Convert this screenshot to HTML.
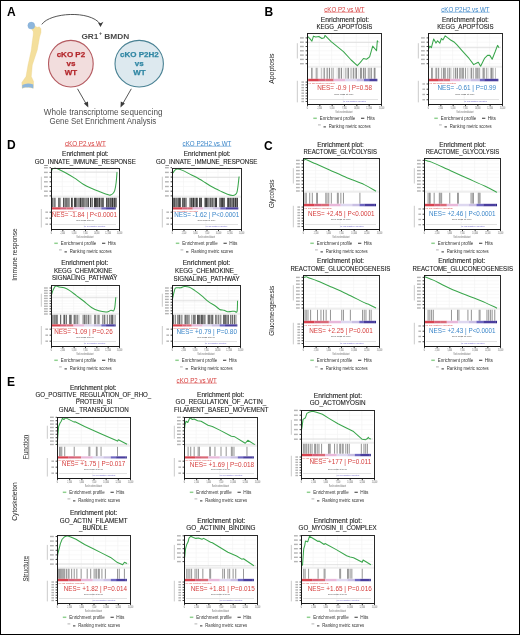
<!DOCTYPE html>
<html><head><meta charset="utf-8"><style>
html,body{margin:0;padding:0;background:#fff;}
body{width:520px;height:635px;overflow:hidden;position:relative;}
svg{position:absolute;left:0;top:0;font-family:"Liberation Sans", sans-serif;will-change:transform;}
.frame{position:absolute;left:0;top:0;width:518px;height:633px;border:1px solid #000;}
</style></head><body>
<svg width="520" height="635" viewBox="0 0 520 635">
<line x1="319.33" y1="34.00" x2="319.33" y2="66.00" stroke="#f1f1f1" stroke-width="0.6" />
<line x1="331.67" y1="34.00" x2="331.67" y2="66.00" stroke="#f1f1f1" stroke-width="0.6" />
<line x1="344.00" y1="34.00" x2="344.00" y2="66.00" stroke="#f1f1f1" stroke-width="0.6" />
<line x1="356.33" y1="34.00" x2="356.33" y2="66.00" stroke="#f1f1f1" stroke-width="0.6" />
<line x1="368.67" y1="34.00" x2="368.67" y2="66.00" stroke="#f1f1f1" stroke-width="0.6" />
<line x1="308.00" y1="37.90" x2="380.00" y2="37.90" stroke="#f4f4f4" stroke-width="0.6" />
<line x1="305.60" y1="37.90" x2="307.00" y2="37.90" stroke="#333" stroke-width="0.9" />
<rect x="300.00" y="37.20" width="3.80" height="1.40" fill="#b4b4b4" />
<line x1="308.00" y1="42.20" x2="380.00" y2="42.20" stroke="#f4f4f4" stroke-width="0.6" />
<line x1="305.60" y1="42.20" x2="307.00" y2="42.20" stroke="#333" stroke-width="0.9" />
<rect x="300.00" y="41.50" width="3.80" height="1.40" fill="#b4b4b4" />
<line x1="308.00" y1="46.50" x2="380.00" y2="46.50" stroke="#f4f4f4" stroke-width="0.6" />
<line x1="305.60" y1="46.50" x2="307.00" y2="46.50" stroke="#333" stroke-width="0.9" />
<rect x="300.00" y="45.80" width="3.80" height="1.40" fill="#b4b4b4" />
<line x1="308.00" y1="50.80" x2="380.00" y2="50.80" stroke="#f4f4f4" stroke-width="0.6" />
<line x1="305.60" y1="50.80" x2="307.00" y2="50.80" stroke="#333" stroke-width="0.9" />
<rect x="300.00" y="50.10" width="3.80" height="1.40" fill="#b4b4b4" />
<line x1="308.00" y1="55.10" x2="380.00" y2="55.10" stroke="#f4f4f4" stroke-width="0.6" />
<line x1="305.60" y1="55.10" x2="307.00" y2="55.10" stroke="#333" stroke-width="0.9" />
<rect x="300.00" y="54.40" width="3.80" height="1.40" fill="#b4b4b4" />
<line x1="308.00" y1="59.40" x2="380.00" y2="59.40" stroke="#f4f4f4" stroke-width="0.6" />
<line x1="305.60" y1="59.40" x2="307.00" y2="59.40" stroke="#333" stroke-width="0.9" />
<rect x="300.00" y="58.70" width="3.80" height="1.40" fill="#b4b4b4" />
<line x1="308.00" y1="63.70" x2="380.00" y2="63.70" stroke="#f4f4f4" stroke-width="0.6" />
<line x1="305.60" y1="63.70" x2="307.00" y2="63.70" stroke="#333" stroke-width="0.9" />
<rect x="300.00" y="63.00" width="3.80" height="1.40" fill="#b4b4b4" />
<rect x="308.00" y="65.70" width="73.00" height="1.30" fill="#f0f0f0" />
<line x1="308.00" y1="67.30" x2="381.00" y2="67.30" stroke="#dcdcdc" stroke-width="0.5" />
<line x1="308.00" y1="42.31" x2="380.00" y2="42.31" stroke="#d9d9d9" stroke-width="0.8" />
<line x1="305.60" y1="82.08" x2="307.00" y2="82.08" stroke="#333" stroke-width="0.9" />
<rect x="301.40" y="81.38" width="2.60" height="1.40" fill="#b4b4b4" />
<line x1="305.60" y1="84.85" x2="307.00" y2="84.85" stroke="#333" stroke-width="0.9" />
<rect x="301.40" y="84.15" width="2.60" height="1.40" fill="#b4b4b4" />
<line x1="305.60" y1="87.63" x2="307.00" y2="87.63" stroke="#333" stroke-width="0.9" />
<rect x="301.40" y="86.93" width="2.60" height="1.40" fill="#b4b4b4" />
<line x1="305.60" y1="90.40" x2="307.00" y2="90.40" stroke="#333" stroke-width="0.9" />
<rect x="301.40" y="89.70" width="2.60" height="1.40" fill="#b4b4b4" />
<line x1="305.60" y1="93.18" x2="307.00" y2="93.18" stroke="#333" stroke-width="0.9" />
<rect x="301.40" y="92.48" width="2.60" height="1.40" fill="#b4b4b4" />
<line x1="305.60" y1="95.95" x2="307.00" y2="95.95" stroke="#333" stroke-width="0.9" />
<rect x="301.40" y="95.25" width="2.60" height="1.40" fill="#b4b4b4" />
<line x1="305.60" y1="98.73" x2="307.00" y2="98.73" stroke="#333" stroke-width="0.9" />
<rect x="301.40" y="98.03" width="2.60" height="1.40" fill="#b4b4b4" />
<line x1="305.60" y1="101.50" x2="307.00" y2="101.50" stroke="#333" stroke-width="0.9" />
<rect x="301.40" y="100.80" width="2.60" height="1.40" fill="#b4b4b4" />
<line x1="309.00" y1="99.50" x2="378.00" y2="99.50" stroke="#d6d6d6" stroke-width="0.7" />
<line x1="343.26" y1="93.78" x2="343.26" y2="103.50" stroke="#e0e0e0" stroke-width="0.6" stroke-dasharray="0.8,0.8"/>
<rect x="311.00" y="67.80" width="1.00" height="11.00" fill="rgb(161,161,161)" />
<rect x="312.00" y="67.80" width="1.00" height="11.00" fill="rgb(193,193,193)" />
<rect x="313.00" y="67.80" width="1.00" height="11.00" fill="rgb(250,250,250)" />
<rect x="314.00" y="67.80" width="1.00" height="11.00" fill="rgb(250,250,250)" />
<rect x="315.00" y="67.80" width="1.00" height="11.00" fill="rgb(221,221,221)" />
<rect x="316.00" y="67.80" width="1.00" height="11.00" fill="rgb(176,176,176)" />
<rect x="317.00" y="67.80" width="1.00" height="11.00" fill="rgb(201,201,201)" />
<rect x="318.00" y="67.80" width="1.00" height="11.00" fill="rgb(247,247,247)" />
<rect x="319.00" y="67.80" width="1.00" height="11.00" fill="rgb(250,250,250)" />
<rect x="320.00" y="67.80" width="1.00" height="11.00" fill="rgb(241,241,241)" />
<rect x="321.00" y="67.80" width="1.00" height="11.00" fill="rgb(200,200,200)" />
<rect x="322.00" y="67.80" width="1.00" height="11.00" fill="rgb(243,243,243)" />
<rect x="323.00" y="67.80" width="1.00" height="11.00" fill="rgb(205,205,205)" />
<rect x="324.00" y="67.80" width="1.00" height="11.00" fill="rgb(163,163,163)" />
<rect x="325.00" y="67.80" width="1.00" height="11.00" fill="rgb(250,250,250)" />
<rect x="326.00" y="67.80" width="1.00" height="11.00" fill="rgb(207,207,207)" />
<rect x="327.00" y="67.80" width="1.00" height="11.00" fill="rgb(170,170,170)" />
<rect x="328.00" y="67.80" width="1.00" height="11.00" fill="rgb(240,240,240)" />
<rect x="329.00" y="67.80" width="1.00" height="11.00" fill="rgb(140,140,140)" />
<rect x="330.00" y="67.80" width="1.00" height="11.00" fill="rgb(250,250,250)" />
<rect x="331.00" y="67.80" width="1.00" height="11.00" fill="rgb(187,187,187)" />
<rect x="332.00" y="67.80" width="1.00" height="11.00" fill="rgb(214,214,214)" />
<rect x="333.00" y="67.80" width="1.00" height="11.00" fill="rgb(194,194,194)" />
<rect x="334.00" y="67.80" width="1.00" height="11.00" fill="rgb(250,250,250)" />
<rect x="335.00" y="67.80" width="1.00" height="11.00" fill="rgb(250,250,250)" />
<rect x="336.00" y="67.80" width="1.00" height="11.00" fill="rgb(241,241,241)" />
<rect x="337.00" y="67.80" width="1.00" height="11.00" fill="rgb(236,236,236)" />
<rect x="338.00" y="67.80" width="1.00" height="11.00" fill="rgb(169,169,169)" />
<rect x="339.00" y="67.80" width="1.00" height="11.00" fill="rgb(169,169,169)" />
<rect x="340.00" y="67.80" width="1.00" height="11.00" fill="rgb(228,228,228)" />
<rect x="341.00" y="67.80" width="1.00" height="11.00" fill="rgb(145,145,145)" />
<rect x="342.00" y="67.80" width="1.00" height="11.00" fill="rgb(250,250,250)" />
<rect x="343.00" y="67.80" width="1.00" height="11.00" fill="rgb(234,234,234)" />
<rect x="344.00" y="67.80" width="1.00" height="11.00" fill="rgb(238,238,238)" />
<rect x="345.00" y="67.80" width="1.00" height="11.00" fill="rgb(192,192,192)" />
<rect x="346.00" y="67.80" width="1.00" height="11.00" fill="rgb(218,218,218)" />
<rect x="347.00" y="67.80" width="1.00" height="11.00" fill="rgb(196,196,196)" />
<rect x="348.00" y="67.80" width="1.00" height="11.00" fill="rgb(144,144,144)" />
<rect x="349.00" y="67.80" width="1.00" height="11.00" fill="rgb(250,250,250)" />
<rect x="350.00" y="67.80" width="1.00" height="11.00" fill="rgb(209,209,209)" />
<rect x="351.00" y="67.80" width="1.00" height="11.00" fill="rgb(203,203,203)" />
<rect x="352.00" y="67.80" width="1.00" height="11.00" fill="rgb(228,228,228)" />
<rect x="353.00" y="67.80" width="1.00" height="11.00" fill="rgb(154,154,154)" />
<rect x="354.00" y="67.80" width="1.00" height="11.00" fill="rgb(223,223,223)" />
<rect x="355.00" y="67.80" width="1.00" height="11.00" fill="rgb(187,187,187)" />
<rect x="356.00" y="67.80" width="1.00" height="11.00" fill="rgb(142,142,142)" />
<rect x="357.00" y="67.80" width="1.00" height="11.00" fill="rgb(250,250,250)" />
<rect x="358.00" y="67.80" width="1.00" height="11.00" fill="rgb(234,234,234)" />
<rect x="359.00" y="67.80" width="1.00" height="11.00" fill="rgb(244,244,244)" />
<rect x="360.00" y="67.80" width="1.00" height="11.00" fill="rgb(151,151,151)" />
<rect x="361.00" y="67.80" width="1.00" height="11.00" fill="rgb(155,155,155)" />
<rect x="362.00" y="67.80" width="1.00" height="11.00" fill="rgb(243,243,243)" />
<rect x="363.00" y="67.80" width="1.00" height="11.00" fill="rgb(142,142,142)" />
<rect x="364.00" y="67.80" width="1.00" height="11.00" fill="rgb(198,198,198)" />
<rect x="365.00" y="67.80" width="1.00" height="11.00" fill="rgb(160,160,160)" />
<rect x="366.00" y="67.80" width="1.00" height="11.00" fill="rgb(250,250,250)" />
<rect x="367.00" y="67.80" width="1.00" height="11.00" fill="rgb(233,233,233)" />
<rect x="368.00" y="67.80" width="1.00" height="11.00" fill="rgb(183,183,183)" />
<rect x="369.00" y="67.80" width="1.00" height="11.00" fill="rgb(191,191,191)" />
<rect x="370.00" y="67.80" width="1.00" height="11.00" fill="rgb(202,202,202)" />
<rect x="371.00" y="67.80" width="1.00" height="11.00" fill="rgb(159,159,159)" />
<rect x="372.00" y="67.80" width="1.00" height="11.00" fill="rgb(250,250,250)" />
<rect x="373.00" y="67.80" width="1.00" height="11.00" fill="rgb(225,225,225)" />
<rect x="374.00" y="67.80" width="1.00" height="11.00" fill="rgb(144,144,144)" />
<rect x="375.00" y="67.80" width="1.00" height="11.00" fill="rgb(200,200,200)" />
<rect x="308.18" y="78.80" width="10.71" height="2.48" fill="#d8424f" />
<rect x="318.84" y="78.80" width="6.71" height="2.48" fill="#d6607a" />
<rect x="325.50" y="78.80" width="8.19" height="2.48" fill="#da6a78" />
<rect x="333.64" y="78.80" width="11.89" height="2.48" fill="#e8b8da" />
<rect x="345.48" y="78.80" width="11.15" height="2.48" fill="#ded8f0" />
<rect x="356.58" y="78.80" width="7.45" height="2.48" fill="#cac0e4" />
<rect x="363.98" y="78.80" width="5.23" height="2.48" fill="#7068c2" />
<rect x="369.16" y="78.80" width="7.08" height="2.48" fill="#4a3e9e" />
<rect x="376.19" y="78.80" width="1.16" height="2.48" fill="#302888" />
<text x="308.50" y="83.58" font-size="2.0" fill="#d6403f" font-weight="normal" text-anchor="start" textLength="26.62" lengthAdjust="spacingAndGlyphs" >na_pos (positively correlated)</text>
<text x="343.26" y="102.40" font-size="2.2" fill="#5a50c0" font-weight="normal" text-anchor="start" textLength="22.94" lengthAdjust="spacingAndGlyphs" >na_neg (negatively correlated)</text>
<text x="334.38" y="95.14" font-size="2.3" fill="#444" font-weight="normal" text-anchor="start" textLength="19.24" lengthAdjust="spacingAndGlyphs" >Zero cross at 7919</text>
<polyline points="307.31,36.15 309.62,38.46 311.92,41.08 313.46,36.15 315.77,36.92 318.85,36.46 321.92,38.46 324.23,37.69 325.00,35.38 331.15,41.54 343.46,51.54 351.15,60.00 357.31,65.69 360.38,62.31 363.46,58.46 366.54,59.23 369.62,56.92 372.69,46.15 376.54,50.77 377.31,40.77 378.08,42.00" fill="none" stroke="#3aa64c" stroke-width="1.05" stroke-linejoin="round"/>
<text x="317.30" y="90.30" font-size="7.3" fill="#d6403f" font-weight="normal" text-anchor="start" textLength="54.70" lengthAdjust="spacingAndGlyphs" >NES= -0.9 | P=0.58</text>
<rect x="307.5" y="33.5" width="74" height="71" fill="none" stroke="#2a2a2a" stroke-width="1"/>
<line x1="307.50" y1="33.00" x2="307.50" y2="105.00" stroke="#1a1a1a" stroke-width="1.0" />
<line x1="307.00" y1="104.50" x2="382.00" y2="104.50" stroke="#1a1a1a" stroke-width="1.1" />
<line x1="307.50" y1="105.00" x2="307.50" y2="106.20" stroke="#222" stroke-width="0.9" />
<text x="306.85" y="109.00" font-size="3.1" fill="#666" font-weight="normal" text-anchor="start" textLength="1.30" lengthAdjust="spacingAndGlyphs" >0</text>
<line x1="319.83" y1="105.00" x2="319.83" y2="106.20" stroke="#222" stroke-width="0.9" />
<text x="317.53" y="109.00" font-size="3.1" fill="#666" font-weight="normal" text-anchor="start" textLength="4.60" lengthAdjust="spacingAndGlyphs" >2,500</text>
<line x1="332.17" y1="105.00" x2="332.17" y2="106.20" stroke="#222" stroke-width="0.9" />
<text x="329.87" y="109.00" font-size="3.1" fill="#666" font-weight="normal" text-anchor="start" textLength="4.60" lengthAdjust="spacingAndGlyphs" >5,000</text>
<line x1="344.50" y1="105.00" x2="344.50" y2="106.20" stroke="#222" stroke-width="0.9" />
<text x="342.20" y="109.00" font-size="3.1" fill="#666" font-weight="normal" text-anchor="start" textLength="4.60" lengthAdjust="spacingAndGlyphs" >7,500</text>
<line x1="356.83" y1="105.00" x2="356.83" y2="106.20" stroke="#222" stroke-width="0.9" />
<text x="354.03" y="109.00" font-size="3.1" fill="#666" font-weight="normal" text-anchor="start" textLength="5.60" lengthAdjust="spacingAndGlyphs" >10,000</text>
<line x1="369.17" y1="105.00" x2="369.17" y2="106.20" stroke="#222" stroke-width="0.9" />
<text x="366.37" y="109.00" font-size="3.1" fill="#666" font-weight="normal" text-anchor="start" textLength="5.60" lengthAdjust="spacingAndGlyphs" >12,500</text>
<line x1="381.50" y1="105.00" x2="381.50" y2="106.20" stroke="#222" stroke-width="0.9" />
<text x="378.70" y="109.00" font-size="3.1" fill="#666" font-weight="normal" text-anchor="start" textLength="5.60" lengthAdjust="spacingAndGlyphs" >15,000</text>
<text x="335.50" y="113.00" font-size="2.9" fill="#666" font-weight="normal" text-anchor="start" textLength="17.00" lengthAdjust="spacingAndGlyphs" >Rank in ordered dataset</text>
<rect x="296.80" y="43.20" width="1.10" height="15.30" fill="#d0d0d0" />
<rect x="296.80" y="80.78" width="1.10" height="21.58" fill="#d0d0d0" />
<line x1="313.30" y1="118.30" x2="316.80" y2="118.30" stroke="#8fd08f" stroke-width="1.5" />
<text x="319.80" y="119.90" font-size="5.3" fill="#333" font-weight="normal" text-anchor="start" textLength="35.40" lengthAdjust="spacingAndGlyphs" >Enrichment profile</text>
<line x1="361.00" y1="118.30" x2="364.30" y2="118.30" stroke="#555" stroke-width="1.2" />
<text x="366.80" y="119.90" font-size="5.3" fill="#333" font-weight="normal" text-anchor="start" textLength="8.20" lengthAdjust="spacingAndGlyphs" >Hits</text>
<line x1="318.00" y1="124.90" x2="320.80" y2="124.90" stroke="#aaa" stroke-width="0.9" />
<line x1="323.50" y1="126.90" x2="325.90" y2="126.90" stroke="#333" stroke-width="1.0" />
<text x="328.80" y="127.60" font-size="5.3" fill="#333" font-weight="normal" text-anchor="start" textLength="41.80" lengthAdjust="spacingAndGlyphs" >Ranking metric scores</text>
<line x1="440.33" y1="34.00" x2="440.33" y2="66.00" stroke="#f1f1f1" stroke-width="0.6" />
<line x1="452.67" y1="34.00" x2="452.67" y2="66.00" stroke="#f1f1f1" stroke-width="0.6" />
<line x1="465.00" y1="34.00" x2="465.00" y2="66.00" stroke="#f1f1f1" stroke-width="0.6" />
<line x1="477.33" y1="34.00" x2="477.33" y2="66.00" stroke="#f1f1f1" stroke-width="0.6" />
<line x1="489.67" y1="34.00" x2="489.67" y2="66.00" stroke="#f1f1f1" stroke-width="0.6" />
<line x1="429.00" y1="37.90" x2="501.00" y2="37.90" stroke="#f4f4f4" stroke-width="0.6" />
<line x1="426.60" y1="37.90" x2="428.00" y2="37.90" stroke="#333" stroke-width="0.9" />
<rect x="421.00" y="37.20" width="3.80" height="1.40" fill="#b4b4b4" />
<line x1="429.00" y1="42.20" x2="501.00" y2="42.20" stroke="#f4f4f4" stroke-width="0.6" />
<line x1="426.60" y1="42.20" x2="428.00" y2="42.20" stroke="#333" stroke-width="0.9" />
<rect x="421.00" y="41.50" width="3.80" height="1.40" fill="#b4b4b4" />
<line x1="429.00" y1="46.50" x2="501.00" y2="46.50" stroke="#f4f4f4" stroke-width="0.6" />
<line x1="426.60" y1="46.50" x2="428.00" y2="46.50" stroke="#333" stroke-width="0.9" />
<rect x="421.00" y="45.80" width="3.80" height="1.40" fill="#b4b4b4" />
<line x1="429.00" y1="50.80" x2="501.00" y2="50.80" stroke="#f4f4f4" stroke-width="0.6" />
<line x1="426.60" y1="50.80" x2="428.00" y2="50.80" stroke="#333" stroke-width="0.9" />
<rect x="421.00" y="50.10" width="3.80" height="1.40" fill="#b4b4b4" />
<line x1="429.00" y1="55.10" x2="501.00" y2="55.10" stroke="#f4f4f4" stroke-width="0.6" />
<line x1="426.60" y1="55.10" x2="428.00" y2="55.10" stroke="#333" stroke-width="0.9" />
<rect x="421.00" y="54.40" width="3.80" height="1.40" fill="#b4b4b4" />
<line x1="429.00" y1="59.40" x2="501.00" y2="59.40" stroke="#f4f4f4" stroke-width="0.6" />
<line x1="426.60" y1="59.40" x2="428.00" y2="59.40" stroke="#333" stroke-width="0.9" />
<rect x="421.00" y="58.70" width="3.80" height="1.40" fill="#b4b4b4" />
<line x1="429.00" y1="63.70" x2="501.00" y2="63.70" stroke="#f4f4f4" stroke-width="0.6" />
<line x1="426.60" y1="63.70" x2="428.00" y2="63.70" stroke="#333" stroke-width="0.9" />
<rect x="421.00" y="63.00" width="3.80" height="1.40" fill="#b4b4b4" />
<rect x="429.00" y="65.70" width="73.00" height="1.30" fill="#f0f0f0" />
<line x1="429.00" y1="67.30" x2="502.00" y2="67.30" stroke="#dcdcdc" stroke-width="0.5" />
<line x1="429.00" y1="47.69" x2="501.00" y2="47.69" stroke="#d9d9d9" stroke-width="0.8" />
<line x1="426.60" y1="83.98" x2="428.00" y2="83.98" stroke="#333" stroke-width="0.9" />
<rect x="422.40" y="83.28" width="2.60" height="1.40" fill="#b4b4b4" />
<line x1="426.60" y1="89.23" x2="428.00" y2="89.23" stroke="#333" stroke-width="0.9" />
<rect x="422.40" y="88.53" width="2.60" height="1.40" fill="#b4b4b4" />
<line x1="426.60" y1="94.48" x2="428.00" y2="94.48" stroke="#333" stroke-width="0.9" />
<rect x="422.40" y="93.78" width="2.60" height="1.40" fill="#b4b4b4" />
<line x1="426.60" y1="99.73" x2="428.00" y2="99.73" stroke="#333" stroke-width="0.9" />
<rect x="422.40" y="99.03" width="2.60" height="1.40" fill="#b4b4b4" />
<line x1="430.00" y1="99.50" x2="499.00" y2="99.50" stroke="#d6d6d6" stroke-width="0.7" />
<line x1="464.26" y1="93.78" x2="464.26" y2="103.50" stroke="#e0e0e0" stroke-width="0.6" stroke-dasharray="0.8,0.8"/>
<rect x="431.00" y="67.80" width="1.00" height="11.00" fill="rgb(157,157,157)" />
<rect x="432.00" y="67.80" width="1.00" height="11.00" fill="rgb(171,171,171)" />
<rect x="433.00" y="67.80" width="1.00" height="11.00" fill="rgb(250,250,250)" />
<rect x="434.00" y="67.80" width="1.00" height="11.00" fill="rgb(250,250,250)" />
<rect x="435.00" y="67.80" width="1.00" height="11.00" fill="rgb(197,197,197)" />
<rect x="436.00" y="67.80" width="1.00" height="11.00" fill="rgb(163,163,163)" />
<rect x="437.00" y="67.80" width="1.00" height="11.00" fill="rgb(229,229,229)" />
<rect x="438.00" y="67.80" width="1.00" height="11.00" fill="rgb(155,155,155)" />
<rect x="439.00" y="67.80" width="1.00" height="11.00" fill="rgb(234,234,234)" />
<rect x="440.00" y="67.80" width="1.00" height="11.00" fill="rgb(250,250,250)" />
<rect x="441.00" y="67.80" width="1.00" height="11.00" fill="rgb(184,184,184)" />
<rect x="442.00" y="67.80" width="1.00" height="11.00" fill="rgb(241,241,241)" />
<rect x="443.00" y="67.80" width="1.00" height="11.00" fill="rgb(150,150,150)" />
<rect x="444.00" y="67.80" width="1.00" height="11.00" fill="rgb(169,169,169)" />
<rect x="445.00" y="67.80" width="1.00" height="11.00" fill="rgb(174,174,174)" />
<rect x="446.00" y="67.80" width="1.00" height="11.00" fill="rgb(250,250,250)" />
<rect x="447.00" y="67.80" width="1.00" height="11.00" fill="rgb(180,180,180)" />
<rect x="448.00" y="67.80" width="1.00" height="11.00" fill="rgb(216,216,216)" />
<rect x="449.00" y="67.80" width="1.00" height="11.00" fill="rgb(162,162,162)" />
<rect x="450.00" y="67.80" width="1.00" height="11.00" fill="rgb(210,210,210)" />
<rect x="451.00" y="67.80" width="1.00" height="11.00" fill="rgb(227,227,227)" />
<rect x="452.00" y="67.80" width="1.00" height="11.00" fill="rgb(250,250,250)" />
<rect x="453.00" y="67.80" width="1.00" height="11.00" fill="rgb(195,195,195)" />
<rect x="454.00" y="67.80" width="1.00" height="11.00" fill="rgb(230,230,230)" />
<rect x="455.00" y="67.80" width="1.00" height="11.00" fill="rgb(146,146,146)" />
<rect x="456.00" y="67.80" width="1.00" height="11.00" fill="rgb(213,213,213)" />
<rect x="457.00" y="67.80" width="1.00" height="11.00" fill="rgb(142,142,142)" />
<rect x="458.00" y="67.80" width="1.00" height="11.00" fill="rgb(250,250,250)" />
<rect x="459.00" y="67.80" width="1.00" height="11.00" fill="rgb(173,173,173)" />
<rect x="460.00" y="67.80" width="1.00" height="11.00" fill="rgb(179,179,179)" />
<rect x="461.00" y="67.80" width="1.00" height="11.00" fill="rgb(193,193,193)" />
<rect x="462.00" y="67.80" width="1.00" height="11.00" fill="rgb(164,164,164)" />
<rect x="463.00" y="67.80" width="1.00" height="11.00" fill="rgb(163,163,163)" />
<rect x="464.00" y="67.80" width="1.00" height="11.00" fill="rgb(248,248,248)" />
<rect x="465.00" y="67.80" width="1.00" height="11.00" fill="rgb(154,154,154)" />
<rect x="466.00" y="67.80" width="1.00" height="11.00" fill="rgb(250,250,250)" />
<rect x="467.00" y="67.80" width="1.00" height="11.00" fill="rgb(207,207,207)" />
<rect x="468.00" y="67.80" width="1.00" height="11.00" fill="rgb(233,233,233)" />
<rect x="469.00" y="67.80" width="1.00" height="11.00" fill="rgb(239,239,239)" />
<rect x="470.00" y="67.80" width="1.00" height="11.00" fill="rgb(212,212,212)" />
<rect x="471.00" y="67.80" width="1.00" height="11.00" fill="rgb(147,147,147)" />
<rect x="472.00" y="67.80" width="1.00" height="11.00" fill="rgb(229,229,229)" />
<rect x="473.00" y="67.80" width="1.00" height="11.00" fill="rgb(181,181,181)" />
<rect x="474.00" y="67.80" width="1.00" height="11.00" fill="rgb(250,250,250)" />
<rect x="475.00" y="67.80" width="1.00" height="11.00" fill="rgb(182,182,182)" />
<rect x="476.00" y="67.80" width="1.00" height="11.00" fill="rgb(173,173,173)" />
<rect x="477.00" y="67.80" width="1.00" height="11.00" fill="rgb(163,163,163)" />
<rect x="478.00" y="67.80" width="1.00" height="11.00" fill="rgb(190,190,190)" />
<rect x="479.00" y="67.80" width="1.00" height="11.00" fill="rgb(179,179,179)" />
<rect x="480.00" y="67.80" width="1.00" height="11.00" fill="rgb(239,239,239)" />
<rect x="481.00" y="67.80" width="1.00" height="11.00" fill="rgb(250,250,250)" />
<rect x="482.00" y="67.80" width="1.00" height="11.00" fill="rgb(205,205,205)" />
<rect x="483.00" y="67.80" width="1.00" height="11.00" fill="rgb(158,158,158)" />
<rect x="484.00" y="67.80" width="1.00" height="11.00" fill="rgb(175,175,175)" />
<rect x="485.00" y="67.80" width="1.00" height="11.00" fill="rgb(245,245,245)" />
<rect x="486.00" y="67.80" width="1.00" height="11.00" fill="rgb(174,174,174)" />
<rect x="487.00" y="67.80" width="1.00" height="11.00" fill="rgb(225,225,225)" />
<rect x="488.00" y="67.80" width="1.00" height="11.00" fill="rgb(228,228,228)" />
<rect x="489.00" y="67.80" width="1.00" height="11.00" fill="rgb(250,250,250)" />
<rect x="490.00" y="67.80" width="1.00" height="11.00" fill="rgb(195,195,195)" />
<rect x="491.00" y="67.80" width="1.00" height="11.00" fill="rgb(146,146,146)" />
<rect x="492.00" y="67.80" width="1.00" height="11.00" fill="rgb(183,183,183)" />
<rect x="493.00" y="67.80" width="1.00" height="11.00" fill="rgb(208,208,208)" />
<rect x="494.00" y="67.80" width="1.00" height="11.00" fill="rgb(250,250,250)" />
<rect x="495.00" y="67.80" width="1.00" height="11.00" fill="rgb(193,193,193)" />
<rect x="428.52" y="78.80" width="9.52" height="2.48" fill="#d8424f" />
<rect x="437.99" y="78.80" width="5.54" height="2.48" fill="#d6607a" />
<rect x="443.48" y="78.80" width="6.77" height="2.48" fill="#da6a78" />
<rect x="450.20" y="78.80" width="10.41" height="2.48" fill="#e8b8da" />
<rect x="460.56" y="78.80" width="10.41" height="2.48" fill="#ded8f0" />
<rect x="470.92" y="78.80" width="8.93" height="2.48" fill="#cac0e4" />
<rect x="479.80" y="78.80" width="4.49" height="2.48" fill="#7068c2" />
<rect x="484.24" y="78.80" width="13.00" height="2.48" fill="#4a3e9e" />
<rect x="497.19" y="78.80" width="1.16" height="2.48" fill="#302888" />
<text x="429.50" y="83.58" font-size="2.0" fill="#d6403f" font-weight="normal" text-anchor="start" textLength="26.62" lengthAdjust="spacingAndGlyphs" >na_pos (positively correlated)</text>
<text x="464.26" y="102.40" font-size="2.2" fill="#5a50c0" font-weight="normal" text-anchor="start" textLength="22.94" lengthAdjust="spacingAndGlyphs" >na_neg (negatively correlated)</text>
<text x="455.38" y="95.14" font-size="2.3" fill="#444" font-weight="normal" text-anchor="start" textLength="19.24" lengthAdjust="spacingAndGlyphs" >Zero cross at 7919</text>
<polyline points="428.31,49.23 429.85,46.15 431.38,47.69 433.69,38.92 436.00,43.08 437.54,40.77 439.85,43.08 441.38,38.46 442.92,40.00 445.23,35.85 447.54,37.69 450.62,40.00 454.46,42.31 456.77,44.62 462.92,51.54 469.08,58.46 473.69,64.62 476.77,63.08 478.31,62.31 480.62,66.15 484.46,58.46 487.54,55.38 489.85,55.38 492.15,59.23 495.23,51.54 497.54,45.38 499.08,47.69" fill="none" stroke="#3aa64c" stroke-width="1.05" stroke-linejoin="round"/>
<text x="437.50" y="90.30" font-size="7.3" fill="#3b86c9" font-weight="normal" text-anchor="start" textLength="58.50" lengthAdjust="spacingAndGlyphs" >NES= -0.61 | P=0.99</text>
<rect x="428.5" y="33.5" width="74" height="71" fill="none" stroke="#2a2a2a" stroke-width="1"/>
<line x1="428.50" y1="33.00" x2="428.50" y2="105.00" stroke="#1a1a1a" stroke-width="1.0" />
<line x1="428.00" y1="104.50" x2="503.00" y2="104.50" stroke="#1a1a1a" stroke-width="1.1" />
<line x1="428.50" y1="105.00" x2="428.50" y2="106.20" stroke="#222" stroke-width="0.9" />
<text x="427.85" y="109.00" font-size="3.1" fill="#666" font-weight="normal" text-anchor="start" textLength="1.30" lengthAdjust="spacingAndGlyphs" >0</text>
<line x1="440.83" y1="105.00" x2="440.83" y2="106.20" stroke="#222" stroke-width="0.9" />
<text x="438.53" y="109.00" font-size="3.1" fill="#666" font-weight="normal" text-anchor="start" textLength="4.60" lengthAdjust="spacingAndGlyphs" >2,500</text>
<line x1="453.17" y1="105.00" x2="453.17" y2="106.20" stroke="#222" stroke-width="0.9" />
<text x="450.87" y="109.00" font-size="3.1" fill="#666" font-weight="normal" text-anchor="start" textLength="4.60" lengthAdjust="spacingAndGlyphs" >5,000</text>
<line x1="465.50" y1="105.00" x2="465.50" y2="106.20" stroke="#222" stroke-width="0.9" />
<text x="463.20" y="109.00" font-size="3.1" fill="#666" font-weight="normal" text-anchor="start" textLength="4.60" lengthAdjust="spacingAndGlyphs" >7,500</text>
<line x1="477.83" y1="105.00" x2="477.83" y2="106.20" stroke="#222" stroke-width="0.9" />
<text x="475.03" y="109.00" font-size="3.1" fill="#666" font-weight="normal" text-anchor="start" textLength="5.60" lengthAdjust="spacingAndGlyphs" >10,000</text>
<line x1="490.17" y1="105.00" x2="490.17" y2="106.20" stroke="#222" stroke-width="0.9" />
<text x="487.37" y="109.00" font-size="3.1" fill="#666" font-weight="normal" text-anchor="start" textLength="5.60" lengthAdjust="spacingAndGlyphs" >12,500</text>
<line x1="502.50" y1="105.00" x2="502.50" y2="106.20" stroke="#222" stroke-width="0.9" />
<text x="499.70" y="109.00" font-size="3.1" fill="#666" font-weight="normal" text-anchor="start" textLength="5.60" lengthAdjust="spacingAndGlyphs" >15,000</text>
<text x="456.50" y="113.00" font-size="2.9" fill="#666" font-weight="normal" text-anchor="start" textLength="17.00" lengthAdjust="spacingAndGlyphs" >Rank in ordered dataset</text>
<rect x="417.80" y="43.20" width="1.10" height="15.30" fill="#d0d0d0" />
<rect x="417.80" y="80.78" width="1.10" height="21.58" fill="#d0d0d0" />
<line x1="434.30" y1="118.30" x2="437.80" y2="118.30" stroke="#8fd08f" stroke-width="1.5" />
<text x="440.80" y="119.90" font-size="5.3" fill="#333" font-weight="normal" text-anchor="start" textLength="35.40" lengthAdjust="spacingAndGlyphs" >Enrichment profile</text>
<line x1="482.00" y1="118.30" x2="485.30" y2="118.30" stroke="#555" stroke-width="1.2" />
<text x="487.80" y="119.90" font-size="5.3" fill="#333" font-weight="normal" text-anchor="start" textLength="8.20" lengthAdjust="spacingAndGlyphs" >Hits</text>
<line x1="439.00" y1="124.90" x2="441.80" y2="124.90" stroke="#aaa" stroke-width="0.9" />
<line x1="444.50" y1="126.90" x2="446.90" y2="126.90" stroke="#333" stroke-width="1.0" />
<text x="449.80" y="127.60" font-size="5.3" fill="#333" font-weight="normal" text-anchor="start" textLength="41.80" lengthAdjust="spacingAndGlyphs" >Ranking metric scores</text>
<line x1="62.33" y1="169.00" x2="62.33" y2="196.00" stroke="#f1f1f1" stroke-width="0.6" />
<line x1="73.67" y1="169.00" x2="73.67" y2="196.00" stroke="#f1f1f1" stroke-width="0.6" />
<line x1="85.00" y1="169.00" x2="85.00" y2="196.00" stroke="#f1f1f1" stroke-width="0.6" />
<line x1="96.33" y1="169.00" x2="96.33" y2="196.00" stroke="#f1f1f1" stroke-width="0.6" />
<line x1="107.67" y1="169.00" x2="107.67" y2="196.00" stroke="#f1f1f1" stroke-width="0.6" />
<line x1="52.00" y1="167.70" x2="118.00" y2="167.70" stroke="#f4f4f4" stroke-width="0.6" />
<line x1="49.60" y1="167.70" x2="51.00" y2="167.70" stroke="#333" stroke-width="0.9" />
<rect x="44.00" y="167.00" width="3.80" height="1.40" fill="#b4b4b4" />
<line x1="52.00" y1="172.40" x2="118.00" y2="172.40" stroke="#f4f4f4" stroke-width="0.6" />
<line x1="49.60" y1="172.40" x2="51.00" y2="172.40" stroke="#333" stroke-width="0.9" />
<rect x="44.00" y="171.70" width="3.80" height="1.40" fill="#b4b4b4" />
<line x1="52.00" y1="177.10" x2="118.00" y2="177.10" stroke="#f4f4f4" stroke-width="0.6" />
<line x1="49.60" y1="177.10" x2="51.00" y2="177.10" stroke="#333" stroke-width="0.9" />
<rect x="44.00" y="176.40" width="3.80" height="1.40" fill="#b4b4b4" />
<line x1="52.00" y1="181.80" x2="118.00" y2="181.80" stroke="#f4f4f4" stroke-width="0.6" />
<line x1="49.60" y1="181.80" x2="51.00" y2="181.80" stroke="#333" stroke-width="0.9" />
<rect x="44.00" y="181.10" width="3.80" height="1.40" fill="#b4b4b4" />
<line x1="52.00" y1="186.50" x2="118.00" y2="186.50" stroke="#f4f4f4" stroke-width="0.6" />
<line x1="49.60" y1="186.50" x2="51.00" y2="186.50" stroke="#333" stroke-width="0.9" />
<rect x="44.00" y="185.80" width="3.80" height="1.40" fill="#b4b4b4" />
<line x1="52.00" y1="191.20" x2="118.00" y2="191.20" stroke="#f4f4f4" stroke-width="0.6" />
<line x1="49.60" y1="191.20" x2="51.00" y2="191.20" stroke="#333" stroke-width="0.9" />
<rect x="44.00" y="190.50" width="3.80" height="1.40" fill="#b4b4b4" />
<line x1="52.00" y1="195.90" x2="118.00" y2="195.90" stroke="#f4f4f4" stroke-width="0.6" />
<line x1="49.60" y1="195.90" x2="51.00" y2="195.90" stroke="#333" stroke-width="0.9" />
<rect x="44.00" y="195.20" width="3.80" height="1.40" fill="#b4b4b4" />
<rect x="52.00" y="195.70" width="67.00" height="1.30" fill="#f0f0f0" />
<line x1="52.00" y1="197.30" x2="119.00" y2="197.30" stroke="#dcdcdc" stroke-width="0.5" />
<line x1="52.00" y1="172.11" x2="118.00" y2="172.11" stroke="#d9d9d9" stroke-width="0.8" />
<line x1="49.60" y1="212.18" x2="51.00" y2="212.18" stroke="#333" stroke-width="0.9" />
<rect x="45.40" y="211.48" width="2.60" height="1.40" fill="#b4b4b4" />
<line x1="49.60" y1="218.18" x2="51.00" y2="218.18" stroke="#333" stroke-width="0.9" />
<rect x="45.40" y="217.48" width="2.60" height="1.40" fill="#b4b4b4" />
<line x1="49.60" y1="224.18" x2="51.00" y2="224.18" stroke="#333" stroke-width="0.9" />
<rect x="45.40" y="223.48" width="2.60" height="1.40" fill="#b4b4b4" />
<line x1="53.00" y1="224.50" x2="116.00" y2="224.50" stroke="#d6d6d6" stroke-width="0.7" />
<line x1="84.32" y1="220.22" x2="84.32" y2="228.50" stroke="#e0e0e0" stroke-width="0.6" stroke-dasharray="0.8,0.8"/>
<rect x="52.00" y="197.80" width="1.00" height="9.54" fill="rgb(112,112,112)" />
<rect x="53.00" y="197.80" width="1.00" height="9.54" fill="rgb(165,165,165)" />
<rect x="54.00" y="197.80" width="1.00" height="9.54" fill="rgb(126,126,126)" />
<rect x="55.00" y="197.80" width="1.00" height="9.54" fill="rgb(164,164,164)" />
<rect x="56.00" y="197.80" width="1.00" height="9.54" fill="rgb(250,250,250)" />
<rect x="57.00" y="197.80" width="1.00" height="9.54" fill="rgb(250,250,250)" />
<rect x="58.00" y="197.80" width="1.00" height="9.54" fill="rgb(112,112,112)" />
<rect x="59.00" y="197.80" width="1.00" height="9.54" fill="rgb(120,120,120)" />
<rect x="60.00" y="197.80" width="1.00" height="9.54" fill="rgb(164,164,164)" />
<rect x="61.00" y="197.80" width="1.00" height="9.54" fill="rgb(250,250,250)" />
<rect x="62.00" y="197.80" width="1.00" height="9.54" fill="rgb(250,250,250)" />
<rect x="63.00" y="197.80" width="1.00" height="9.54" fill="rgb(78,78,78)" />
<rect x="64.00" y="197.80" width="1.00" height="9.54" fill="rgb(157,157,157)" />
<rect x="65.00" y="197.80" width="1.00" height="9.54" fill="rgb(120,120,120)" />
<rect x="66.00" y="197.80" width="1.00" height="9.54" fill="rgb(115,115,115)" />
<rect x="67.00" y="197.80" width="1.00" height="9.54" fill="rgb(135,135,135)" />
<rect x="68.00" y="197.80" width="1.00" height="9.54" fill="rgb(133,133,133)" />
<rect x="69.00" y="197.80" width="1.00" height="9.54" fill="rgb(156,156,156)" />
<rect x="70.00" y="197.80" width="1.00" height="9.54" fill="rgb(250,250,250)" />
<rect x="71.00" y="197.80" width="1.00" height="9.54" fill="rgb(67,67,67)" />
<rect x="72.00" y="197.80" width="1.00" height="9.54" fill="rgb(112,112,112)" />
<rect x="73.00" y="197.80" width="1.00" height="9.54" fill="rgb(250,250,250)" />
<rect x="74.00" y="197.80" width="1.00" height="9.54" fill="rgb(73,73,73)" />
<rect x="75.00" y="197.80" width="1.00" height="9.54" fill="rgb(66,66,66)" />
<rect x="76.00" y="197.80" width="1.00" height="9.54" fill="rgb(123,123,123)" />
<rect x="77.00" y="197.80" width="1.00" height="9.54" fill="rgb(158,158,158)" />
<rect x="78.00" y="197.80" width="1.00" height="9.54" fill="rgb(143,143,143)" />
<rect x="79.00" y="197.80" width="1.00" height="9.54" fill="rgb(136,136,136)" />
<rect x="80.00" y="197.80" width="1.00" height="9.54" fill="rgb(60,60,60)" />
<rect x="81.00" y="197.80" width="1.00" height="9.54" fill="rgb(131,131,131)" />
<rect x="82.00" y="197.80" width="1.00" height="9.54" fill="rgb(105,105,105)" />
<rect x="83.00" y="197.80" width="1.00" height="9.54" fill="rgb(112,112,112)" />
<rect x="84.00" y="197.80" width="1.00" height="9.54" fill="rgb(138,138,138)" />
<rect x="85.00" y="197.80" width="1.00" height="9.54" fill="rgb(149,149,149)" />
<rect x="86.00" y="197.80" width="1.00" height="9.54" fill="rgb(133,133,133)" />
<rect x="87.00" y="197.80" width="1.00" height="9.54" fill="rgb(138,138,138)" />
<rect x="88.00" y="197.80" width="1.00" height="9.54" fill="rgb(75,75,75)" />
<rect x="89.00" y="197.80" width="1.00" height="9.54" fill="rgb(250,250,250)" />
<rect x="90.00" y="197.80" width="1.00" height="9.54" fill="rgb(56,56,56)" />
<rect x="91.00" y="197.80" width="1.00" height="9.54" fill="rgb(161,161,161)" />
<rect x="92.00" y="197.80" width="1.00" height="9.54" fill="rgb(122,122,122)" />
<rect x="93.00" y="197.80" width="1.00" height="9.54" fill="rgb(250,250,250)" />
<rect x="94.00" y="197.80" width="1.00" height="9.54" fill="rgb(62,62,62)" />
<rect x="95.00" y="197.80" width="1.00" height="9.54" fill="rgb(59,59,59)" />
<rect x="96.00" y="197.80" width="1.00" height="9.54" fill="rgb(79,79,79)" />
<rect x="97.00" y="197.80" width="1.00" height="9.54" fill="rgb(85,85,85)" />
<rect x="98.00" y="197.80" width="1.00" height="9.54" fill="rgb(131,131,131)" />
<rect x="99.00" y="197.80" width="1.00" height="9.54" fill="rgb(58,58,58)" />
<rect x="100.00" y="197.80" width="1.00" height="9.54" fill="rgb(154,154,154)" />
<rect x="101.00" y="197.80" width="1.00" height="9.54" fill="rgb(114,114,114)" />
<rect x="102.00" y="197.80" width="1.00" height="9.54" fill="rgb(96,96,96)" />
<rect x="103.00" y="197.80" width="1.00" height="9.54" fill="rgb(111,111,111)" />
<rect x="104.00" y="197.80" width="1.00" height="9.54" fill="rgb(250,250,250)" />
<rect x="105.00" y="197.80" width="1.00" height="9.54" fill="rgb(250,250,250)" />
<rect x="106.00" y="197.80" width="1.00" height="9.54" fill="rgb(80,80,80)" />
<rect x="107.00" y="197.80" width="1.00" height="9.54" fill="rgb(121,121,121)" />
<rect x="108.00" y="197.80" width="1.00" height="9.54" fill="rgb(84,84,84)" />
<rect x="109.00" y="197.80" width="1.00" height="9.54" fill="rgb(136,136,136)" />
<rect x="110.00" y="197.80" width="1.00" height="9.54" fill="rgb(92,92,92)" />
<rect x="111.00" y="197.80" width="1.00" height="9.54" fill="rgb(118,118,118)" />
<rect x="112.00" y="197.80" width="1.00" height="9.54" fill="rgb(55,55,55)" />
<rect x="113.00" y="197.80" width="1.00" height="9.54" fill="rgb(139,139,139)" />
<rect x="114.00" y="197.80" width="1.00" height="9.54" fill="rgb(65,65,65)" />
<rect x="115.00" y="197.80" width="1.00" height="9.54" fill="rgb(113,113,113)" />
<rect x="116.00" y="197.80" width="1.00" height="9.54" fill="rgb(138,138,138)" />
<rect x="51.68" y="207.34" width="9.16" height="2.14" fill="#d8424f" />
<rect x="60.79" y="207.34" width="5.74" height="2.14" fill="#d6607a" />
<rect x="66.48" y="207.34" width="7.01" height="2.14" fill="#da6a78" />
<rect x="73.44" y="207.34" width="10.93" height="2.14" fill="#e8b8da" />
<rect x="84.32" y="207.34" width="9.57" height="2.14" fill="#ded8f0" />
<rect x="93.84" y="207.34" width="7.53" height="2.14" fill="#cac0e4" />
<rect x="101.32" y="207.34" width="4.81" height="2.14" fill="#7068c2" />
<rect x="106.08" y="207.34" width="8.55" height="2.14" fill="#4a3e9e" />
<rect x="114.58" y="207.34" width="1.07" height="2.14" fill="#302888" />
<text x="52.50" y="211.78" font-size="2.0" fill="#d6403f" font-weight="normal" text-anchor="start" textLength="24.34" lengthAdjust="spacingAndGlyphs" >na_pos (positively correlated)</text>
<text x="84.32" y="227.40" font-size="2.2" fill="#5a50c0" font-weight="normal" text-anchor="start" textLength="21.08" lengthAdjust="spacingAndGlyphs" >na_neg (negatively correlated)</text>
<text x="76.16" y="221.39" font-size="2.3" fill="#444" font-weight="normal" text-anchor="start" textLength="17.68" lengthAdjust="spacingAndGlyphs" >Zero cross at 7919</text>
<path d="M51.25,171.25 C51.54,170.82 52.26,169.14 52.98,168.65 C53.70,168.16 54.57,168.16 55.58,168.31 C56.59,168.45 57.31,168.74 59.04,169.52 C60.77,170.30 63.36,171.54 65.96,172.98 C68.56,174.42 71.73,176.30 74.61,178.17 C77.50,180.05 80.38,182.50 83.27,184.23 C86.15,185.96 89.04,187.26 91.92,188.56 C94.81,189.85 97.98,191.01 100.57,192.02 C103.17,193.03 105.91,194.09 107.50,194.61 C109.08,195.13 109.23,195.28 110.09,195.13 C110.96,194.99 111.91,194.56 112.69,193.75 C113.47,192.94 114.19,192.16 114.77,190.29 C115.34,188.41 115.78,185.53 116.15,182.50 C116.53,179.47 116.87,173.85 117.02,172.11" fill="none" stroke="#3aa64c" stroke-width="1.05" stroke-linejoin="round"/>
<text x="51.80" y="217.10" font-size="7.3" fill="#d6403f" font-weight="normal" text-anchor="start" textLength="65.20" lengthAdjust="spacingAndGlyphs" >NES= -1.84 | P&lt;0.0001</text>
<rect x="51.5" y="168.5" width="68" height="61" fill="none" stroke="#2a2a2a" stroke-width="1"/>
<line x1="51.50" y1="168.00" x2="51.50" y2="230.00" stroke="#1a1a1a" stroke-width="1.0" />
<line x1="51.00" y1="229.50" x2="120.00" y2="229.50" stroke="#1a1a1a" stroke-width="1.1" />
<line x1="51.50" y1="230.00" x2="51.50" y2="231.20" stroke="#222" stroke-width="0.9" />
<text x="50.85" y="234.00" font-size="3.1" fill="#666" font-weight="normal" text-anchor="start" textLength="1.30" lengthAdjust="spacingAndGlyphs" >0</text>
<line x1="62.83" y1="230.00" x2="62.83" y2="231.20" stroke="#222" stroke-width="0.9" />
<text x="60.53" y="234.00" font-size="3.1" fill="#666" font-weight="normal" text-anchor="start" textLength="4.60" lengthAdjust="spacingAndGlyphs" >2,500</text>
<line x1="74.17" y1="230.00" x2="74.17" y2="231.20" stroke="#222" stroke-width="0.9" />
<text x="71.87" y="234.00" font-size="3.1" fill="#666" font-weight="normal" text-anchor="start" textLength="4.60" lengthAdjust="spacingAndGlyphs" >5,000</text>
<line x1="85.50" y1="230.00" x2="85.50" y2="231.20" stroke="#222" stroke-width="0.9" />
<text x="83.20" y="234.00" font-size="3.1" fill="#666" font-weight="normal" text-anchor="start" textLength="4.60" lengthAdjust="spacingAndGlyphs" >7,500</text>
<line x1="96.83" y1="230.00" x2="96.83" y2="231.20" stroke="#222" stroke-width="0.9" />
<text x="94.03" y="234.00" font-size="3.1" fill="#666" font-weight="normal" text-anchor="start" textLength="5.60" lengthAdjust="spacingAndGlyphs" >10,000</text>
<line x1="108.17" y1="230.00" x2="108.17" y2="231.20" stroke="#222" stroke-width="0.9" />
<text x="105.37" y="234.00" font-size="3.1" fill="#666" font-weight="normal" text-anchor="start" textLength="5.60" lengthAdjust="spacingAndGlyphs" >12,500</text>
<line x1="119.50" y1="230.00" x2="119.50" y2="231.20" stroke="#222" stroke-width="0.9" />
<text x="116.70" y="234.00" font-size="3.1" fill="#666" font-weight="normal" text-anchor="start" textLength="5.60" lengthAdjust="spacingAndGlyphs" >15,000</text>
<text x="76.50" y="238.00" font-size="2.9" fill="#666" font-weight="normal" text-anchor="start" textLength="17.00" lengthAdjust="spacingAndGlyphs" >Rank in ordered dataset</text>
<rect x="40.80" y="176.70" width="1.10" height="13.05" fill="#d0d0d0" />
<rect x="40.80" y="208.98" width="1.10" height="18.54" fill="#d0d0d0" />
<line x1="54.30" y1="243.30" x2="57.80" y2="243.30" stroke="#8fd08f" stroke-width="1.5" />
<text x="60.80" y="244.90" font-size="5.3" fill="#333" font-weight="normal" text-anchor="start" textLength="35.40" lengthAdjust="spacingAndGlyphs" >Enrichment profile</text>
<line x1="102.00" y1="243.30" x2="105.30" y2="243.30" stroke="#555" stroke-width="1.2" />
<text x="107.80" y="244.90" font-size="5.3" fill="#333" font-weight="normal" text-anchor="start" textLength="8.20" lengthAdjust="spacingAndGlyphs" >Hits</text>
<line x1="59.00" y1="249.90" x2="61.80" y2="249.90" stroke="#aaa" stroke-width="0.9" />
<line x1="64.50" y1="251.90" x2="66.90" y2="251.90" stroke="#333" stroke-width="1.0" />
<text x="69.80" y="252.60" font-size="5.3" fill="#333" font-weight="normal" text-anchor="start" textLength="41.80" lengthAdjust="spacingAndGlyphs" >Ranking metric scores</text>
<line x1="183.50" y1="169.00" x2="183.50" y2="196.00" stroke="#f1f1f1" stroke-width="0.6" />
<line x1="195.00" y1="169.00" x2="195.00" y2="196.00" stroke="#f1f1f1" stroke-width="0.6" />
<line x1="206.50" y1="169.00" x2="206.50" y2="196.00" stroke="#f1f1f1" stroke-width="0.6" />
<line x1="218.00" y1="169.00" x2="218.00" y2="196.00" stroke="#f1f1f1" stroke-width="0.6" />
<line x1="229.50" y1="169.00" x2="229.50" y2="196.00" stroke="#f1f1f1" stroke-width="0.6" />
<line x1="173.00" y1="167.70" x2="240.00" y2="167.70" stroke="#f4f4f4" stroke-width="0.6" />
<line x1="170.60" y1="167.70" x2="172.00" y2="167.70" stroke="#333" stroke-width="0.9" />
<rect x="165.00" y="167.00" width="3.80" height="1.40" fill="#b4b4b4" />
<line x1="173.00" y1="172.40" x2="240.00" y2="172.40" stroke="#f4f4f4" stroke-width="0.6" />
<line x1="170.60" y1="172.40" x2="172.00" y2="172.40" stroke="#333" stroke-width="0.9" />
<rect x="165.00" y="171.70" width="3.80" height="1.40" fill="#b4b4b4" />
<line x1="173.00" y1="177.10" x2="240.00" y2="177.10" stroke="#f4f4f4" stroke-width="0.6" />
<line x1="170.60" y1="177.10" x2="172.00" y2="177.10" stroke="#333" stroke-width="0.9" />
<rect x="165.00" y="176.40" width="3.80" height="1.40" fill="#b4b4b4" />
<line x1="173.00" y1="181.80" x2="240.00" y2="181.80" stroke="#f4f4f4" stroke-width="0.6" />
<line x1="170.60" y1="181.80" x2="172.00" y2="181.80" stroke="#333" stroke-width="0.9" />
<rect x="165.00" y="181.10" width="3.80" height="1.40" fill="#b4b4b4" />
<line x1="173.00" y1="186.50" x2="240.00" y2="186.50" stroke="#f4f4f4" stroke-width="0.6" />
<line x1="170.60" y1="186.50" x2="172.00" y2="186.50" stroke="#333" stroke-width="0.9" />
<rect x="165.00" y="185.80" width="3.80" height="1.40" fill="#b4b4b4" />
<line x1="173.00" y1="191.20" x2="240.00" y2="191.20" stroke="#f4f4f4" stroke-width="0.6" />
<line x1="170.60" y1="191.20" x2="172.00" y2="191.20" stroke="#333" stroke-width="0.9" />
<rect x="165.00" y="190.50" width="3.80" height="1.40" fill="#b4b4b4" />
<line x1="173.00" y1="195.90" x2="240.00" y2="195.90" stroke="#f4f4f4" stroke-width="0.6" />
<line x1="170.60" y1="195.90" x2="172.00" y2="195.90" stroke="#333" stroke-width="0.9" />
<rect x="165.00" y="195.20" width="3.80" height="1.40" fill="#b4b4b4" />
<rect x="173.00" y="195.70" width="68.00" height="1.30" fill="#f0f0f0" />
<line x1="173.00" y1="197.30" x2="241.00" y2="197.30" stroke="#dcdcdc" stroke-width="0.5" />
<line x1="173.00" y1="177.31" x2="240.00" y2="177.31" stroke="#d9d9d9" stroke-width="0.8" />
<line x1="170.60" y1="212.18" x2="172.00" y2="212.18" stroke="#333" stroke-width="0.9" />
<rect x="166.40" y="211.48" width="2.60" height="1.40" fill="#b4b4b4" />
<line x1="170.60" y1="218.18" x2="172.00" y2="218.18" stroke="#333" stroke-width="0.9" />
<rect x="166.40" y="217.48" width="2.60" height="1.40" fill="#b4b4b4" />
<line x1="170.60" y1="224.18" x2="172.00" y2="224.18" stroke="#333" stroke-width="0.9" />
<rect x="166.40" y="223.48" width="2.60" height="1.40" fill="#b4b4b4" />
<line x1="174.00" y1="224.50" x2="238.00" y2="224.50" stroke="#d6d6d6" stroke-width="0.7" />
<line x1="205.81" y1="220.22" x2="205.81" y2="228.50" stroke="#e0e0e0" stroke-width="0.6" stroke-dasharray="0.8,0.8"/>
<rect x="173.00" y="197.80" width="1.00" height="9.54" fill="rgb(110,110,110)" />
<rect x="174.00" y="197.80" width="1.00" height="9.54" fill="rgb(84,84,84)" />
<rect x="175.00" y="197.80" width="1.00" height="9.54" fill="rgb(134,134,134)" />
<rect x="176.00" y="197.80" width="1.00" height="9.54" fill="rgb(117,117,117)" />
<rect x="177.00" y="197.80" width="1.00" height="9.54" fill="rgb(135,135,135)" />
<rect x="178.00" y="197.80" width="1.00" height="9.54" fill="rgb(94,94,94)" />
<rect x="179.00" y="197.80" width="1.00" height="9.54" fill="rgb(68,68,68)" />
<rect x="180.00" y="197.80" width="1.00" height="9.54" fill="rgb(98,98,98)" />
<rect x="181.00" y="197.80" width="1.00" height="9.54" fill="rgb(250,250,250)" />
<rect x="182.00" y="197.80" width="1.00" height="9.54" fill="rgb(97,97,97)" />
<rect x="183.00" y="197.80" width="1.00" height="9.54" fill="rgb(111,111,111)" />
<rect x="184.00" y="197.80" width="1.00" height="9.54" fill="rgb(85,85,85)" />
<rect x="185.00" y="197.80" width="1.00" height="9.54" fill="rgb(132,132,132)" />
<rect x="186.00" y="197.80" width="1.00" height="9.54" fill="rgb(153,153,153)" />
<rect x="187.00" y="197.80" width="1.00" height="9.54" fill="rgb(250,250,250)" />
<rect x="188.00" y="197.80" width="1.00" height="9.54" fill="rgb(250,250,250)" />
<rect x="189.00" y="197.80" width="1.00" height="9.54" fill="rgb(160,160,160)" />
<rect x="190.00" y="197.80" width="1.00" height="9.54" fill="rgb(126,126,126)" />
<rect x="191.00" y="197.80" width="1.00" height="9.54" fill="rgb(79,79,79)" />
<rect x="192.00" y="197.80" width="1.00" height="9.54" fill="rgb(121,121,121)" />
<rect x="193.00" y="197.80" width="1.00" height="9.54" fill="rgb(50,50,50)" />
<rect x="194.00" y="197.80" width="1.00" height="9.54" fill="rgb(134,134,134)" />
<rect x="195.00" y="197.80" width="1.00" height="9.54" fill="rgb(129,129,129)" />
<rect x="196.00" y="197.80" width="1.00" height="9.54" fill="rgb(68,68,68)" />
<rect x="197.00" y="197.80" width="1.00" height="9.54" fill="rgb(106,106,106)" />
<rect x="198.00" y="197.80" width="1.00" height="9.54" fill="rgb(250,250,250)" />
<rect x="199.00" y="197.80" width="1.00" height="9.54" fill="rgb(70,70,70)" />
<rect x="200.00" y="197.80" width="1.00" height="9.54" fill="rgb(93,93,93)" />
<rect x="201.00" y="197.80" width="1.00" height="9.54" fill="rgb(76,76,76)" />
<rect x="202.00" y="197.80" width="1.00" height="9.54" fill="rgb(250,250,250)" />
<rect x="203.00" y="197.80" width="1.00" height="9.54" fill="rgb(250,250,250)" />
<rect x="204.00" y="197.80" width="1.00" height="9.54" fill="rgb(154,154,154)" />
<rect x="205.00" y="197.80" width="1.00" height="9.54" fill="rgb(75,75,75)" />
<rect x="206.00" y="197.80" width="1.00" height="9.54" fill="rgb(59,59,59)" />
<rect x="207.00" y="197.80" width="1.00" height="9.54" fill="rgb(115,115,115)" />
<rect x="208.00" y="197.80" width="1.00" height="9.54" fill="rgb(137,137,137)" />
<rect x="209.00" y="197.80" width="1.00" height="9.54" fill="rgb(154,154,154)" />
<rect x="210.00" y="197.80" width="1.00" height="9.54" fill="rgb(93,93,93)" />
<rect x="211.00" y="197.80" width="1.00" height="9.54" fill="rgb(137,137,137)" />
<rect x="212.00" y="197.80" width="1.00" height="9.54" fill="rgb(101,101,101)" />
<rect x="213.00" y="197.80" width="1.00" height="9.54" fill="rgb(152,152,152)" />
<rect x="214.00" y="197.80" width="1.00" height="9.54" fill="rgb(157,157,157)" />
<rect x="215.00" y="197.80" width="1.00" height="9.54" fill="rgb(61,61,61)" />
<rect x="216.00" y="197.80" width="1.00" height="9.54" fill="rgb(52,52,52)" />
<rect x="217.00" y="197.80" width="1.00" height="9.54" fill="rgb(250,250,250)" />
<rect x="218.00" y="197.80" width="1.00" height="9.54" fill="rgb(250,250,250)" />
<rect x="219.00" y="197.80" width="1.00" height="9.54" fill="rgb(134,134,134)" />
<rect x="220.00" y="197.80" width="1.00" height="9.54" fill="rgb(115,115,115)" />
<rect x="221.00" y="197.80" width="1.00" height="9.54" fill="rgb(78,78,78)" />
<rect x="222.00" y="197.80" width="1.00" height="9.54" fill="rgb(61,61,61)" />
<rect x="223.00" y="197.80" width="1.00" height="9.54" fill="rgb(104,104,104)" />
<rect x="224.00" y="197.80" width="1.00" height="9.54" fill="rgb(106,106,106)" />
<rect x="225.00" y="197.80" width="1.00" height="9.54" fill="rgb(250,250,250)" />
<rect x="226.00" y="197.80" width="1.00" height="9.54" fill="rgb(250,250,250)" />
<rect x="227.00" y="197.80" width="1.00" height="9.54" fill="rgb(104,104,104)" />
<rect x="228.00" y="197.80" width="1.00" height="9.54" fill="rgb(67,67,67)" />
<rect x="229.00" y="197.80" width="1.00" height="9.54" fill="rgb(119,119,119)" />
<rect x="230.00" y="197.80" width="1.00" height="9.54" fill="rgb(90,90,90)" />
<rect x="231.00" y="197.80" width="1.00" height="9.54" fill="rgb(129,129,129)" />
<rect x="232.00" y="197.80" width="1.00" height="9.54" fill="rgb(121,121,121)" />
<rect x="233.00" y="197.80" width="1.00" height="9.54" fill="rgb(70,70,70)" />
<rect x="234.00" y="197.80" width="1.00" height="9.54" fill="rgb(139,139,139)" />
<rect x="235.00" y="197.80" width="1.00" height="9.54" fill="rgb(56,56,56)" />
<rect x="236.00" y="197.80" width="1.00" height="9.54" fill="rgb(121,121,121)" />
<rect x="237.00" y="197.80" width="1.00" height="9.54" fill="rgb(71,71,71)" />
<rect x="172.62" y="207.34" width="10.05" height="2.14" fill="#d8424f" />
<rect x="182.63" y="207.34" width="4.58" height="2.14" fill="#d6607a" />
<rect x="187.16" y="207.34" width="5.59" height="2.14" fill="#da6a78" />
<rect x="192.70" y="207.34" width="10.75" height="2.14" fill="#e8b8da" />
<rect x="203.40" y="207.34" width="9.36" height="2.14" fill="#ded8f0" />
<rect x="212.71" y="207.34" width="7.64" height="2.14" fill="#cac0e4" />
<rect x="220.30" y="207.34" width="5.57" height="2.14" fill="#7068c2" />
<rect x="225.82" y="207.34" width="11.43" height="2.14" fill="#4a3e9e" />
<rect x="237.20" y="207.34" width="1.09" height="2.14" fill="#302888" />
<text x="173.50" y="211.78" font-size="2.0" fill="#d6403f" font-weight="normal" text-anchor="start" textLength="24.72" lengthAdjust="spacingAndGlyphs" >na_pos (positively correlated)</text>
<text x="205.81" y="227.40" font-size="2.2" fill="#5a50c0" font-weight="normal" text-anchor="start" textLength="21.39" lengthAdjust="spacingAndGlyphs" >na_neg (negatively correlated)</text>
<text x="197.53" y="221.39" font-size="2.3" fill="#444" font-weight="normal" text-anchor="start" textLength="17.94" lengthAdjust="spacingAndGlyphs" >Zero cross at 7919</text>
<path d="M172.98,172.98 C173.27,172.55 173.99,171.05 174.71,170.38 C175.43,169.72 176.01,169.00 177.31,169.00 C178.61,169.00 180.48,169.58 182.50,170.38 C184.52,171.19 187.11,172.69 189.42,173.85 C191.73,175.00 193.75,175.86 196.34,177.31 C198.94,178.75 202.40,180.91 205.00,182.50 C207.59,184.09 209.33,185.38 211.92,186.83 C214.52,188.27 217.98,189.91 220.57,191.15 C223.17,192.39 225.48,193.55 227.50,194.27 C229.52,194.99 231.39,195.42 232.69,195.48 C233.99,195.54 234.56,195.19 235.29,194.61 C236.01,194.04 236.53,193.75 237.02,192.02 C237.51,190.29 237.88,186.83 238.23,184.23 C238.57,181.63 238.95,177.74 239.09,176.44" fill="none" stroke="#3aa64c" stroke-width="1.05" stroke-linejoin="round"/>
<text x="174.20" y="217.10" font-size="7.3" fill="#3b86c9" font-weight="normal" text-anchor="start" textLength="65.00" lengthAdjust="spacingAndGlyphs" >NES= -1.62 | P&lt;0.0001</text>
<rect x="172.5" y="168.5" width="69" height="61" fill="none" stroke="#2a2a2a" stroke-width="1"/>
<line x1="172.50" y1="168.00" x2="172.50" y2="230.00" stroke="#1a1a1a" stroke-width="1.0" />
<line x1="172.00" y1="229.50" x2="242.00" y2="229.50" stroke="#1a1a1a" stroke-width="1.1" />
<line x1="172.50" y1="230.00" x2="172.50" y2="231.20" stroke="#222" stroke-width="0.9" />
<text x="171.85" y="234.00" font-size="3.1" fill="#666" font-weight="normal" text-anchor="start" textLength="1.30" lengthAdjust="spacingAndGlyphs" >0</text>
<line x1="184.00" y1="230.00" x2="184.00" y2="231.20" stroke="#222" stroke-width="0.9" />
<text x="181.70" y="234.00" font-size="3.1" fill="#666" font-weight="normal" text-anchor="start" textLength="4.60" lengthAdjust="spacingAndGlyphs" >2,500</text>
<line x1="195.50" y1="230.00" x2="195.50" y2="231.20" stroke="#222" stroke-width="0.9" />
<text x="193.20" y="234.00" font-size="3.1" fill="#666" font-weight="normal" text-anchor="start" textLength="4.60" lengthAdjust="spacingAndGlyphs" >5,000</text>
<line x1="207.00" y1="230.00" x2="207.00" y2="231.20" stroke="#222" stroke-width="0.9" />
<text x="204.70" y="234.00" font-size="3.1" fill="#666" font-weight="normal" text-anchor="start" textLength="4.60" lengthAdjust="spacingAndGlyphs" >7,500</text>
<line x1="218.50" y1="230.00" x2="218.50" y2="231.20" stroke="#222" stroke-width="0.9" />
<text x="215.70" y="234.00" font-size="3.1" fill="#666" font-weight="normal" text-anchor="start" textLength="5.60" lengthAdjust="spacingAndGlyphs" >10,000</text>
<line x1="230.00" y1="230.00" x2="230.00" y2="231.20" stroke="#222" stroke-width="0.9" />
<text x="227.20" y="234.00" font-size="3.1" fill="#666" font-weight="normal" text-anchor="start" textLength="5.60" lengthAdjust="spacingAndGlyphs" >12,500</text>
<line x1="241.50" y1="230.00" x2="241.50" y2="231.20" stroke="#222" stroke-width="0.9" />
<text x="238.70" y="234.00" font-size="3.1" fill="#666" font-weight="normal" text-anchor="start" textLength="5.60" lengthAdjust="spacingAndGlyphs" >15,000</text>
<text x="198.00" y="238.00" font-size="2.9" fill="#666" font-weight="normal" text-anchor="start" textLength="17.00" lengthAdjust="spacingAndGlyphs" >Rank in ordered dataset</text>
<rect x="161.80" y="176.70" width="1.10" height="13.05" fill="#d0d0d0" />
<rect x="161.80" y="208.98" width="1.10" height="18.54" fill="#d0d0d0" />
<line x1="175.80" y1="243.30" x2="179.30" y2="243.30" stroke="#8fd08f" stroke-width="1.5" />
<text x="182.30" y="244.90" font-size="5.3" fill="#333" font-weight="normal" text-anchor="start" textLength="35.40" lengthAdjust="spacingAndGlyphs" >Enrichment profile</text>
<line x1="223.50" y1="243.30" x2="226.80" y2="243.30" stroke="#555" stroke-width="1.2" />
<text x="229.30" y="244.90" font-size="5.3" fill="#333" font-weight="normal" text-anchor="start" textLength="8.20" lengthAdjust="spacingAndGlyphs" >Hits</text>
<line x1="180.50" y1="249.90" x2="183.30" y2="249.90" stroke="#aaa" stroke-width="0.9" />
<line x1="186.00" y1="251.90" x2="188.40" y2="251.90" stroke="#333" stroke-width="1.0" />
<text x="191.30" y="252.60" font-size="5.3" fill="#333" font-weight="normal" text-anchor="start" textLength="41.80" lengthAdjust="spacingAndGlyphs" >Ranking metric scores</text>
<line x1="62.33" y1="286.00" x2="62.33" y2="313.00" stroke="#f1f1f1" stroke-width="0.6" />
<line x1="73.67" y1="286.00" x2="73.67" y2="313.00" stroke="#f1f1f1" stroke-width="0.6" />
<line x1="85.00" y1="286.00" x2="85.00" y2="313.00" stroke="#f1f1f1" stroke-width="0.6" />
<line x1="96.33" y1="286.00" x2="96.33" y2="313.00" stroke="#f1f1f1" stroke-width="0.6" />
<line x1="107.67" y1="286.00" x2="107.67" y2="313.00" stroke="#f1f1f1" stroke-width="0.6" />
<line x1="52.00" y1="288.00" x2="118.00" y2="288.00" stroke="#f4f4f4" stroke-width="0.6" />
<line x1="49.60" y1="288.00" x2="51.00" y2="288.00" stroke="#333" stroke-width="0.9" />
<rect x="44.00" y="287.30" width="3.80" height="1.40" fill="#b4b4b4" />
<line x1="52.00" y1="290.60" x2="118.00" y2="290.60" stroke="#f4f4f4" stroke-width="0.6" />
<line x1="49.60" y1="290.60" x2="51.00" y2="290.60" stroke="#333" stroke-width="0.9" />
<rect x="44.00" y="289.90" width="3.80" height="1.40" fill="#b4b4b4" />
<line x1="52.00" y1="293.20" x2="118.00" y2="293.20" stroke="#f4f4f4" stroke-width="0.6" />
<line x1="49.60" y1="293.20" x2="51.00" y2="293.20" stroke="#333" stroke-width="0.9" />
<rect x="44.00" y="292.50" width="3.80" height="1.40" fill="#b4b4b4" />
<line x1="52.00" y1="295.80" x2="118.00" y2="295.80" stroke="#f4f4f4" stroke-width="0.6" />
<line x1="49.60" y1="295.80" x2="51.00" y2="295.80" stroke="#333" stroke-width="0.9" />
<rect x="44.00" y="295.10" width="3.80" height="1.40" fill="#b4b4b4" />
<line x1="52.00" y1="298.40" x2="118.00" y2="298.40" stroke="#f4f4f4" stroke-width="0.6" />
<line x1="49.60" y1="298.40" x2="51.00" y2="298.40" stroke="#333" stroke-width="0.9" />
<rect x="44.00" y="297.70" width="3.80" height="1.40" fill="#b4b4b4" />
<line x1="52.00" y1="301.00" x2="118.00" y2="301.00" stroke="#f4f4f4" stroke-width="0.6" />
<line x1="49.60" y1="301.00" x2="51.00" y2="301.00" stroke="#333" stroke-width="0.9" />
<rect x="44.00" y="300.30" width="3.80" height="1.40" fill="#b4b4b4" />
<line x1="52.00" y1="303.60" x2="118.00" y2="303.60" stroke="#f4f4f4" stroke-width="0.6" />
<line x1="49.60" y1="303.60" x2="51.00" y2="303.60" stroke="#333" stroke-width="0.9" />
<rect x="44.00" y="302.90" width="3.80" height="1.40" fill="#b4b4b4" />
<line x1="52.00" y1="306.20" x2="118.00" y2="306.20" stroke="#f4f4f4" stroke-width="0.6" />
<line x1="49.60" y1="306.20" x2="51.00" y2="306.20" stroke="#333" stroke-width="0.9" />
<rect x="44.00" y="305.50" width="3.80" height="1.40" fill="#b4b4b4" />
<line x1="52.00" y1="308.80" x2="118.00" y2="308.80" stroke="#f4f4f4" stroke-width="0.6" />
<line x1="49.60" y1="308.80" x2="51.00" y2="308.80" stroke="#333" stroke-width="0.9" />
<rect x="44.00" y="308.10" width="3.80" height="1.40" fill="#b4b4b4" />
<line x1="52.00" y1="311.40" x2="118.00" y2="311.40" stroke="#f4f4f4" stroke-width="0.6" />
<line x1="49.60" y1="311.40" x2="51.00" y2="311.40" stroke="#333" stroke-width="0.9" />
<rect x="44.00" y="310.70" width="3.80" height="1.40" fill="#b4b4b4" />
<line x1="52.00" y1="314.00" x2="118.00" y2="314.00" stroke="#f4f4f4" stroke-width="0.6" />
<line x1="49.60" y1="314.00" x2="51.00" y2="314.00" stroke="#333" stroke-width="0.9" />
<rect x="44.00" y="313.30" width="3.80" height="1.40" fill="#b4b4b4" />
<rect x="52.00" y="312.70" width="67.00" height="1.30" fill="#f0f0f0" />
<line x1="52.00" y1="314.30" x2="119.00" y2="314.30" stroke="#dcdcdc" stroke-width="0.5" />
<line x1="52.00" y1="297.31" x2="118.00" y2="297.31" stroke="#d9d9d9" stroke-width="0.8" />
<line x1="49.60" y1="329.18" x2="51.00" y2="329.18" stroke="#333" stroke-width="0.9" />
<rect x="45.40" y="328.48" width="2.60" height="1.40" fill="#b4b4b4" />
<line x1="49.60" y1="335.18" x2="51.00" y2="335.18" stroke="#333" stroke-width="0.9" />
<rect x="45.40" y="334.48" width="2.60" height="1.40" fill="#b4b4b4" />
<line x1="49.60" y1="341.18" x2="51.00" y2="341.18" stroke="#333" stroke-width="0.9" />
<rect x="45.40" y="340.48" width="2.60" height="1.40" fill="#b4b4b4" />
<line x1="53.00" y1="341.50" x2="116.00" y2="341.50" stroke="#d6d6d6" stroke-width="0.7" />
<line x1="84.32" y1="337.22" x2="84.32" y2="345.50" stroke="#e0e0e0" stroke-width="0.6" stroke-dasharray="0.8,0.8"/>
<rect x="52.00" y="314.80" width="1.00" height="9.55" fill="rgb(151,151,151)" />
<rect x="53.00" y="314.80" width="1.00" height="9.55" fill="rgb(159,159,159)" />
<rect x="54.00" y="314.80" width="1.00" height="9.55" fill="rgb(132,132,132)" />
<rect x="55.00" y="314.80" width="1.00" height="9.55" fill="rgb(144,144,144)" />
<rect x="56.00" y="314.80" width="1.00" height="9.55" fill="rgb(122,122,122)" />
<rect x="57.00" y="314.80" width="1.00" height="9.55" fill="rgb(142,142,142)" />
<rect x="58.00" y="314.80" width="1.00" height="9.55" fill="rgb(250,250,250)" />
<rect x="59.00" y="314.80" width="1.00" height="9.55" fill="rgb(250,250,250)" />
<rect x="60.00" y="314.80" width="1.00" height="9.55" fill="rgb(103,103,103)" />
<rect x="61.00" y="314.80" width="1.00" height="9.55" fill="rgb(221,221,221)" />
<rect x="62.00" y="314.80" width="1.00" height="9.55" fill="rgb(250,250,250)" />
<rect x="63.00" y="314.80" width="1.00" height="9.55" fill="rgb(160,160,160)" />
<rect x="64.00" y="314.80" width="1.00" height="9.55" fill="rgb(92,92,92)" />
<rect x="65.00" y="314.80" width="1.00" height="9.55" fill="rgb(195,195,195)" />
<rect x="66.00" y="314.80" width="1.00" height="9.55" fill="rgb(117,117,117)" />
<rect x="67.00" y="314.80" width="1.00" height="9.55" fill="rgb(250,250,250)" />
<rect x="68.00" y="314.80" width="1.00" height="9.55" fill="rgb(250,250,250)" />
<rect x="69.00" y="314.80" width="1.00" height="9.55" fill="rgb(122,122,122)" />
<rect x="70.00" y="314.80" width="1.00" height="9.55" fill="rgb(106,106,106)" />
<rect x="71.00" y="314.80" width="1.00" height="9.55" fill="rgb(152,152,152)" />
<rect x="72.00" y="314.80" width="1.00" height="9.55" fill="rgb(250,250,250)" />
<rect x="73.00" y="314.80" width="1.00" height="9.55" fill="rgb(196,196,196)" />
<rect x="74.00" y="314.80" width="1.00" height="9.55" fill="rgb(120,120,120)" />
<rect x="75.00" y="314.80" width="1.00" height="9.55" fill="rgb(150,150,150)" />
<rect x="76.00" y="314.80" width="1.00" height="9.55" fill="rgb(176,176,176)" />
<rect x="77.00" y="314.80" width="1.00" height="9.55" fill="rgb(144,144,144)" />
<rect x="78.00" y="314.80" width="1.00" height="9.55" fill="rgb(209,209,209)" />
<rect x="79.00" y="314.80" width="1.00" height="9.55" fill="rgb(225,225,225)" />
<rect x="80.00" y="314.80" width="1.00" height="9.55" fill="rgb(250,250,250)" />
<rect x="81.00" y="314.80" width="1.00" height="9.55" fill="rgb(250,250,250)" />
<rect x="82.00" y="314.80" width="1.00" height="9.55" fill="rgb(195,195,195)" />
<rect x="83.00" y="314.80" width="1.00" height="9.55" fill="rgb(165,165,165)" />
<rect x="84.00" y="314.80" width="1.00" height="9.55" fill="rgb(115,115,115)" />
<rect x="85.00" y="314.80" width="1.00" height="9.55" fill="rgb(173,173,173)" />
<rect x="86.00" y="314.80" width="1.00" height="9.55" fill="rgb(152,152,152)" />
<rect x="87.00" y="314.80" width="1.00" height="9.55" fill="rgb(199,199,199)" />
<rect x="88.00" y="314.80" width="1.00" height="9.55" fill="rgb(119,119,119)" />
<rect x="89.00" y="314.80" width="1.00" height="9.55" fill="rgb(197,197,197)" />
<rect x="90.00" y="314.80" width="1.00" height="9.55" fill="rgb(198,198,198)" />
<rect x="91.00" y="314.80" width="1.00" height="9.55" fill="rgb(222,222,222)" />
<rect x="92.00" y="314.80" width="1.00" height="9.55" fill="rgb(250,250,250)" />
<rect x="93.00" y="314.80" width="1.00" height="9.55" fill="rgb(250,250,250)" />
<rect x="94.00" y="314.80" width="1.00" height="9.55" fill="rgb(136,136,136)" />
<rect x="95.00" y="314.80" width="1.00" height="9.55" fill="rgb(130,130,130)" />
<rect x="96.00" y="314.80" width="1.00" height="9.55" fill="rgb(218,218,218)" />
<rect x="97.00" y="314.80" width="1.00" height="9.55" fill="rgb(176,176,176)" />
<rect x="98.00" y="314.80" width="1.00" height="9.55" fill="rgb(149,149,149)" />
<rect x="99.00" y="314.80" width="1.00" height="9.55" fill="rgb(180,180,180)" />
<rect x="100.00" y="314.80" width="1.00" height="9.55" fill="rgb(250,250,250)" />
<rect x="101.00" y="314.80" width="1.00" height="9.55" fill="rgb(250,250,250)" />
<rect x="102.00" y="314.80" width="1.00" height="9.55" fill="rgb(156,156,156)" />
<rect x="103.00" y="314.80" width="1.00" height="9.55" fill="rgb(186,186,186)" />
<rect x="104.00" y="314.80" width="1.00" height="9.55" fill="rgb(118,118,118)" />
<rect x="105.00" y="314.80" width="1.00" height="9.55" fill="rgb(210,210,210)" />
<rect x="106.00" y="314.80" width="1.00" height="9.55" fill="rgb(225,225,225)" />
<rect x="107.00" y="314.80" width="1.00" height="9.55" fill="rgb(145,145,145)" />
<rect x="108.00" y="314.80" width="1.00" height="9.55" fill="rgb(250,250,250)" />
<rect x="109.00" y="314.80" width="1.00" height="9.55" fill="rgb(134,134,134)" />
<rect x="110.00" y="314.80" width="1.00" height="9.55" fill="rgb(178,178,178)" />
<rect x="111.00" y="314.80" width="1.00" height="9.55" fill="rgb(118,118,118)" />
<rect x="112.00" y="314.80" width="1.00" height="9.55" fill="rgb(103,103,103)" />
<rect x="113.00" y="314.80" width="1.00" height="9.55" fill="rgb(195,195,195)" />
<rect x="114.00" y="314.80" width="1.00" height="9.55" fill="rgb(203,203,203)" />
<rect x="115.00" y="314.80" width="1.00" height="9.55" fill="rgb(184,184,184)" />
<rect x="51.68" y="324.35" width="9.16" height="2.13" fill="#d8424f" />
<rect x="60.79" y="324.35" width="5.74" height="2.13" fill="#d6607a" />
<rect x="66.48" y="324.35" width="7.01" height="2.13" fill="#da6a78" />
<rect x="73.44" y="324.35" width="10.93" height="2.13" fill="#e8b8da" />
<rect x="84.32" y="324.35" width="9.57" height="2.13" fill="#ded8f0" />
<rect x="93.84" y="324.35" width="7.53" height="2.13" fill="#cac0e4" />
<rect x="101.32" y="324.35" width="4.81" height="2.13" fill="#7068c2" />
<rect x="106.08" y="324.35" width="8.55" height="2.13" fill="#4a3e9e" />
<rect x="114.58" y="324.35" width="1.07" height="2.13" fill="#302888" />
<text x="52.50" y="328.78" font-size="2.0" fill="#d6403f" font-weight="normal" text-anchor="start" textLength="24.34" lengthAdjust="spacingAndGlyphs" >na_pos (positively correlated)</text>
<text x="84.32" y="344.40" font-size="2.2" fill="#5a50c0" font-weight="normal" text-anchor="start" textLength="21.08" lengthAdjust="spacingAndGlyphs" >na_neg (negatively correlated)</text>
<text x="76.16" y="338.39" font-size="2.3" fill="#444" font-weight="normal" text-anchor="start" textLength="17.68" lengthAdjust="spacingAndGlyphs" >Zero cross at 7919</text>
<path d="M51.25,295.58 C51.54,294.71 52.26,291.97 52.98,290.38 C53.70,288.80 54.57,286.63 55.58,286.06 C56.59,285.48 57.60,286.63 59.04,286.92 C60.48,287.21 62.50,287.21 64.23,287.79 C65.96,288.37 67.40,289.09 69.42,290.38 C71.44,291.68 74.04,293.85 76.34,295.58 C78.65,297.31 80.67,298.75 83.27,300.77 C85.86,302.79 89.33,306.02 91.92,307.69 C94.52,309.36 96.54,310.09 98.84,310.81 C101.15,311.53 104.04,311.96 105.77,312.02 C107.50,312.08 108.36,311.44 109.23,311.15 C110.09,310.86 110.24,310.34 110.96,310.29 C111.68,310.23 112.92,311.24 113.55,310.81 C114.19,310.37 114.39,309.94 114.77,307.69 C115.14,305.44 115.63,299.04 115.80,297.31" fill="none" stroke="#3aa64c" stroke-width="1.05" stroke-linejoin="round"/>
<text x="54.20" y="333.60" font-size="7.3" fill="#d6403f" font-weight="normal" text-anchor="start" textLength="58.50" lengthAdjust="spacingAndGlyphs" >NES= -1.09 | P=0.26</text>
<rect x="51.5" y="285.5" width="68" height="61" fill="none" stroke="#2a2a2a" stroke-width="1"/>
<line x1="51.50" y1="285.00" x2="51.50" y2="347.00" stroke="#1a1a1a" stroke-width="1.0" />
<line x1="51.00" y1="346.50" x2="120.00" y2="346.50" stroke="#1a1a1a" stroke-width="1.1" />
<line x1="51.50" y1="347.00" x2="51.50" y2="348.20" stroke="#222" stroke-width="0.9" />
<text x="50.85" y="351.00" font-size="3.1" fill="#666" font-weight="normal" text-anchor="start" textLength="1.30" lengthAdjust="spacingAndGlyphs" >0</text>
<line x1="62.83" y1="347.00" x2="62.83" y2="348.20" stroke="#222" stroke-width="0.9" />
<text x="60.53" y="351.00" font-size="3.1" fill="#666" font-weight="normal" text-anchor="start" textLength="4.60" lengthAdjust="spacingAndGlyphs" >2,500</text>
<line x1="74.17" y1="347.00" x2="74.17" y2="348.20" stroke="#222" stroke-width="0.9" />
<text x="71.87" y="351.00" font-size="3.1" fill="#666" font-weight="normal" text-anchor="start" textLength="4.60" lengthAdjust="spacingAndGlyphs" >5,000</text>
<line x1="85.50" y1="347.00" x2="85.50" y2="348.20" stroke="#222" stroke-width="0.9" />
<text x="83.20" y="351.00" font-size="3.1" fill="#666" font-weight="normal" text-anchor="start" textLength="4.60" lengthAdjust="spacingAndGlyphs" >7,500</text>
<line x1="96.83" y1="347.00" x2="96.83" y2="348.20" stroke="#222" stroke-width="0.9" />
<text x="94.03" y="351.00" font-size="3.1" fill="#666" font-weight="normal" text-anchor="start" textLength="5.60" lengthAdjust="spacingAndGlyphs" >10,000</text>
<line x1="108.17" y1="347.00" x2="108.17" y2="348.20" stroke="#222" stroke-width="0.9" />
<text x="105.37" y="351.00" font-size="3.1" fill="#666" font-weight="normal" text-anchor="start" textLength="5.60" lengthAdjust="spacingAndGlyphs" >12,500</text>
<line x1="119.50" y1="347.00" x2="119.50" y2="348.20" stroke="#222" stroke-width="0.9" />
<text x="116.70" y="351.00" font-size="3.1" fill="#666" font-weight="normal" text-anchor="start" textLength="5.60" lengthAdjust="spacingAndGlyphs" >15,000</text>
<text x="76.50" y="355.00" font-size="2.9" fill="#666" font-weight="normal" text-anchor="start" textLength="17.00" lengthAdjust="spacingAndGlyphs" >Rank in ordered dataset</text>
<rect x="40.80" y="293.70" width="1.10" height="13.05" fill="#d0d0d0" />
<rect x="40.80" y="325.98" width="1.10" height="18.54" fill="#d0d0d0" />
<line x1="54.30" y1="360.30" x2="57.80" y2="360.30" stroke="#8fd08f" stroke-width="1.5" />
<text x="60.80" y="361.90" font-size="5.3" fill="#333" font-weight="normal" text-anchor="start" textLength="35.40" lengthAdjust="spacingAndGlyphs" >Enrichment profile</text>
<line x1="102.00" y1="360.30" x2="105.30" y2="360.30" stroke="#555" stroke-width="1.2" />
<text x="107.80" y="361.90" font-size="5.3" fill="#333" font-weight="normal" text-anchor="start" textLength="8.20" lengthAdjust="spacingAndGlyphs" >Hits</text>
<line x1="59.00" y1="366.90" x2="61.80" y2="366.90" stroke="#aaa" stroke-width="0.9" />
<line x1="64.50" y1="368.90" x2="66.90" y2="368.90" stroke="#333" stroke-width="1.0" />
<text x="69.80" y="369.60" font-size="5.3" fill="#333" font-weight="normal" text-anchor="start" textLength="41.80" lengthAdjust="spacingAndGlyphs" >Ranking metric scores</text>
<line x1="183.33" y1="286.00" x2="183.33" y2="313.00" stroke="#f1f1f1" stroke-width="0.6" />
<line x1="194.67" y1="286.00" x2="194.67" y2="313.00" stroke="#f1f1f1" stroke-width="0.6" />
<line x1="206.00" y1="286.00" x2="206.00" y2="313.00" stroke="#f1f1f1" stroke-width="0.6" />
<line x1="217.33" y1="286.00" x2="217.33" y2="313.00" stroke="#f1f1f1" stroke-width="0.6" />
<line x1="228.67" y1="286.00" x2="228.67" y2="313.00" stroke="#f1f1f1" stroke-width="0.6" />
<line x1="173.00" y1="288.00" x2="239.00" y2="288.00" stroke="#f4f4f4" stroke-width="0.6" />
<line x1="170.60" y1="288.00" x2="172.00" y2="288.00" stroke="#333" stroke-width="0.9" />
<rect x="165.00" y="287.30" width="3.80" height="1.40" fill="#b4b4b4" />
<line x1="173.00" y1="290.85" x2="239.00" y2="290.85" stroke="#f4f4f4" stroke-width="0.6" />
<line x1="170.60" y1="290.85" x2="172.00" y2="290.85" stroke="#333" stroke-width="0.9" />
<rect x="165.00" y="290.15" width="3.80" height="1.40" fill="#b4b4b4" />
<line x1="173.00" y1="293.70" x2="239.00" y2="293.70" stroke="#f4f4f4" stroke-width="0.6" />
<line x1="170.60" y1="293.70" x2="172.00" y2="293.70" stroke="#333" stroke-width="0.9" />
<rect x="165.00" y="293.00" width="3.80" height="1.40" fill="#b4b4b4" />
<line x1="173.00" y1="296.55" x2="239.00" y2="296.55" stroke="#f4f4f4" stroke-width="0.6" />
<line x1="170.60" y1="296.55" x2="172.00" y2="296.55" stroke="#333" stroke-width="0.9" />
<rect x="165.00" y="295.85" width="3.80" height="1.40" fill="#b4b4b4" />
<line x1="173.00" y1="299.40" x2="239.00" y2="299.40" stroke="#f4f4f4" stroke-width="0.6" />
<line x1="170.60" y1="299.40" x2="172.00" y2="299.40" stroke="#333" stroke-width="0.9" />
<rect x="165.00" y="298.70" width="3.80" height="1.40" fill="#b4b4b4" />
<line x1="173.00" y1="302.25" x2="239.00" y2="302.25" stroke="#f4f4f4" stroke-width="0.6" />
<line x1="170.60" y1="302.25" x2="172.00" y2="302.25" stroke="#333" stroke-width="0.9" />
<rect x="165.00" y="301.55" width="3.80" height="1.40" fill="#b4b4b4" />
<line x1="173.00" y1="305.10" x2="239.00" y2="305.10" stroke="#f4f4f4" stroke-width="0.6" />
<line x1="170.60" y1="305.10" x2="172.00" y2="305.10" stroke="#333" stroke-width="0.9" />
<rect x="165.00" y="304.40" width="3.80" height="1.40" fill="#b4b4b4" />
<line x1="173.00" y1="307.95" x2="239.00" y2="307.95" stroke="#f4f4f4" stroke-width="0.6" />
<line x1="170.60" y1="307.95" x2="172.00" y2="307.95" stroke="#333" stroke-width="0.9" />
<rect x="165.00" y="307.25" width="3.80" height="1.40" fill="#b4b4b4" />
<line x1="173.00" y1="310.80" x2="239.00" y2="310.80" stroke="#f4f4f4" stroke-width="0.6" />
<line x1="170.60" y1="310.80" x2="172.00" y2="310.80" stroke="#333" stroke-width="0.9" />
<rect x="165.00" y="310.10" width="3.80" height="1.40" fill="#b4b4b4" />
<line x1="173.00" y1="313.65" x2="239.00" y2="313.65" stroke="#f4f4f4" stroke-width="0.6" />
<line x1="170.60" y1="313.65" x2="172.00" y2="313.65" stroke="#333" stroke-width="0.9" />
<rect x="165.00" y="312.95" width="3.80" height="1.40" fill="#b4b4b4" />
<rect x="173.00" y="312.70" width="67.00" height="1.30" fill="#f0f0f0" />
<line x1="173.00" y1="314.30" x2="240.00" y2="314.30" stroke="#dcdcdc" stroke-width="0.5" />
<line x1="173.00" y1="300.77" x2="239.00" y2="300.77" stroke="#d9d9d9" stroke-width="0.8" />
<line x1="170.60" y1="329.18" x2="172.00" y2="329.18" stroke="#333" stroke-width="0.9" />
<rect x="166.40" y="328.48" width="2.60" height="1.40" fill="#b4b4b4" />
<line x1="170.60" y1="335.18" x2="172.00" y2="335.18" stroke="#333" stroke-width="0.9" />
<rect x="166.40" y="334.48" width="2.60" height="1.40" fill="#b4b4b4" />
<line x1="170.60" y1="341.18" x2="172.00" y2="341.18" stroke="#333" stroke-width="0.9" />
<rect x="166.40" y="340.48" width="2.60" height="1.40" fill="#b4b4b4" />
<line x1="174.00" y1="341.50" x2="237.00" y2="341.50" stroke="#d6d6d6" stroke-width="0.7" />
<line x1="205.32" y1="337.22" x2="205.32" y2="345.50" stroke="#e0e0e0" stroke-width="0.6" stroke-dasharray="0.8,0.8"/>
<rect x="173.00" y="314.80" width="1.00" height="9.55" fill="rgb(107,107,107)" />
<rect x="174.00" y="314.80" width="1.00" height="9.55" fill="rgb(214,214,214)" />
<rect x="175.00" y="314.80" width="1.00" height="9.55" fill="rgb(143,143,143)" />
<rect x="176.00" y="314.80" width="1.00" height="9.55" fill="rgb(250,250,250)" />
<rect x="177.00" y="314.80" width="1.00" height="9.55" fill="rgb(145,145,145)" />
<rect x="178.00" y="314.80" width="1.00" height="9.55" fill="rgb(154,154,154)" />
<rect x="179.00" y="314.80" width="1.00" height="9.55" fill="rgb(98,98,98)" />
<rect x="180.00" y="314.80" width="1.00" height="9.55" fill="rgb(195,195,195)" />
<rect x="181.00" y="314.80" width="1.00" height="9.55" fill="rgb(157,157,157)" />
<rect x="182.00" y="314.80" width="1.00" height="9.55" fill="rgb(199,199,199)" />
<rect x="183.00" y="314.80" width="1.00" height="9.55" fill="rgb(250,250,250)" />
<rect x="184.00" y="314.80" width="1.00" height="9.55" fill="rgb(180,180,180)" />
<rect x="185.00" y="314.80" width="1.00" height="9.55" fill="rgb(110,110,110)" />
<rect x="186.00" y="314.80" width="1.00" height="9.55" fill="rgb(147,147,147)" />
<rect x="187.00" y="314.80" width="1.00" height="9.55" fill="rgb(137,137,137)" />
<rect x="188.00" y="314.80" width="1.00" height="9.55" fill="rgb(160,160,160)" />
<rect x="189.00" y="314.80" width="1.00" height="9.55" fill="rgb(171,171,171)" />
<rect x="190.00" y="314.80" width="1.00" height="9.55" fill="rgb(250,250,250)" />
<rect x="191.00" y="314.80" width="1.00" height="9.55" fill="rgb(172,172,172)" />
<rect x="192.00" y="314.80" width="1.00" height="9.55" fill="rgb(212,212,212)" />
<rect x="193.00" y="314.80" width="1.00" height="9.55" fill="rgb(118,118,118)" />
<rect x="194.00" y="314.80" width="1.00" height="9.55" fill="rgb(121,121,121)" />
<rect x="195.00" y="314.80" width="1.00" height="9.55" fill="rgb(150,150,150)" />
<rect x="196.00" y="314.80" width="1.00" height="9.55" fill="rgb(250,250,250)" />
<rect x="197.00" y="314.80" width="1.00" height="9.55" fill="rgb(82,82,82)" />
<rect x="198.00" y="314.80" width="1.00" height="9.55" fill="rgb(97,97,97)" />
<rect x="199.00" y="314.80" width="1.00" height="9.55" fill="rgb(111,111,111)" />
<rect x="200.00" y="314.80" width="1.00" height="9.55" fill="rgb(166,166,166)" />
<rect x="201.00" y="314.80" width="1.00" height="9.55" fill="rgb(87,87,87)" />
<rect x="202.00" y="314.80" width="1.00" height="9.55" fill="rgb(101,101,101)" />
<rect x="203.00" y="314.80" width="1.00" height="9.55" fill="rgb(150,150,150)" />
<rect x="204.00" y="314.80" width="1.00" height="9.55" fill="rgb(132,132,132)" />
<rect x="205.00" y="314.80" width="1.00" height="9.55" fill="rgb(177,177,177)" />
<rect x="206.00" y="314.80" width="1.00" height="9.55" fill="rgb(250,250,250)" />
<rect x="207.00" y="314.80" width="1.00" height="9.55" fill="rgb(192,192,192)" />
<rect x="208.00" y="314.80" width="1.00" height="9.55" fill="rgb(104,104,104)" />
<rect x="209.00" y="314.80" width="1.00" height="9.55" fill="rgb(108,108,108)" />
<rect x="210.00" y="314.80" width="1.00" height="9.55" fill="rgb(173,173,173)" />
<rect x="211.00" y="314.80" width="1.00" height="9.55" fill="rgb(126,126,126)" />
<rect x="212.00" y="314.80" width="1.00" height="9.55" fill="rgb(104,104,104)" />
<rect x="213.00" y="314.80" width="1.00" height="9.55" fill="rgb(204,204,204)" />
<rect x="214.00" y="314.80" width="1.00" height="9.55" fill="rgb(250,250,250)" />
<rect x="215.00" y="314.80" width="1.00" height="9.55" fill="rgb(129,129,129)" />
<rect x="216.00" y="314.80" width="1.00" height="9.55" fill="rgb(149,149,149)" />
<rect x="217.00" y="314.80" width="1.00" height="9.55" fill="rgb(195,195,195)" />
<rect x="218.00" y="314.80" width="1.00" height="9.55" fill="rgb(135,135,135)" />
<rect x="219.00" y="314.80" width="1.00" height="9.55" fill="rgb(204,204,204)" />
<rect x="220.00" y="314.80" width="1.00" height="9.55" fill="rgb(152,152,152)" />
<rect x="221.00" y="314.80" width="1.00" height="9.55" fill="rgb(208,208,208)" />
<rect x="222.00" y="314.80" width="1.00" height="9.55" fill="rgb(250,250,250)" />
<rect x="223.00" y="314.80" width="1.00" height="9.55" fill="rgb(106,106,106)" />
<rect x="224.00" y="314.80" width="1.00" height="9.55" fill="rgb(111,111,111)" />
<rect x="225.00" y="314.80" width="1.00" height="9.55" fill="rgb(102,102,102)" />
<rect x="226.00" y="314.80" width="1.00" height="9.55" fill="rgb(151,151,151)" />
<rect x="227.00" y="314.80" width="1.00" height="9.55" fill="rgb(151,151,151)" />
<rect x="228.00" y="314.80" width="1.00" height="9.55" fill="rgb(110,110,110)" />
<rect x="229.00" y="314.80" width="1.00" height="9.55" fill="rgb(250,250,250)" />
<rect x="230.00" y="314.80" width="1.00" height="9.55" fill="rgb(121,121,121)" />
<rect x="231.00" y="314.80" width="1.00" height="9.55" fill="rgb(185,185,185)" />
<rect x="232.00" y="314.80" width="1.00" height="9.55" fill="rgb(109,109,109)" />
<rect x="233.00" y="314.80" width="1.00" height="9.55" fill="rgb(214,214,214)" />
<rect x="234.00" y="314.80" width="1.00" height="9.55" fill="rgb(103,103,103)" />
<rect x="235.00" y="314.80" width="1.00" height="9.55" fill="rgb(188,188,188)" />
<rect x="236.00" y="314.80" width="1.00" height="9.55" fill="rgb(202,202,202)" />
<rect x="172.61" y="324.35" width="10.05" height="2.13" fill="#d8424f" />
<rect x="182.61" y="324.35" width="4.15" height="2.13" fill="#d6607a" />
<rect x="186.71" y="324.35" width="5.06" height="2.13" fill="#da6a78" />
<rect x="191.72" y="324.35" width="10.93" height="2.13" fill="#e8b8da" />
<rect x="202.60" y="324.35" width="9.23" height="2.13" fill="#ded8f0" />
<rect x="211.78" y="324.35" width="7.87" height="2.13" fill="#cac0e4" />
<rect x="219.60" y="324.35" width="5.49" height="2.13" fill="#7068c2" />
<rect x="225.04" y="324.35" width="11.27" height="2.13" fill="#4a3e9e" />
<rect x="236.26" y="324.35" width="1.07" height="2.13" fill="#302888" />
<text x="173.50" y="328.78" font-size="2.0" fill="#d6403f" font-weight="normal" text-anchor="start" textLength="24.34" lengthAdjust="spacingAndGlyphs" >na_pos (positively correlated)</text>
<text x="205.32" y="344.40" font-size="2.2" fill="#5a50c0" font-weight="normal" text-anchor="start" textLength="21.08" lengthAdjust="spacingAndGlyphs" >na_neg (negatively correlated)</text>
<text x="197.16" y="338.39" font-size="2.3" fill="#444" font-weight="normal" text-anchor="start" textLength="17.68" lengthAdjust="spacingAndGlyphs" >Zero cross at 7919</text>
<path d="M172.46,299.04 C172.69,298.03 173.38,294.77 173.85,292.98 C174.31,291.19 174.65,289.17 175.23,288.31 C175.81,287.44 176.38,287.87 177.31,287.79 C178.23,287.70 179.61,287.99 180.77,287.79 C181.92,287.59 182.79,286.66 184.23,286.58 C185.67,286.49 187.69,286.63 189.42,287.27 C191.15,287.90 192.59,289.00 194.61,290.38 C196.63,291.77 199.23,293.70 201.54,295.58 C203.84,297.45 206.15,299.90 208.46,301.63 C210.77,303.36 213.51,304.66 215.38,305.96 C217.26,307.26 218.27,308.70 219.71,309.42 C221.15,310.14 222.74,309.91 224.04,310.29 C225.33,310.66 226.34,311.47 227.50,311.67 C228.65,311.87 229.81,311.59 230.96,311.50 C232.11,311.41 233.41,311.15 234.42,311.15 C235.43,311.15 236.50,313.23 237.02,311.50 C237.54,309.77 237.45,302.56 237.54,300.77" fill="none" stroke="#3aa64c" stroke-width="1.05" stroke-linejoin="round"/>
<text x="176.40" y="334.00" font-size="7.3" fill="#3b86c9" font-weight="normal" text-anchor="start" textLength="60.60" lengthAdjust="spacingAndGlyphs" >NES= +0.79 | P=0.80</text>
<rect x="172.5" y="285.5" width="68" height="61" fill="none" stroke="#2a2a2a" stroke-width="1"/>
<line x1="172.50" y1="285.00" x2="172.50" y2="347.00" stroke="#1a1a1a" stroke-width="1.0" />
<line x1="172.00" y1="346.50" x2="241.00" y2="346.50" stroke="#1a1a1a" stroke-width="1.1" />
<line x1="172.50" y1="347.00" x2="172.50" y2="348.20" stroke="#222" stroke-width="0.9" />
<text x="171.85" y="351.00" font-size="3.1" fill="#666" font-weight="normal" text-anchor="start" textLength="1.30" lengthAdjust="spacingAndGlyphs" >0</text>
<line x1="183.83" y1="347.00" x2="183.83" y2="348.20" stroke="#222" stroke-width="0.9" />
<text x="181.53" y="351.00" font-size="3.1" fill="#666" font-weight="normal" text-anchor="start" textLength="4.60" lengthAdjust="spacingAndGlyphs" >2,500</text>
<line x1="195.17" y1="347.00" x2="195.17" y2="348.20" stroke="#222" stroke-width="0.9" />
<text x="192.87" y="351.00" font-size="3.1" fill="#666" font-weight="normal" text-anchor="start" textLength="4.60" lengthAdjust="spacingAndGlyphs" >5,000</text>
<line x1="206.50" y1="347.00" x2="206.50" y2="348.20" stroke="#222" stroke-width="0.9" />
<text x="204.20" y="351.00" font-size="3.1" fill="#666" font-weight="normal" text-anchor="start" textLength="4.60" lengthAdjust="spacingAndGlyphs" >7,500</text>
<line x1="217.83" y1="347.00" x2="217.83" y2="348.20" stroke="#222" stroke-width="0.9" />
<text x="215.03" y="351.00" font-size="3.1" fill="#666" font-weight="normal" text-anchor="start" textLength="5.60" lengthAdjust="spacingAndGlyphs" >10,000</text>
<line x1="229.17" y1="347.00" x2="229.17" y2="348.20" stroke="#222" stroke-width="0.9" />
<text x="226.37" y="351.00" font-size="3.1" fill="#666" font-weight="normal" text-anchor="start" textLength="5.60" lengthAdjust="spacingAndGlyphs" >12,500</text>
<line x1="240.50" y1="347.00" x2="240.50" y2="348.20" stroke="#222" stroke-width="0.9" />
<text x="237.70" y="351.00" font-size="3.1" fill="#666" font-weight="normal" text-anchor="start" textLength="5.60" lengthAdjust="spacingAndGlyphs" >15,000</text>
<text x="197.50" y="355.00" font-size="2.9" fill="#666" font-weight="normal" text-anchor="start" textLength="17.00" lengthAdjust="spacingAndGlyphs" >Rank in ordered dataset</text>
<rect x="161.80" y="293.70" width="1.10" height="13.05" fill="#d0d0d0" />
<rect x="161.80" y="325.98" width="1.10" height="18.54" fill="#d0d0d0" />
<line x1="175.30" y1="360.30" x2="178.80" y2="360.30" stroke="#8fd08f" stroke-width="1.5" />
<text x="181.80" y="361.90" font-size="5.3" fill="#333" font-weight="normal" text-anchor="start" textLength="35.40" lengthAdjust="spacingAndGlyphs" >Enrichment profile</text>
<line x1="223.00" y1="360.30" x2="226.30" y2="360.30" stroke="#555" stroke-width="1.2" />
<text x="228.80" y="361.90" font-size="5.3" fill="#333" font-weight="normal" text-anchor="start" textLength="8.20" lengthAdjust="spacingAndGlyphs" >Hits</text>
<line x1="180.00" y1="366.90" x2="182.80" y2="366.90" stroke="#aaa" stroke-width="0.9" />
<line x1="185.50" y1="368.90" x2="187.90" y2="368.90" stroke="#333" stroke-width="1.0" />
<text x="190.80" y="369.60" font-size="5.3" fill="#333" font-weight="normal" text-anchor="start" textLength="41.80" lengthAdjust="spacingAndGlyphs" >Ranking metric scores</text>
<line x1="315.67" y1="159.00" x2="315.67" y2="191.00" stroke="#f1f1f1" stroke-width="0.6" />
<line x1="328.33" y1="159.00" x2="328.33" y2="191.00" stroke="#f1f1f1" stroke-width="0.6" />
<line x1="341.00" y1="159.00" x2="341.00" y2="191.00" stroke="#f1f1f1" stroke-width="0.6" />
<line x1="353.67" y1="159.00" x2="353.67" y2="191.00" stroke="#f1f1f1" stroke-width="0.6" />
<line x1="366.33" y1="159.00" x2="366.33" y2="191.00" stroke="#f1f1f1" stroke-width="0.6" />
<line x1="304.00" y1="160.40" x2="378.00" y2="160.40" stroke="#f4f4f4" stroke-width="0.6" />
<line x1="301.60" y1="160.40" x2="303.00" y2="160.40" stroke="#333" stroke-width="0.9" />
<rect x="296.00" y="159.70" width="3.80" height="1.40" fill="#b4b4b4" />
<line x1="304.00" y1="163.80" x2="378.00" y2="163.80" stroke="#f4f4f4" stroke-width="0.6" />
<line x1="301.60" y1="163.80" x2="303.00" y2="163.80" stroke="#333" stroke-width="0.9" />
<rect x="296.00" y="163.10" width="3.80" height="1.40" fill="#b4b4b4" />
<line x1="304.00" y1="167.20" x2="378.00" y2="167.20" stroke="#f4f4f4" stroke-width="0.6" />
<line x1="301.60" y1="167.20" x2="303.00" y2="167.20" stroke="#333" stroke-width="0.9" />
<rect x="296.00" y="166.50" width="3.80" height="1.40" fill="#b4b4b4" />
<line x1="304.00" y1="170.60" x2="378.00" y2="170.60" stroke="#f4f4f4" stroke-width="0.6" />
<line x1="301.60" y1="170.60" x2="303.00" y2="170.60" stroke="#333" stroke-width="0.9" />
<rect x="296.00" y="169.90" width="3.80" height="1.40" fill="#b4b4b4" />
<line x1="304.00" y1="174.00" x2="378.00" y2="174.00" stroke="#f4f4f4" stroke-width="0.6" />
<line x1="301.60" y1="174.00" x2="303.00" y2="174.00" stroke="#333" stroke-width="0.9" />
<rect x="296.00" y="173.30" width="3.80" height="1.40" fill="#b4b4b4" />
<line x1="304.00" y1="177.40" x2="378.00" y2="177.40" stroke="#f4f4f4" stroke-width="0.6" />
<line x1="301.60" y1="177.40" x2="303.00" y2="177.40" stroke="#333" stroke-width="0.9" />
<rect x="296.00" y="176.70" width="3.80" height="1.40" fill="#b4b4b4" />
<line x1="304.00" y1="180.80" x2="378.00" y2="180.80" stroke="#f4f4f4" stroke-width="0.6" />
<line x1="301.60" y1="180.80" x2="303.00" y2="180.80" stroke="#333" stroke-width="0.9" />
<rect x="296.00" y="180.10" width="3.80" height="1.40" fill="#b4b4b4" />
<line x1="304.00" y1="184.20" x2="378.00" y2="184.20" stroke="#f4f4f4" stroke-width="0.6" />
<line x1="301.60" y1="184.20" x2="303.00" y2="184.20" stroke="#333" stroke-width="0.9" />
<rect x="296.00" y="183.50" width="3.80" height="1.40" fill="#b4b4b4" />
<line x1="304.00" y1="187.60" x2="378.00" y2="187.60" stroke="#f4f4f4" stroke-width="0.6" />
<line x1="301.60" y1="187.60" x2="303.00" y2="187.60" stroke="#333" stroke-width="0.9" />
<rect x="296.00" y="186.90" width="3.80" height="1.40" fill="#b4b4b4" />
<line x1="304.00" y1="191.00" x2="378.00" y2="191.00" stroke="#f4f4f4" stroke-width="0.6" />
<line x1="301.60" y1="191.00" x2="303.00" y2="191.00" stroke="#333" stroke-width="0.9" />
<rect x="296.00" y="190.30" width="3.80" height="1.40" fill="#b4b4b4" />
<rect x="304.00" y="190.70" width="75.00" height="1.30" fill="#f0f0f0" />
<line x1="304.00" y1="192.30" x2="379.00" y2="192.30" stroke="#dcdcdc" stroke-width="0.5" />
<line x1="301.60" y1="207.08" x2="303.00" y2="207.08" stroke="#333" stroke-width="0.9" />
<rect x="297.40" y="206.38" width="2.60" height="1.40" fill="#b4b4b4" />
<line x1="301.60" y1="209.85" x2="303.00" y2="209.85" stroke="#333" stroke-width="0.9" />
<rect x="297.40" y="209.15" width="2.60" height="1.40" fill="#b4b4b4" />
<line x1="301.60" y1="212.63" x2="303.00" y2="212.63" stroke="#333" stroke-width="0.9" />
<rect x="297.40" y="211.93" width="2.60" height="1.40" fill="#b4b4b4" />
<line x1="301.60" y1="215.40" x2="303.00" y2="215.40" stroke="#333" stroke-width="0.9" />
<rect x="297.40" y="214.70" width="2.60" height="1.40" fill="#b4b4b4" />
<line x1="301.60" y1="218.18" x2="303.00" y2="218.18" stroke="#333" stroke-width="0.9" />
<rect x="297.40" y="217.48" width="2.60" height="1.40" fill="#b4b4b4" />
<line x1="301.60" y1="220.95" x2="303.00" y2="220.95" stroke="#333" stroke-width="0.9" />
<rect x="297.40" y="220.25" width="2.60" height="1.40" fill="#b4b4b4" />
<line x1="301.60" y1="223.73" x2="303.00" y2="223.73" stroke="#333" stroke-width="0.9" />
<rect x="297.40" y="223.03" width="2.60" height="1.40" fill="#b4b4b4" />
<line x1="301.60" y1="226.50" x2="303.00" y2="226.50" stroke="#333" stroke-width="0.9" />
<rect x="297.40" y="225.80" width="2.60" height="1.40" fill="#b4b4b4" />
<line x1="305.00" y1="224.50" x2="376.00" y2="224.50" stroke="#d6d6d6" stroke-width="0.7" />
<line x1="340.24" y1="218.78" x2="340.24" y2="228.50" stroke="#e0e0e0" stroke-width="0.6" stroke-dasharray="0.8,0.8"/>
<line x1="305.04" y1="192.80" x2="305.04" y2="203.80" stroke="#999999" stroke-width="1.05" />
<line x1="306.25" y1="192.80" x2="306.25" y2="203.80" stroke="#999999" stroke-width="1.05" />
<line x1="309.71" y1="192.80" x2="309.71" y2="203.80" stroke="#999999" stroke-width="1.05" />
<line x1="312.31" y1="192.80" x2="312.31" y2="203.80" stroke="#999999" stroke-width="1.05" />
<line x1="316.63" y1="192.80" x2="316.63" y2="203.80" stroke="#999999" stroke-width="1.05" />
<line x1="317.50" y1="192.80" x2="317.50" y2="203.80" stroke="#999999" stroke-width="1.05" />
<line x1="325.81" y1="192.80" x2="325.81" y2="203.80" stroke="#999999" stroke-width="1.05" />
<line x1="327.02" y1="192.80" x2="327.02" y2="203.80" stroke="#999999" stroke-width="1.05" />
<line x1="328.75" y1="192.80" x2="328.75" y2="203.80" stroke="#999999" stroke-width="1.05" />
<line x1="331.34" y1="192.80" x2="331.34" y2="203.80" stroke="#999999" stroke-width="1.05" />
<line x1="337.40" y1="192.80" x2="337.40" y2="203.80" stroke="#999999" stroke-width="1.05" />
<line x1="338.27" y1="192.80" x2="338.27" y2="203.80" stroke="#999999" stroke-width="1.05" />
<line x1="340.86" y1="192.80" x2="340.86" y2="203.80" stroke="#999999" stroke-width="1.05" />
<line x1="343.46" y1="192.80" x2="343.46" y2="203.80" stroke="#999999" stroke-width="1.05" />
<line x1="359.90" y1="192.80" x2="359.90" y2="203.80" stroke="#999999" stroke-width="1.05" />
<rect x="303.76" y="203.80" width="10.92" height="2.48" fill="#d8424f" />
<rect x="314.63" y="203.80" width="6.51" height="2.48" fill="#d6607a" />
<rect x="321.09" y="203.80" width="7.95" height="2.48" fill="#da6a78" />
<rect x="328.99" y="203.80" width="11.83" height="2.48" fill="#e8b8da" />
<rect x="340.77" y="203.80" width="11.53" height="2.48" fill="#ded8f0" />
<rect x="352.25" y="203.80" width="7.27" height="2.48" fill="#cac0e4" />
<rect x="359.47" y="203.80" width="5.07" height="2.48" fill="#7068c2" />
<rect x="364.48" y="203.80" width="10.39" height="2.48" fill="#4a3e9e" />
<rect x="374.82" y="203.80" width="1.19" height="2.48" fill="#302888" />
<text x="304.50" y="208.58" font-size="2.0" fill="#d6403f" font-weight="normal" text-anchor="start" textLength="27.38" lengthAdjust="spacingAndGlyphs" >na_pos (positively correlated)</text>
<text x="340.24" y="227.40" font-size="2.2" fill="#5a50c0" font-weight="normal" text-anchor="start" textLength="23.56" lengthAdjust="spacingAndGlyphs" >na_neg (negatively correlated)</text>
<text x="331.12" y="220.14" font-size="2.3" fill="#444" font-weight="normal" text-anchor="start" textLength="19.76" lengthAdjust="spacingAndGlyphs" >Zero cross at 7919</text>
<path d="M303.65,160.38 C303.94,160.24 304.81,159.58 305.38,159.52 C305.96,159.46 305.38,159.32 307.11,160.04 C308.85,160.76 312.02,162.20 315.77,163.85 C319.52,165.49 324.42,167.60 329.61,169.90 C334.81,172.21 341.15,175.24 346.92,177.69 C352.69,180.14 359.38,182.36 364.23,184.61 C369.07,186.86 374.04,190.09 376.00,191.19" fill="none" stroke="#3aa64c" stroke-width="1.05" stroke-linejoin="round"/>
<text x="308.00" y="216.10" font-size="7.3" fill="#d6403f" font-weight="normal" text-anchor="start" textLength="66.60" lengthAdjust="spacingAndGlyphs" >NES= +2.45 | P&lt;0.0001</text>
<rect x="303.5" y="158.5" width="76" height="71" fill="none" stroke="#2a2a2a" stroke-width="1"/>
<line x1="303.50" y1="158.00" x2="303.50" y2="230.00" stroke="#1a1a1a" stroke-width="1.0" />
<line x1="303.00" y1="229.50" x2="380.00" y2="229.50" stroke="#1a1a1a" stroke-width="1.1" />
<line x1="303.50" y1="230.00" x2="303.50" y2="231.20" stroke="#222" stroke-width="0.9" />
<text x="302.85" y="234.00" font-size="3.1" fill="#666" font-weight="normal" text-anchor="start" textLength="1.30" lengthAdjust="spacingAndGlyphs" >0</text>
<line x1="316.17" y1="230.00" x2="316.17" y2="231.20" stroke="#222" stroke-width="0.9" />
<text x="313.87" y="234.00" font-size="3.1" fill="#666" font-weight="normal" text-anchor="start" textLength="4.60" lengthAdjust="spacingAndGlyphs" >2,500</text>
<line x1="328.83" y1="230.00" x2="328.83" y2="231.20" stroke="#222" stroke-width="0.9" />
<text x="326.53" y="234.00" font-size="3.1" fill="#666" font-weight="normal" text-anchor="start" textLength="4.60" lengthAdjust="spacingAndGlyphs" >5,000</text>
<line x1="341.50" y1="230.00" x2="341.50" y2="231.20" stroke="#222" stroke-width="0.9" />
<text x="339.20" y="234.00" font-size="3.1" fill="#666" font-weight="normal" text-anchor="start" textLength="4.60" lengthAdjust="spacingAndGlyphs" >7,500</text>
<line x1="354.17" y1="230.00" x2="354.17" y2="231.20" stroke="#222" stroke-width="0.9" />
<text x="351.37" y="234.00" font-size="3.1" fill="#666" font-weight="normal" text-anchor="start" textLength="5.60" lengthAdjust="spacingAndGlyphs" >10,000</text>
<line x1="366.83" y1="230.00" x2="366.83" y2="231.20" stroke="#222" stroke-width="0.9" />
<text x="364.03" y="234.00" font-size="3.1" fill="#666" font-weight="normal" text-anchor="start" textLength="5.60" lengthAdjust="spacingAndGlyphs" >12,500</text>
<line x1="379.50" y1="230.00" x2="379.50" y2="231.20" stroke="#222" stroke-width="0.9" />
<text x="376.70" y="234.00" font-size="3.1" fill="#666" font-weight="normal" text-anchor="start" textLength="5.60" lengthAdjust="spacingAndGlyphs" >15,000</text>
<text x="332.50" y="238.00" font-size="2.9" fill="#666" font-weight="normal" text-anchor="start" textLength="17.00" lengthAdjust="spacingAndGlyphs" >Rank in ordered dataset</text>
<rect x="292.80" y="168.20" width="1.10" height="15.30" fill="#d0d0d0" />
<rect x="292.80" y="205.78" width="1.10" height="21.58" fill="#d0d0d0" />
<line x1="310.30" y1="243.30" x2="313.80" y2="243.30" stroke="#8fd08f" stroke-width="1.5" />
<text x="316.80" y="244.90" font-size="5.3" fill="#333" font-weight="normal" text-anchor="start" textLength="35.40" lengthAdjust="spacingAndGlyphs" >Enrichment profile</text>
<line x1="358.00" y1="243.30" x2="361.30" y2="243.30" stroke="#555" stroke-width="1.2" />
<text x="363.80" y="244.90" font-size="5.3" fill="#333" font-weight="normal" text-anchor="start" textLength="8.20" lengthAdjust="spacingAndGlyphs" >Hits</text>
<line x1="315.00" y1="249.90" x2="317.80" y2="249.90" stroke="#aaa" stroke-width="0.9" />
<line x1="320.50" y1="251.90" x2="322.90" y2="251.90" stroke="#333" stroke-width="1.0" />
<text x="325.80" y="252.60" font-size="5.3" fill="#333" font-weight="normal" text-anchor="start" textLength="41.80" lengthAdjust="spacingAndGlyphs" >Ranking metric scores</text>
<line x1="436.67" y1="159.00" x2="436.67" y2="191.00" stroke="#f1f1f1" stroke-width="0.6" />
<line x1="449.33" y1="159.00" x2="449.33" y2="191.00" stroke="#f1f1f1" stroke-width="0.6" />
<line x1="462.00" y1="159.00" x2="462.00" y2="191.00" stroke="#f1f1f1" stroke-width="0.6" />
<line x1="474.67" y1="159.00" x2="474.67" y2="191.00" stroke="#f1f1f1" stroke-width="0.6" />
<line x1="487.33" y1="159.00" x2="487.33" y2="191.00" stroke="#f1f1f1" stroke-width="0.6" />
<line x1="425.00" y1="160.40" x2="499.00" y2="160.40" stroke="#f4f4f4" stroke-width="0.6" />
<line x1="422.60" y1="160.40" x2="424.00" y2="160.40" stroke="#333" stroke-width="0.9" />
<rect x="417.00" y="159.70" width="3.80" height="1.40" fill="#b4b4b4" />
<line x1="425.00" y1="163.80" x2="499.00" y2="163.80" stroke="#f4f4f4" stroke-width="0.6" />
<line x1="422.60" y1="163.80" x2="424.00" y2="163.80" stroke="#333" stroke-width="0.9" />
<rect x="417.00" y="163.10" width="3.80" height="1.40" fill="#b4b4b4" />
<line x1="425.00" y1="167.20" x2="499.00" y2="167.20" stroke="#f4f4f4" stroke-width="0.6" />
<line x1="422.60" y1="167.20" x2="424.00" y2="167.20" stroke="#333" stroke-width="0.9" />
<rect x="417.00" y="166.50" width="3.80" height="1.40" fill="#b4b4b4" />
<line x1="425.00" y1="170.60" x2="499.00" y2="170.60" stroke="#f4f4f4" stroke-width="0.6" />
<line x1="422.60" y1="170.60" x2="424.00" y2="170.60" stroke="#333" stroke-width="0.9" />
<rect x="417.00" y="169.90" width="3.80" height="1.40" fill="#b4b4b4" />
<line x1="425.00" y1="174.00" x2="499.00" y2="174.00" stroke="#f4f4f4" stroke-width="0.6" />
<line x1="422.60" y1="174.00" x2="424.00" y2="174.00" stroke="#333" stroke-width="0.9" />
<rect x="417.00" y="173.30" width="3.80" height="1.40" fill="#b4b4b4" />
<line x1="425.00" y1="177.40" x2="499.00" y2="177.40" stroke="#f4f4f4" stroke-width="0.6" />
<line x1="422.60" y1="177.40" x2="424.00" y2="177.40" stroke="#333" stroke-width="0.9" />
<rect x="417.00" y="176.70" width="3.80" height="1.40" fill="#b4b4b4" />
<line x1="425.00" y1="180.80" x2="499.00" y2="180.80" stroke="#f4f4f4" stroke-width="0.6" />
<line x1="422.60" y1="180.80" x2="424.00" y2="180.80" stroke="#333" stroke-width="0.9" />
<rect x="417.00" y="180.10" width="3.80" height="1.40" fill="#b4b4b4" />
<line x1="425.00" y1="184.20" x2="499.00" y2="184.20" stroke="#f4f4f4" stroke-width="0.6" />
<line x1="422.60" y1="184.20" x2="424.00" y2="184.20" stroke="#333" stroke-width="0.9" />
<rect x="417.00" y="183.50" width="3.80" height="1.40" fill="#b4b4b4" />
<line x1="425.00" y1="187.60" x2="499.00" y2="187.60" stroke="#f4f4f4" stroke-width="0.6" />
<line x1="422.60" y1="187.60" x2="424.00" y2="187.60" stroke="#333" stroke-width="0.9" />
<rect x="417.00" y="186.90" width="3.80" height="1.40" fill="#b4b4b4" />
<line x1="425.00" y1="191.00" x2="499.00" y2="191.00" stroke="#f4f4f4" stroke-width="0.6" />
<line x1="422.60" y1="191.00" x2="424.00" y2="191.00" stroke="#333" stroke-width="0.9" />
<rect x="417.00" y="190.30" width="3.80" height="1.40" fill="#b4b4b4" />
<rect x="425.00" y="190.70" width="75.00" height="1.30" fill="#f0f0f0" />
<line x1="425.00" y1="192.30" x2="500.00" y2="192.30" stroke="#dcdcdc" stroke-width="0.5" />
<line x1="422.60" y1="208.98" x2="424.00" y2="208.98" stroke="#333" stroke-width="0.9" />
<rect x="418.40" y="208.28" width="2.60" height="1.40" fill="#b4b4b4" />
<line x1="422.60" y1="214.23" x2="424.00" y2="214.23" stroke="#333" stroke-width="0.9" />
<rect x="418.40" y="213.53" width="2.60" height="1.40" fill="#b4b4b4" />
<line x1="422.60" y1="219.48" x2="424.00" y2="219.48" stroke="#333" stroke-width="0.9" />
<rect x="418.40" y="218.78" width="2.60" height="1.40" fill="#b4b4b4" />
<line x1="422.60" y1="224.73" x2="424.00" y2="224.73" stroke="#333" stroke-width="0.9" />
<rect x="418.40" y="224.03" width="2.60" height="1.40" fill="#b4b4b4" />
<line x1="426.00" y1="224.50" x2="497.00" y2="224.50" stroke="#d6d6d6" stroke-width="0.7" />
<line x1="461.24" y1="218.78" x2="461.24" y2="228.50" stroke="#e0e0e0" stroke-width="0.6" stroke-dasharray="0.8,0.8"/>
<line x1="428.11" y1="192.80" x2="428.11" y2="203.80" stroke="#999999" stroke-width="1.05" />
<line x1="429.50" y1="192.80" x2="429.50" y2="203.80" stroke="#999999" stroke-width="1.05" />
<line x1="430.19" y1="192.80" x2="430.19" y2="203.80" stroke="#999999" stroke-width="1.05" />
<line x1="434.17" y1="192.80" x2="434.17" y2="203.80" stroke="#999999" stroke-width="1.05" />
<line x1="439.36" y1="192.80" x2="439.36" y2="203.80" stroke="#999999" stroke-width="1.05" />
<line x1="440.23" y1="192.80" x2="440.23" y2="203.80" stroke="#999999" stroke-width="1.05" />
<line x1="441.61" y1="192.80" x2="441.61" y2="203.80" stroke="#999999" stroke-width="1.05" />
<line x1="449.75" y1="192.80" x2="449.75" y2="203.80" stroke="#999999" stroke-width="1.05" />
<line x1="457.54" y1="192.80" x2="457.54" y2="203.80" stroke="#999999" stroke-width="1.05" />
<line x1="458.40" y1="192.80" x2="458.40" y2="203.80" stroke="#999999" stroke-width="1.05" />
<line x1="471.04" y1="192.80" x2="471.04" y2="203.80" stroke="#999999" stroke-width="1.05" />
<line x1="472.25" y1="192.80" x2="472.25" y2="203.80" stroke="#999999" stroke-width="1.05" />
<line x1="473.46" y1="192.80" x2="473.46" y2="203.80" stroke="#999999" stroke-width="1.05" />
<line x1="478.31" y1="192.80" x2="478.31" y2="203.80" stroke="#999999" stroke-width="1.05" />
<line x1="479.17" y1="192.80" x2="479.17" y2="203.80" stroke="#999999" stroke-width="1.05" />
<line x1="480.04" y1="192.80" x2="480.04" y2="203.80" stroke="#999999" stroke-width="1.05" />
<rect x="424.61" y="203.80" width="10.08" height="2.48" fill="#d8424f" />
<rect x="434.64" y="203.80" width="5.52" height="2.48" fill="#d6607a" />
<rect x="440.11" y="203.80" width="6.74" height="2.48" fill="#da6a78" />
<rect x="446.80" y="203.80" width="11.45" height="2.48" fill="#e8b8da" />
<rect x="458.20" y="203.80" width="10.69" height="2.48" fill="#ded8f0" />
<rect x="468.84" y="203.80" width="7.65" height="2.48" fill="#cac0e4" />
<rect x="476.44" y="203.80" width="6.89" height="2.48" fill="#7068c2" />
<rect x="483.28" y="203.80" width="12.59" height="2.48" fill="#4a3e9e" />
<rect x="495.82" y="203.80" width="1.19" height="2.48" fill="#302888" />
<text x="425.50" y="208.58" font-size="2.0" fill="#d6403f" font-weight="normal" text-anchor="start" textLength="27.38" lengthAdjust="spacingAndGlyphs" >na_pos (positively correlated)</text>
<text x="461.24" y="227.40" font-size="2.2" fill="#5a50c0" font-weight="normal" text-anchor="start" textLength="23.56" lengthAdjust="spacingAndGlyphs" >na_neg (negatively correlated)</text>
<text x="452.12" y="220.14" font-size="2.3" fill="#444" font-weight="normal" text-anchor="start" textLength="19.76" lengthAdjust="spacingAndGlyphs" >Zero cross at 7919</text>
<path d="M424.65,160.04 C425.23,160.24 426.96,160.90 428.11,161.25 C429.27,161.60 427.83,160.53 431.58,162.11 C435.33,163.70 444.56,168.03 450.61,170.77 C456.67,173.51 462.15,175.96 467.92,178.56 C473.69,181.15 480.38,184.04 485.23,186.34 C490.07,188.65 495.04,191.39 497.00,192.40" fill="none" stroke="#3aa64c" stroke-width="1.05" stroke-linejoin="round"/>
<text x="429.00" y="216.10" font-size="7.3" fill="#3b86c9" font-weight="normal" text-anchor="start" textLength="66.60" lengthAdjust="spacingAndGlyphs" >NES= +2.46 | P&lt;0.0001</text>
<rect x="424.5" y="158.5" width="76" height="71" fill="none" stroke="#2a2a2a" stroke-width="1"/>
<line x1="424.50" y1="158.00" x2="424.50" y2="230.00" stroke="#1a1a1a" stroke-width="1.0" />
<line x1="424.00" y1="229.50" x2="501.00" y2="229.50" stroke="#1a1a1a" stroke-width="1.1" />
<line x1="424.50" y1="230.00" x2="424.50" y2="231.20" stroke="#222" stroke-width="0.9" />
<text x="423.85" y="234.00" font-size="3.1" fill="#666" font-weight="normal" text-anchor="start" textLength="1.30" lengthAdjust="spacingAndGlyphs" >0</text>
<line x1="437.17" y1="230.00" x2="437.17" y2="231.20" stroke="#222" stroke-width="0.9" />
<text x="434.87" y="234.00" font-size="3.1" fill="#666" font-weight="normal" text-anchor="start" textLength="4.60" lengthAdjust="spacingAndGlyphs" >2,500</text>
<line x1="449.83" y1="230.00" x2="449.83" y2="231.20" stroke="#222" stroke-width="0.9" />
<text x="447.53" y="234.00" font-size="3.1" fill="#666" font-weight="normal" text-anchor="start" textLength="4.60" lengthAdjust="spacingAndGlyphs" >5,000</text>
<line x1="462.50" y1="230.00" x2="462.50" y2="231.20" stroke="#222" stroke-width="0.9" />
<text x="460.20" y="234.00" font-size="3.1" fill="#666" font-weight="normal" text-anchor="start" textLength="4.60" lengthAdjust="spacingAndGlyphs" >7,500</text>
<line x1="475.17" y1="230.00" x2="475.17" y2="231.20" stroke="#222" stroke-width="0.9" />
<text x="472.37" y="234.00" font-size="3.1" fill="#666" font-weight="normal" text-anchor="start" textLength="5.60" lengthAdjust="spacingAndGlyphs" >10,000</text>
<line x1="487.83" y1="230.00" x2="487.83" y2="231.20" stroke="#222" stroke-width="0.9" />
<text x="485.03" y="234.00" font-size="3.1" fill="#666" font-weight="normal" text-anchor="start" textLength="5.60" lengthAdjust="spacingAndGlyphs" >12,500</text>
<line x1="500.50" y1="230.00" x2="500.50" y2="231.20" stroke="#222" stroke-width="0.9" />
<text x="497.70" y="234.00" font-size="3.1" fill="#666" font-weight="normal" text-anchor="start" textLength="5.60" lengthAdjust="spacingAndGlyphs" >15,000</text>
<text x="453.50" y="238.00" font-size="2.9" fill="#666" font-weight="normal" text-anchor="start" textLength="17.00" lengthAdjust="spacingAndGlyphs" >Rank in ordered dataset</text>
<rect x="413.80" y="168.20" width="1.10" height="15.30" fill="#d0d0d0" />
<rect x="413.80" y="205.78" width="1.10" height="21.58" fill="#d0d0d0" />
<line x1="431.30" y1="243.30" x2="434.80" y2="243.30" stroke="#8fd08f" stroke-width="1.5" />
<text x="437.80" y="244.90" font-size="5.3" fill="#333" font-weight="normal" text-anchor="start" textLength="35.40" lengthAdjust="spacingAndGlyphs" >Enrichment profile</text>
<line x1="479.00" y1="243.30" x2="482.30" y2="243.30" stroke="#555" stroke-width="1.2" />
<text x="484.80" y="244.90" font-size="5.3" fill="#333" font-weight="normal" text-anchor="start" textLength="8.20" lengthAdjust="spacingAndGlyphs" >Hits</text>
<line x1="436.00" y1="249.90" x2="438.80" y2="249.90" stroke="#aaa" stroke-width="0.9" />
<line x1="441.50" y1="251.90" x2="443.90" y2="251.90" stroke="#333" stroke-width="1.0" />
<text x="446.80" y="252.60" font-size="5.3" fill="#333" font-weight="normal" text-anchor="start" textLength="41.80" lengthAdjust="spacingAndGlyphs" >Ranking metric scores</text>
<line x1="315.67" y1="276.00" x2="315.67" y2="308.00" stroke="#f1f1f1" stroke-width="0.6" />
<line x1="328.33" y1="276.00" x2="328.33" y2="308.00" stroke="#f1f1f1" stroke-width="0.6" />
<line x1="341.00" y1="276.00" x2="341.00" y2="308.00" stroke="#f1f1f1" stroke-width="0.6" />
<line x1="353.67" y1="276.00" x2="353.67" y2="308.00" stroke="#f1f1f1" stroke-width="0.6" />
<line x1="366.33" y1="276.00" x2="366.33" y2="308.00" stroke="#f1f1f1" stroke-width="0.6" />
<line x1="304.00" y1="277.40" x2="378.00" y2="277.40" stroke="#f4f4f4" stroke-width="0.6" />
<line x1="301.60" y1="277.40" x2="303.00" y2="277.40" stroke="#333" stroke-width="0.9" />
<rect x="296.00" y="276.70" width="3.80" height="1.40" fill="#b4b4b4" />
<line x1="304.00" y1="280.80" x2="378.00" y2="280.80" stroke="#f4f4f4" stroke-width="0.6" />
<line x1="301.60" y1="280.80" x2="303.00" y2="280.80" stroke="#333" stroke-width="0.9" />
<rect x="296.00" y="280.10" width="3.80" height="1.40" fill="#b4b4b4" />
<line x1="304.00" y1="284.20" x2="378.00" y2="284.20" stroke="#f4f4f4" stroke-width="0.6" />
<line x1="301.60" y1="284.20" x2="303.00" y2="284.20" stroke="#333" stroke-width="0.9" />
<rect x="296.00" y="283.50" width="3.80" height="1.40" fill="#b4b4b4" />
<line x1="304.00" y1="287.60" x2="378.00" y2="287.60" stroke="#f4f4f4" stroke-width="0.6" />
<line x1="301.60" y1="287.60" x2="303.00" y2="287.60" stroke="#333" stroke-width="0.9" />
<rect x="296.00" y="286.90" width="3.80" height="1.40" fill="#b4b4b4" />
<line x1="304.00" y1="291.00" x2="378.00" y2="291.00" stroke="#f4f4f4" stroke-width="0.6" />
<line x1="301.60" y1="291.00" x2="303.00" y2="291.00" stroke="#333" stroke-width="0.9" />
<rect x="296.00" y="290.30" width="3.80" height="1.40" fill="#b4b4b4" />
<line x1="304.00" y1="294.40" x2="378.00" y2="294.40" stroke="#f4f4f4" stroke-width="0.6" />
<line x1="301.60" y1="294.40" x2="303.00" y2="294.40" stroke="#333" stroke-width="0.9" />
<rect x="296.00" y="293.70" width="3.80" height="1.40" fill="#b4b4b4" />
<line x1="304.00" y1="297.80" x2="378.00" y2="297.80" stroke="#f4f4f4" stroke-width="0.6" />
<line x1="301.60" y1="297.80" x2="303.00" y2="297.80" stroke="#333" stroke-width="0.9" />
<rect x="296.00" y="297.10" width="3.80" height="1.40" fill="#b4b4b4" />
<line x1="304.00" y1="301.20" x2="378.00" y2="301.20" stroke="#f4f4f4" stroke-width="0.6" />
<line x1="301.60" y1="301.20" x2="303.00" y2="301.20" stroke="#333" stroke-width="0.9" />
<rect x="296.00" y="300.50" width="3.80" height="1.40" fill="#b4b4b4" />
<line x1="304.00" y1="304.60" x2="378.00" y2="304.60" stroke="#f4f4f4" stroke-width="0.6" />
<line x1="301.60" y1="304.60" x2="303.00" y2="304.60" stroke="#333" stroke-width="0.9" />
<rect x="296.00" y="303.90" width="3.80" height="1.40" fill="#b4b4b4" />
<line x1="304.00" y1="308.00" x2="378.00" y2="308.00" stroke="#f4f4f4" stroke-width="0.6" />
<line x1="301.60" y1="308.00" x2="303.00" y2="308.00" stroke="#333" stroke-width="0.9" />
<rect x="296.00" y="307.30" width="3.80" height="1.40" fill="#b4b4b4" />
<rect x="304.00" y="307.70" width="75.00" height="1.30" fill="#f0f0f0" />
<line x1="304.00" y1="309.30" x2="379.00" y2="309.30" stroke="#dcdcdc" stroke-width="0.5" />
<line x1="301.60" y1="324.08" x2="303.00" y2="324.08" stroke="#333" stroke-width="0.9" />
<rect x="297.40" y="323.38" width="2.60" height="1.40" fill="#b4b4b4" />
<line x1="301.60" y1="326.85" x2="303.00" y2="326.85" stroke="#333" stroke-width="0.9" />
<rect x="297.40" y="326.15" width="2.60" height="1.40" fill="#b4b4b4" />
<line x1="301.60" y1="329.63" x2="303.00" y2="329.63" stroke="#333" stroke-width="0.9" />
<rect x="297.40" y="328.93" width="2.60" height="1.40" fill="#b4b4b4" />
<line x1="301.60" y1="332.40" x2="303.00" y2="332.40" stroke="#333" stroke-width="0.9" />
<rect x="297.40" y="331.70" width="2.60" height="1.40" fill="#b4b4b4" />
<line x1="301.60" y1="335.18" x2="303.00" y2="335.18" stroke="#333" stroke-width="0.9" />
<rect x="297.40" y="334.48" width="2.60" height="1.40" fill="#b4b4b4" />
<line x1="301.60" y1="337.95" x2="303.00" y2="337.95" stroke="#333" stroke-width="0.9" />
<rect x="297.40" y="337.25" width="2.60" height="1.40" fill="#b4b4b4" />
<line x1="301.60" y1="340.73" x2="303.00" y2="340.73" stroke="#333" stroke-width="0.9" />
<rect x="297.40" y="340.03" width="2.60" height="1.40" fill="#b4b4b4" />
<line x1="301.60" y1="343.50" x2="303.00" y2="343.50" stroke="#333" stroke-width="0.9" />
<rect x="297.40" y="342.80" width="2.60" height="1.40" fill="#b4b4b4" />
<line x1="305.00" y1="341.50" x2="376.00" y2="341.50" stroke="#d6d6d6" stroke-width="0.7" />
<line x1="340.24" y1="335.78" x2="340.24" y2="345.50" stroke="#e0e0e0" stroke-width="0.6" stroke-dasharray="0.8,0.8"/>
<line x1="305.04" y1="309.80" x2="305.04" y2="320.80" stroke="#999999" stroke-width="1.05" />
<line x1="306.25" y1="309.80" x2="306.25" y2="320.80" stroke="#999999" stroke-width="1.05" />
<line x1="307.98" y1="309.80" x2="307.98" y2="320.80" stroke="#999999" stroke-width="1.05" />
<line x1="310.58" y1="309.80" x2="310.58" y2="320.80" stroke="#999999" stroke-width="1.05" />
<line x1="317.50" y1="309.80" x2="317.50" y2="320.80" stroke="#999999" stroke-width="1.05" />
<line x1="320.96" y1="309.80" x2="320.96" y2="320.80" stroke="#999999" stroke-width="1.05" />
<line x1="323.56" y1="309.80" x2="323.56" y2="320.80" stroke="#999999" stroke-width="1.05" />
<line x1="326.15" y1="309.80" x2="326.15" y2="320.80" stroke="#999999" stroke-width="1.05" />
<line x1="330.48" y1="309.80" x2="330.48" y2="320.80" stroke="#999999" stroke-width="1.05" />
<line x1="341.73" y1="309.80" x2="341.73" y2="320.80" stroke="#999999" stroke-width="1.05" />
<line x1="343.46" y1="309.80" x2="343.46" y2="320.80" stroke="#999999" stroke-width="1.05" />
<line x1="350.38" y1="309.80" x2="350.38" y2="320.80" stroke="#999999" stroke-width="1.05" />
<line x1="362.50" y1="309.80" x2="362.50" y2="320.80" stroke="#999999" stroke-width="1.05" />
<line x1="364.23" y1="309.80" x2="364.23" y2="320.80" stroke="#999999" stroke-width="1.05" />
<line x1="365.96" y1="309.80" x2="365.96" y2="320.80" stroke="#999999" stroke-width="1.05" />
<line x1="369.42" y1="309.80" x2="369.42" y2="320.80" stroke="#999999" stroke-width="1.05" />
<line x1="371.15" y1="309.80" x2="371.15" y2="320.80" stroke="#999999" stroke-width="1.05" />
<rect x="303.76" y="320.80" width="10.69" height="2.48" fill="#d8424f" />
<rect x="314.40" y="320.80" width="6.55" height="2.48" fill="#d6607a" />
<rect x="320.90" y="320.80" width="7.99" height="2.48" fill="#da6a78" />
<rect x="328.84" y="320.80" width="12.21" height="2.48" fill="#e8b8da" />
<rect x="341.00" y="320.80" width="10.69" height="2.48" fill="#ded8f0" />
<rect x="351.64" y="320.80" width="7.65" height="2.48" fill="#cac0e4" />
<rect x="359.24" y="320.80" width="4.61" height="2.48" fill="#7068c2" />
<rect x="363.80" y="320.80" width="11.07" height="2.48" fill="#4a3e9e" />
<rect x="374.82" y="320.80" width="1.19" height="2.48" fill="#302888" />
<text x="304.50" y="325.58" font-size="2.0" fill="#d6403f" font-weight="normal" text-anchor="start" textLength="27.38" lengthAdjust="spacingAndGlyphs" >na_pos (positively correlated)</text>
<text x="340.24" y="344.40" font-size="2.2" fill="#5a50c0" font-weight="normal" text-anchor="start" textLength="23.56" lengthAdjust="spacingAndGlyphs" >na_neg (negatively correlated)</text>
<text x="331.12" y="337.14" font-size="2.3" fill="#444" font-weight="normal" text-anchor="start" textLength="19.76" lengthAdjust="spacingAndGlyphs" >Zero cross at 7919</text>
<path d="M303.65,277.52 C304.09,277.37 305.53,276.65 306.25,276.65 C306.97,276.65 306.11,276.80 307.98,277.52 C309.86,278.24 313.89,279.54 317.50,280.98 C321.10,282.42 324.71,284.01 329.61,286.17 C334.52,288.34 341.15,291.22 346.92,293.96 C352.69,296.70 360.48,300.83 364.23,302.61 C367.98,304.40 367.46,303.77 369.42,304.69 C371.38,305.61 374.90,307.58 376.00,308.15" fill="none" stroke="#3aa64c" stroke-width="1.05" stroke-linejoin="round"/>
<text x="309.20" y="332.50" font-size="7.3" fill="#d6403f" font-weight="normal" text-anchor="start" textLength="63.70" lengthAdjust="spacingAndGlyphs" >NES= +2.25 | P=0.001</text>
<rect x="303.5" y="275.5" width="76" height="71" fill="none" stroke="#2a2a2a" stroke-width="1"/>
<line x1="303.50" y1="275.00" x2="303.50" y2="347.00" stroke="#1a1a1a" stroke-width="1.0" />
<line x1="303.00" y1="346.50" x2="380.00" y2="346.50" stroke="#1a1a1a" stroke-width="1.1" />
<line x1="303.50" y1="347.00" x2="303.50" y2="348.20" stroke="#222" stroke-width="0.9" />
<text x="302.85" y="351.00" font-size="3.1" fill="#666" font-weight="normal" text-anchor="start" textLength="1.30" lengthAdjust="spacingAndGlyphs" >0</text>
<line x1="316.17" y1="347.00" x2="316.17" y2="348.20" stroke="#222" stroke-width="0.9" />
<text x="313.87" y="351.00" font-size="3.1" fill="#666" font-weight="normal" text-anchor="start" textLength="4.60" lengthAdjust="spacingAndGlyphs" >2,500</text>
<line x1="328.83" y1="347.00" x2="328.83" y2="348.20" stroke="#222" stroke-width="0.9" />
<text x="326.53" y="351.00" font-size="3.1" fill="#666" font-weight="normal" text-anchor="start" textLength="4.60" lengthAdjust="spacingAndGlyphs" >5,000</text>
<line x1="341.50" y1="347.00" x2="341.50" y2="348.20" stroke="#222" stroke-width="0.9" />
<text x="339.20" y="351.00" font-size="3.1" fill="#666" font-weight="normal" text-anchor="start" textLength="4.60" lengthAdjust="spacingAndGlyphs" >7,500</text>
<line x1="354.17" y1="347.00" x2="354.17" y2="348.20" stroke="#222" stroke-width="0.9" />
<text x="351.37" y="351.00" font-size="3.1" fill="#666" font-weight="normal" text-anchor="start" textLength="5.60" lengthAdjust="spacingAndGlyphs" >10,000</text>
<line x1="366.83" y1="347.00" x2="366.83" y2="348.20" stroke="#222" stroke-width="0.9" />
<text x="364.03" y="351.00" font-size="3.1" fill="#666" font-weight="normal" text-anchor="start" textLength="5.60" lengthAdjust="spacingAndGlyphs" >12,500</text>
<line x1="379.50" y1="347.00" x2="379.50" y2="348.20" stroke="#222" stroke-width="0.9" />
<text x="376.70" y="351.00" font-size="3.1" fill="#666" font-weight="normal" text-anchor="start" textLength="5.60" lengthAdjust="spacingAndGlyphs" >15,000</text>
<text x="332.50" y="355.00" font-size="2.9" fill="#666" font-weight="normal" text-anchor="start" textLength="17.00" lengthAdjust="spacingAndGlyphs" >Rank in ordered dataset</text>
<rect x="292.80" y="285.20" width="1.10" height="15.30" fill="#d0d0d0" />
<rect x="292.80" y="322.78" width="1.10" height="21.58" fill="#d0d0d0" />
<line x1="310.30" y1="360.30" x2="313.80" y2="360.30" stroke="#8fd08f" stroke-width="1.5" />
<text x="316.80" y="361.90" font-size="5.3" fill="#333" font-weight="normal" text-anchor="start" textLength="35.40" lengthAdjust="spacingAndGlyphs" >Enrichment profile</text>
<line x1="358.00" y1="360.30" x2="361.30" y2="360.30" stroke="#555" stroke-width="1.2" />
<text x="363.80" y="361.90" font-size="5.3" fill="#333" font-weight="normal" text-anchor="start" textLength="8.20" lengthAdjust="spacingAndGlyphs" >Hits</text>
<line x1="315.00" y1="366.90" x2="317.80" y2="366.90" stroke="#aaa" stroke-width="0.9" />
<line x1="320.50" y1="368.90" x2="322.90" y2="368.90" stroke="#333" stroke-width="1.0" />
<text x="325.80" y="369.60" font-size="5.3" fill="#333" font-weight="normal" text-anchor="start" textLength="41.80" lengthAdjust="spacingAndGlyphs" >Ranking metric scores</text>
<line x1="436.67" y1="276.00" x2="436.67" y2="308.00" stroke="#f1f1f1" stroke-width="0.6" />
<line x1="449.33" y1="276.00" x2="449.33" y2="308.00" stroke="#f1f1f1" stroke-width="0.6" />
<line x1="462.00" y1="276.00" x2="462.00" y2="308.00" stroke="#f1f1f1" stroke-width="0.6" />
<line x1="474.67" y1="276.00" x2="474.67" y2="308.00" stroke="#f1f1f1" stroke-width="0.6" />
<line x1="487.33" y1="276.00" x2="487.33" y2="308.00" stroke="#f1f1f1" stroke-width="0.6" />
<line x1="425.00" y1="277.40" x2="499.00" y2="277.40" stroke="#f4f4f4" stroke-width="0.6" />
<line x1="422.60" y1="277.40" x2="424.00" y2="277.40" stroke="#333" stroke-width="0.9" />
<rect x="417.00" y="276.70" width="3.80" height="1.40" fill="#b4b4b4" />
<line x1="425.00" y1="280.80" x2="499.00" y2="280.80" stroke="#f4f4f4" stroke-width="0.6" />
<line x1="422.60" y1="280.80" x2="424.00" y2="280.80" stroke="#333" stroke-width="0.9" />
<rect x="417.00" y="280.10" width="3.80" height="1.40" fill="#b4b4b4" />
<line x1="425.00" y1="284.20" x2="499.00" y2="284.20" stroke="#f4f4f4" stroke-width="0.6" />
<line x1="422.60" y1="284.20" x2="424.00" y2="284.20" stroke="#333" stroke-width="0.9" />
<rect x="417.00" y="283.50" width="3.80" height="1.40" fill="#b4b4b4" />
<line x1="425.00" y1="287.60" x2="499.00" y2="287.60" stroke="#f4f4f4" stroke-width="0.6" />
<line x1="422.60" y1="287.60" x2="424.00" y2="287.60" stroke="#333" stroke-width="0.9" />
<rect x="417.00" y="286.90" width="3.80" height="1.40" fill="#b4b4b4" />
<line x1="425.00" y1="291.00" x2="499.00" y2="291.00" stroke="#f4f4f4" stroke-width="0.6" />
<line x1="422.60" y1="291.00" x2="424.00" y2="291.00" stroke="#333" stroke-width="0.9" />
<rect x="417.00" y="290.30" width="3.80" height="1.40" fill="#b4b4b4" />
<line x1="425.00" y1="294.40" x2="499.00" y2="294.40" stroke="#f4f4f4" stroke-width="0.6" />
<line x1="422.60" y1="294.40" x2="424.00" y2="294.40" stroke="#333" stroke-width="0.9" />
<rect x="417.00" y="293.70" width="3.80" height="1.40" fill="#b4b4b4" />
<line x1="425.00" y1="297.80" x2="499.00" y2="297.80" stroke="#f4f4f4" stroke-width="0.6" />
<line x1="422.60" y1="297.80" x2="424.00" y2="297.80" stroke="#333" stroke-width="0.9" />
<rect x="417.00" y="297.10" width="3.80" height="1.40" fill="#b4b4b4" />
<line x1="425.00" y1="301.20" x2="499.00" y2="301.20" stroke="#f4f4f4" stroke-width="0.6" />
<line x1="422.60" y1="301.20" x2="424.00" y2="301.20" stroke="#333" stroke-width="0.9" />
<rect x="417.00" y="300.50" width="3.80" height="1.40" fill="#b4b4b4" />
<line x1="425.00" y1="304.60" x2="499.00" y2="304.60" stroke="#f4f4f4" stroke-width="0.6" />
<line x1="422.60" y1="304.60" x2="424.00" y2="304.60" stroke="#333" stroke-width="0.9" />
<rect x="417.00" y="303.90" width="3.80" height="1.40" fill="#b4b4b4" />
<line x1="425.00" y1="308.00" x2="499.00" y2="308.00" stroke="#f4f4f4" stroke-width="0.6" />
<line x1="422.60" y1="308.00" x2="424.00" y2="308.00" stroke="#333" stroke-width="0.9" />
<rect x="417.00" y="307.30" width="3.80" height="1.40" fill="#b4b4b4" />
<rect x="425.00" y="307.70" width="75.00" height="1.30" fill="#f0f0f0" />
<line x1="425.00" y1="309.30" x2="500.00" y2="309.30" stroke="#dcdcdc" stroke-width="0.5" />
<line x1="422.60" y1="325.98" x2="424.00" y2="325.98" stroke="#333" stroke-width="0.9" />
<rect x="418.40" y="325.28" width="2.60" height="1.40" fill="#b4b4b4" />
<line x1="422.60" y1="331.23" x2="424.00" y2="331.23" stroke="#333" stroke-width="0.9" />
<rect x="418.40" y="330.53" width="2.60" height="1.40" fill="#b4b4b4" />
<line x1="422.60" y1="336.48" x2="424.00" y2="336.48" stroke="#333" stroke-width="0.9" />
<rect x="418.40" y="335.78" width="2.60" height="1.40" fill="#b4b4b4" />
<line x1="422.60" y1="341.73" x2="424.00" y2="341.73" stroke="#333" stroke-width="0.9" />
<rect x="418.40" y="341.03" width="2.60" height="1.40" fill="#b4b4b4" />
<line x1="426.00" y1="341.50" x2="497.00" y2="341.50" stroke="#d6d6d6" stroke-width="0.7" />
<line x1="461.24" y1="335.78" x2="461.24" y2="345.50" stroke="#e0e0e0" stroke-width="0.6" stroke-dasharray="0.8,0.8"/>
<line x1="428.11" y1="309.80" x2="428.11" y2="320.80" stroke="#999999" stroke-width="1.05" />
<line x1="429.85" y1="309.80" x2="429.85" y2="320.80" stroke="#999999" stroke-width="1.05" />
<line x1="431.58" y1="309.80" x2="431.58" y2="320.80" stroke="#999999" stroke-width="1.05" />
<line x1="433.31" y1="309.80" x2="433.31" y2="320.80" stroke="#999999" stroke-width="1.05" />
<line x1="451.48" y1="309.80" x2="451.48" y2="320.80" stroke="#999999" stroke-width="1.05" />
<line x1="457.54" y1="309.80" x2="457.54" y2="320.80" stroke="#999999" stroke-width="1.05" />
<line x1="458.92" y1="309.80" x2="458.92" y2="320.80" stroke="#999999" stroke-width="1.05" />
<line x1="467.92" y1="309.80" x2="467.92" y2="320.80" stroke="#999999" stroke-width="1.05" />
<line x1="471.38" y1="309.80" x2="471.38" y2="320.80" stroke="#999999" stroke-width="1.05" />
<line x1="479.17" y1="309.80" x2="479.17" y2="320.80" stroke="#999999" stroke-width="1.05" />
<line x1="480.04" y1="309.80" x2="480.04" y2="320.80" stroke="#999999" stroke-width="1.05" />
<line x1="486.96" y1="309.80" x2="486.96" y2="320.80" stroke="#999999" stroke-width="1.05" />
<line x1="488.69" y1="309.80" x2="488.69" y2="320.80" stroke="#999999" stroke-width="1.05" />
<line x1="490.42" y1="309.80" x2="490.42" y2="320.80" stroke="#999999" stroke-width="1.05" />
<line x1="492.15" y1="309.80" x2="492.15" y2="320.80" stroke="#999999" stroke-width="1.05" />
<line x1="494.75" y1="309.80" x2="494.75" y2="320.80" stroke="#999999" stroke-width="1.05" />
<rect x="424.61" y="320.80" width="10.08" height="2.48" fill="#d8424f" />
<rect x="434.64" y="320.80" width="5.52" height="2.48" fill="#d6607a" />
<rect x="440.11" y="320.80" width="6.74" height="2.48" fill="#da6a78" />
<rect x="446.80" y="320.80" width="11.45" height="2.48" fill="#e8b8da" />
<rect x="458.20" y="320.80" width="10.69" height="2.48" fill="#ded8f0" />
<rect x="468.84" y="320.80" width="7.65" height="2.48" fill="#cac0e4" />
<rect x="476.44" y="320.80" width="6.89" height="2.48" fill="#7068c2" />
<rect x="483.28" y="320.80" width="12.59" height="2.48" fill="#4a3e9e" />
<rect x="495.82" y="320.80" width="1.19" height="2.48" fill="#302888" />
<text x="425.50" y="325.58" font-size="2.0" fill="#d6403f" font-weight="normal" text-anchor="start" textLength="27.38" lengthAdjust="spacingAndGlyphs" >na_pos (positively correlated)</text>
<text x="461.24" y="344.40" font-size="2.2" fill="#5a50c0" font-weight="normal" text-anchor="start" textLength="23.56" lengthAdjust="spacingAndGlyphs" >na_neg (negatively correlated)</text>
<text x="452.12" y="337.14" font-size="2.3" fill="#444" font-weight="normal" text-anchor="start" textLength="19.76" lengthAdjust="spacingAndGlyphs" >Zero cross at 7919</text>
<path d="M424.65,276.65 C425.23,276.88 426.67,277.46 428.11,278.04 C429.56,278.61 429.56,278.33 433.31,280.11 C437.06,281.90 444.85,286.17 450.61,288.77 C456.38,291.36 462.15,293.38 467.92,295.69 C473.69,298.00 480.38,300.54 485.23,302.61 C490.07,304.69 495.04,307.23 497.00,308.15" fill="none" stroke="#3aa64c" stroke-width="1.05" stroke-linejoin="round"/>
<text x="429.00" y="332.50" font-size="7.3" fill="#3b86c9" font-weight="normal" text-anchor="start" textLength="66.60" lengthAdjust="spacingAndGlyphs" >NES= +2.43 | P&lt;0.0001</text>
<rect x="424.5" y="275.5" width="76" height="71" fill="none" stroke="#2a2a2a" stroke-width="1"/>
<line x1="424.50" y1="275.00" x2="424.50" y2="347.00" stroke="#1a1a1a" stroke-width="1.0" />
<line x1="424.00" y1="346.50" x2="501.00" y2="346.50" stroke="#1a1a1a" stroke-width="1.1" />
<line x1="424.50" y1="347.00" x2="424.50" y2="348.20" stroke="#222" stroke-width="0.9" />
<text x="423.85" y="351.00" font-size="3.1" fill="#666" font-weight="normal" text-anchor="start" textLength="1.30" lengthAdjust="spacingAndGlyphs" >0</text>
<line x1="437.17" y1="347.00" x2="437.17" y2="348.20" stroke="#222" stroke-width="0.9" />
<text x="434.87" y="351.00" font-size="3.1" fill="#666" font-weight="normal" text-anchor="start" textLength="4.60" lengthAdjust="spacingAndGlyphs" >2,500</text>
<line x1="449.83" y1="347.00" x2="449.83" y2="348.20" stroke="#222" stroke-width="0.9" />
<text x="447.53" y="351.00" font-size="3.1" fill="#666" font-weight="normal" text-anchor="start" textLength="4.60" lengthAdjust="spacingAndGlyphs" >5,000</text>
<line x1="462.50" y1="347.00" x2="462.50" y2="348.20" stroke="#222" stroke-width="0.9" />
<text x="460.20" y="351.00" font-size="3.1" fill="#666" font-weight="normal" text-anchor="start" textLength="4.60" lengthAdjust="spacingAndGlyphs" >7,500</text>
<line x1="475.17" y1="347.00" x2="475.17" y2="348.20" stroke="#222" stroke-width="0.9" />
<text x="472.37" y="351.00" font-size="3.1" fill="#666" font-weight="normal" text-anchor="start" textLength="5.60" lengthAdjust="spacingAndGlyphs" >10,000</text>
<line x1="487.83" y1="347.00" x2="487.83" y2="348.20" stroke="#222" stroke-width="0.9" />
<text x="485.03" y="351.00" font-size="3.1" fill="#666" font-weight="normal" text-anchor="start" textLength="5.60" lengthAdjust="spacingAndGlyphs" >12,500</text>
<line x1="500.50" y1="347.00" x2="500.50" y2="348.20" stroke="#222" stroke-width="0.9" />
<text x="497.70" y="351.00" font-size="3.1" fill="#666" font-weight="normal" text-anchor="start" textLength="5.60" lengthAdjust="spacingAndGlyphs" >15,000</text>
<text x="453.50" y="355.00" font-size="2.9" fill="#666" font-weight="normal" text-anchor="start" textLength="17.00" lengthAdjust="spacingAndGlyphs" >Rank in ordered dataset</text>
<rect x="413.80" y="285.20" width="1.10" height="15.30" fill="#d0d0d0" />
<rect x="413.80" y="322.78" width="1.10" height="21.58" fill="#d0d0d0" />
<line x1="431.30" y1="360.30" x2="434.80" y2="360.30" stroke="#8fd08f" stroke-width="1.5" />
<text x="437.80" y="361.90" font-size="5.3" fill="#333" font-weight="normal" text-anchor="start" textLength="35.40" lengthAdjust="spacingAndGlyphs" >Enrichment profile</text>
<line x1="479.00" y1="360.30" x2="482.30" y2="360.30" stroke="#555" stroke-width="1.2" />
<text x="484.80" y="361.90" font-size="5.3" fill="#333" font-weight="normal" text-anchor="start" textLength="8.20" lengthAdjust="spacingAndGlyphs" >Hits</text>
<line x1="436.00" y1="366.90" x2="438.80" y2="366.90" stroke="#aaa" stroke-width="0.9" />
<line x1="441.50" y1="368.90" x2="443.90" y2="368.90" stroke="#333" stroke-width="1.0" />
<text x="446.80" y="369.60" font-size="5.3" fill="#333" font-weight="normal" text-anchor="start" textLength="41.80" lengthAdjust="spacingAndGlyphs" >Ranking metric scores</text>
<line x1="69.17" y1="418.00" x2="69.17" y2="445.00" stroke="#f1f1f1" stroke-width="0.6" />
<line x1="81.33" y1="418.00" x2="81.33" y2="445.00" stroke="#f1f1f1" stroke-width="0.6" />
<line x1="93.50" y1="418.00" x2="93.50" y2="445.00" stroke="#f1f1f1" stroke-width="0.6" />
<line x1="105.67" y1="418.00" x2="105.67" y2="445.00" stroke="#f1f1f1" stroke-width="0.6" />
<line x1="117.83" y1="418.00" x2="117.83" y2="445.00" stroke="#f1f1f1" stroke-width="0.6" />
<line x1="58.00" y1="417.30" x2="129.00" y2="417.30" stroke="#f4f4f4" stroke-width="0.6" />
<line x1="55.60" y1="417.30" x2="57.00" y2="417.30" stroke="#333" stroke-width="0.9" />
<rect x="50.00" y="416.60" width="3.80" height="1.40" fill="#b4b4b4" />
<line x1="58.00" y1="420.70" x2="129.00" y2="420.70" stroke="#f4f4f4" stroke-width="0.6" />
<line x1="55.60" y1="420.70" x2="57.00" y2="420.70" stroke="#333" stroke-width="0.9" />
<rect x="50.00" y="420.00" width="3.80" height="1.40" fill="#b4b4b4" />
<line x1="58.00" y1="424.10" x2="129.00" y2="424.10" stroke="#f4f4f4" stroke-width="0.6" />
<line x1="55.60" y1="424.10" x2="57.00" y2="424.10" stroke="#333" stroke-width="0.9" />
<rect x="50.00" y="423.40" width="3.80" height="1.40" fill="#b4b4b4" />
<line x1="58.00" y1="427.50" x2="129.00" y2="427.50" stroke="#f4f4f4" stroke-width="0.6" />
<line x1="55.60" y1="427.50" x2="57.00" y2="427.50" stroke="#333" stroke-width="0.9" />
<rect x="50.00" y="426.80" width="3.80" height="1.40" fill="#b4b4b4" />
<line x1="58.00" y1="430.90" x2="129.00" y2="430.90" stroke="#f4f4f4" stroke-width="0.6" />
<line x1="55.60" y1="430.90" x2="57.00" y2="430.90" stroke="#333" stroke-width="0.9" />
<rect x="50.00" y="430.20" width="3.80" height="1.40" fill="#b4b4b4" />
<line x1="58.00" y1="434.30" x2="129.00" y2="434.30" stroke="#f4f4f4" stroke-width="0.6" />
<line x1="55.60" y1="434.30" x2="57.00" y2="434.30" stroke="#333" stroke-width="0.9" />
<rect x="50.00" y="433.60" width="3.80" height="1.40" fill="#b4b4b4" />
<line x1="58.00" y1="437.70" x2="129.00" y2="437.70" stroke="#f4f4f4" stroke-width="0.6" />
<line x1="55.60" y1="437.70" x2="57.00" y2="437.70" stroke="#333" stroke-width="0.9" />
<rect x="50.00" y="437.00" width="3.80" height="1.40" fill="#b4b4b4" />
<line x1="58.00" y1="441.10" x2="129.00" y2="441.10" stroke="#f4f4f4" stroke-width="0.6" />
<line x1="55.60" y1="441.10" x2="57.00" y2="441.10" stroke="#333" stroke-width="0.9" />
<rect x="50.00" y="440.40" width="3.80" height="1.40" fill="#b4b4b4" />
<line x1="58.00" y1="444.50" x2="129.00" y2="444.50" stroke="#f4f4f4" stroke-width="0.6" />
<line x1="55.60" y1="444.50" x2="57.00" y2="444.50" stroke="#333" stroke-width="0.9" />
<rect x="50.00" y="443.80" width="3.80" height="1.40" fill="#b4b4b4" />
<rect x="58.00" y="444.70" width="72.00" height="1.30" fill="#f0f0f0" />
<line x1="58.00" y1="446.30" x2="130.00" y2="446.30" stroke="#dcdcdc" stroke-width="0.5" />
<line x1="58.00" y1="444.27" x2="129.00" y2="444.27" stroke="#d9d9d9" stroke-width="0.8" />
<line x1="55.60" y1="461.18" x2="57.00" y2="461.18" stroke="#333" stroke-width="0.9" />
<rect x="51.40" y="460.48" width="2.60" height="1.40" fill="#b4b4b4" />
<line x1="55.60" y1="467.18" x2="57.00" y2="467.18" stroke="#333" stroke-width="0.9" />
<rect x="51.40" y="466.48" width="2.60" height="1.40" fill="#b4b4b4" />
<line x1="55.60" y1="473.18" x2="57.00" y2="473.18" stroke="#333" stroke-width="0.9" />
<rect x="51.40" y="472.48" width="2.60" height="1.40" fill="#b4b4b4" />
<line x1="59.00" y1="473.50" x2="127.00" y2="473.50" stroke="#d6d6d6" stroke-width="0.7" />
<line x1="92.77" y1="469.22" x2="92.77" y2="477.50" stroke="#e0e0e0" stroke-width="0.6" stroke-dasharray="0.8,0.8"/>
<line x1="59.52" y1="446.80" x2="59.52" y2="456.35" stroke="#999999" stroke-width="1.05" />
<line x1="60.73" y1="446.80" x2="60.73" y2="456.35" stroke="#999999" stroke-width="1.05" />
<line x1="61.77" y1="446.80" x2="61.77" y2="456.35" stroke="#999999" stroke-width="1.05" />
<line x1="64.71" y1="446.80" x2="64.71" y2="456.35" stroke="#999999" stroke-width="1.05" />
<line x1="74.23" y1="446.80" x2="74.23" y2="456.35" stroke="#999999" stroke-width="1.05" />
<line x1="88.94" y1="446.80" x2="88.94" y2="456.35" stroke="#999999" stroke-width="1.05" />
<line x1="89.81" y1="446.80" x2="89.81" y2="456.35" stroke="#999999" stroke-width="1.05" />
<line x1="96.38" y1="446.80" x2="96.38" y2="456.35" stroke="#999999" stroke-width="1.05" />
<line x1="97.08" y1="446.80" x2="97.08" y2="456.35" stroke="#999999" stroke-width="1.05" />
<line x1="101.06" y1="446.80" x2="101.06" y2="456.35" stroke="#999999" stroke-width="1.05" />
<line x1="117.50" y1="446.80" x2="117.50" y2="456.35" stroke="#999999" stroke-width="1.05" />
<rect x="57.58" y="456.35" width="10.63" height="2.13" fill="#d8424f" />
<rect x="68.17" y="456.35" width="5.86" height="2.13" fill="#d6607a" />
<rect x="73.98" y="456.35" width="7.16" height="2.13" fill="#da6a78" />
<rect x="81.09" y="456.35" width="11.73" height="2.13" fill="#e8b8da" />
<rect x="92.77" y="456.35" width="10.64" height="2.13" fill="#ded8f0" />
<rect x="103.36" y="456.35" width="7.50" height="2.13" fill="#cac0e4" />
<rect x="110.80" y="456.35" width="5.38" height="2.13" fill="#7068c2" />
<rect x="116.13" y="456.35" width="9.61" height="2.13" fill="#4a3e9e" />
<rect x="125.69" y="456.35" width="1.15" height="2.13" fill="#302888" />
<text x="58.50" y="460.78" font-size="2.0" fill="#d6403f" font-weight="normal" text-anchor="start" textLength="26.24" lengthAdjust="spacingAndGlyphs" >na_pos (positively correlated)</text>
<text x="92.77" y="476.40" font-size="2.2" fill="#5a50c0" font-weight="normal" text-anchor="start" textLength="22.63" lengthAdjust="spacingAndGlyphs" >na_neg (negatively correlated)</text>
<text x="84.01" y="470.39" font-size="2.3" fill="#444" font-weight="normal" text-anchor="start" textLength="18.98" lengthAdjust="spacingAndGlyphs" >Zero cross at 7919</text>
<polyline points="57.27,444.61 57.79,435.96 58.65,426.44 60.04,422.98 61.25,421.25 62.46,418.31 63.85,419.52 65.58,417.79 67.31,418.65 74.23,422.11 75.10,421.77 84.61,426.44 101.92,434.23 115.77,440.29 117.50,441.15 118.36,439.77 127.02,444.27" fill="none" stroke="#3aa64c" stroke-width="1.05" stroke-linejoin="round"/>
<text x="61.80" y="465.70" font-size="7.3" fill="#d6403f" font-weight="normal" text-anchor="start" textLength="63.50" lengthAdjust="spacingAndGlyphs" >NES= +1.75 | P=0.017</text>
<rect x="57.5" y="417.5" width="73" height="61" fill="none" stroke="#2a2a2a" stroke-width="1"/>
<line x1="57.50" y1="417.00" x2="57.50" y2="479.00" stroke="#1a1a1a" stroke-width="1.0" />
<line x1="57.00" y1="478.50" x2="131.00" y2="478.50" stroke="#1a1a1a" stroke-width="1.1" />
<line x1="57.50" y1="479.00" x2="57.50" y2="480.20" stroke="#222" stroke-width="0.9" />
<text x="56.85" y="483.00" font-size="3.1" fill="#666" font-weight="normal" text-anchor="start" textLength="1.30" lengthAdjust="spacingAndGlyphs" >0</text>
<line x1="69.67" y1="479.00" x2="69.67" y2="480.20" stroke="#222" stroke-width="0.9" />
<text x="67.37" y="483.00" font-size="3.1" fill="#666" font-weight="normal" text-anchor="start" textLength="4.60" lengthAdjust="spacingAndGlyphs" >2,500</text>
<line x1="81.83" y1="479.00" x2="81.83" y2="480.20" stroke="#222" stroke-width="0.9" />
<text x="79.53" y="483.00" font-size="3.1" fill="#666" font-weight="normal" text-anchor="start" textLength="4.60" lengthAdjust="spacingAndGlyphs" >5,000</text>
<line x1="94.00" y1="479.00" x2="94.00" y2="480.20" stroke="#222" stroke-width="0.9" />
<text x="91.70" y="483.00" font-size="3.1" fill="#666" font-weight="normal" text-anchor="start" textLength="4.60" lengthAdjust="spacingAndGlyphs" >7,500</text>
<line x1="106.17" y1="479.00" x2="106.17" y2="480.20" stroke="#222" stroke-width="0.9" />
<text x="103.37" y="483.00" font-size="3.1" fill="#666" font-weight="normal" text-anchor="start" textLength="5.60" lengthAdjust="spacingAndGlyphs" >10,000</text>
<line x1="118.33" y1="479.00" x2="118.33" y2="480.20" stroke="#222" stroke-width="0.9" />
<text x="115.53" y="483.00" font-size="3.1" fill="#666" font-weight="normal" text-anchor="start" textLength="5.60" lengthAdjust="spacingAndGlyphs" >12,500</text>
<line x1="130.50" y1="479.00" x2="130.50" y2="480.20" stroke="#222" stroke-width="0.9" />
<text x="127.70" y="483.00" font-size="3.1" fill="#666" font-weight="normal" text-anchor="start" textLength="5.60" lengthAdjust="spacingAndGlyphs" >15,000</text>
<text x="85.00" y="487.00" font-size="2.9" fill="#666" font-weight="normal" text-anchor="start" textLength="17.00" lengthAdjust="spacingAndGlyphs" >Rank in ordered dataset</text>
<rect x="46.80" y="425.70" width="1.10" height="13.05" fill="#d0d0d0" />
<rect x="46.80" y="457.98" width="1.10" height="18.54" fill="#d0d0d0" />
<line x1="62.80" y1="492.30" x2="66.30" y2="492.30" stroke="#8fd08f" stroke-width="1.5" />
<text x="69.30" y="493.90" font-size="5.3" fill="#333" font-weight="normal" text-anchor="start" textLength="35.40" lengthAdjust="spacingAndGlyphs" >Enrichment profile</text>
<line x1="110.50" y1="492.30" x2="113.80" y2="492.30" stroke="#555" stroke-width="1.2" />
<text x="116.30" y="493.90" font-size="5.3" fill="#333" font-weight="normal" text-anchor="start" textLength="8.20" lengthAdjust="spacingAndGlyphs" >Hits</text>
<line x1="67.50" y1="498.90" x2="70.30" y2="498.90" stroke="#aaa" stroke-width="0.9" />
<line x1="73.00" y1="500.90" x2="75.40" y2="500.90" stroke="#333" stroke-width="1.0" />
<text x="78.30" y="501.60" font-size="5.3" fill="#333" font-weight="normal" text-anchor="start" textLength="41.80" lengthAdjust="spacingAndGlyphs" >Ranking metric scores</text>
<line x1="196.17" y1="418.00" x2="196.17" y2="445.00" stroke="#f1f1f1" stroke-width="0.6" />
<line x1="208.33" y1="418.00" x2="208.33" y2="445.00" stroke="#f1f1f1" stroke-width="0.6" />
<line x1="220.50" y1="418.00" x2="220.50" y2="445.00" stroke="#f1f1f1" stroke-width="0.6" />
<line x1="232.67" y1="418.00" x2="232.67" y2="445.00" stroke="#f1f1f1" stroke-width="0.6" />
<line x1="244.83" y1="418.00" x2="244.83" y2="445.00" stroke="#f1f1f1" stroke-width="0.6" />
<line x1="185.00" y1="417.30" x2="256.00" y2="417.30" stroke="#f4f4f4" stroke-width="0.6" />
<line x1="182.60" y1="417.30" x2="184.00" y2="417.30" stroke="#333" stroke-width="0.9" />
<rect x="177.00" y="416.60" width="3.80" height="1.40" fill="#b4b4b4" />
<line x1="185.00" y1="420.70" x2="256.00" y2="420.70" stroke="#f4f4f4" stroke-width="0.6" />
<line x1="182.60" y1="420.70" x2="184.00" y2="420.70" stroke="#333" stroke-width="0.9" />
<rect x="177.00" y="420.00" width="3.80" height="1.40" fill="#b4b4b4" />
<line x1="185.00" y1="424.10" x2="256.00" y2="424.10" stroke="#f4f4f4" stroke-width="0.6" />
<line x1="182.60" y1="424.10" x2="184.00" y2="424.10" stroke="#333" stroke-width="0.9" />
<rect x="177.00" y="423.40" width="3.80" height="1.40" fill="#b4b4b4" />
<line x1="185.00" y1="427.50" x2="256.00" y2="427.50" stroke="#f4f4f4" stroke-width="0.6" />
<line x1="182.60" y1="427.50" x2="184.00" y2="427.50" stroke="#333" stroke-width="0.9" />
<rect x="177.00" y="426.80" width="3.80" height="1.40" fill="#b4b4b4" />
<line x1="185.00" y1="430.90" x2="256.00" y2="430.90" stroke="#f4f4f4" stroke-width="0.6" />
<line x1="182.60" y1="430.90" x2="184.00" y2="430.90" stroke="#333" stroke-width="0.9" />
<rect x="177.00" y="430.20" width="3.80" height="1.40" fill="#b4b4b4" />
<line x1="185.00" y1="434.30" x2="256.00" y2="434.30" stroke="#f4f4f4" stroke-width="0.6" />
<line x1="182.60" y1="434.30" x2="184.00" y2="434.30" stroke="#333" stroke-width="0.9" />
<rect x="177.00" y="433.60" width="3.80" height="1.40" fill="#b4b4b4" />
<line x1="185.00" y1="437.70" x2="256.00" y2="437.70" stroke="#f4f4f4" stroke-width="0.6" />
<line x1="182.60" y1="437.70" x2="184.00" y2="437.70" stroke="#333" stroke-width="0.9" />
<rect x="177.00" y="437.00" width="3.80" height="1.40" fill="#b4b4b4" />
<line x1="185.00" y1="441.10" x2="256.00" y2="441.10" stroke="#f4f4f4" stroke-width="0.6" />
<line x1="182.60" y1="441.10" x2="184.00" y2="441.10" stroke="#333" stroke-width="0.9" />
<rect x="177.00" y="440.40" width="3.80" height="1.40" fill="#b4b4b4" />
<line x1="185.00" y1="444.50" x2="256.00" y2="444.50" stroke="#f4f4f4" stroke-width="0.6" />
<line x1="182.60" y1="444.50" x2="184.00" y2="444.50" stroke="#333" stroke-width="0.9" />
<rect x="177.00" y="443.80" width="3.80" height="1.40" fill="#b4b4b4" />
<rect x="185.00" y="444.70" width="72.00" height="1.30" fill="#f0f0f0" />
<line x1="185.00" y1="446.30" x2="257.00" y2="446.30" stroke="#dcdcdc" stroke-width="0.5" />
<line x1="185.00" y1="444.27" x2="256.00" y2="444.27" stroke="#d9d9d9" stroke-width="0.8" />
<line x1="182.60" y1="461.18" x2="184.00" y2="461.18" stroke="#333" stroke-width="0.9" />
<rect x="178.40" y="460.48" width="2.60" height="1.40" fill="#b4b4b4" />
<line x1="182.60" y1="467.18" x2="184.00" y2="467.18" stroke="#333" stroke-width="0.9" />
<rect x="178.40" y="466.48" width="2.60" height="1.40" fill="#b4b4b4" />
<line x1="182.60" y1="473.18" x2="184.00" y2="473.18" stroke="#333" stroke-width="0.9" />
<rect x="178.40" y="472.48" width="2.60" height="1.40" fill="#b4b4b4" />
<line x1="186.00" y1="473.50" x2="254.00" y2="473.50" stroke="#d6d6d6" stroke-width="0.7" />
<line x1="219.77" y1="469.22" x2="219.77" y2="477.50" stroke="#e0e0e0" stroke-width="0.6" stroke-dasharray="0.8,0.8"/>
<line x1="188.11" y1="446.80" x2="188.11" y2="456.35" stroke="#999999" stroke-width="1.05" />
<line x1="190.71" y1="446.80" x2="190.71" y2="456.35" stroke="#999999" stroke-width="1.05" />
<line x1="194.17" y1="446.80" x2="194.17" y2="456.35" stroke="#999999" stroke-width="1.05" />
<line x1="198.15" y1="446.80" x2="198.15" y2="456.35" stroke="#999999" stroke-width="1.05" />
<line x1="199.36" y1="446.80" x2="199.36" y2="456.35" stroke="#999999" stroke-width="1.05" />
<line x1="209.75" y1="446.80" x2="209.75" y2="456.35" stroke="#999999" stroke-width="1.05" />
<line x1="210.27" y1="446.80" x2="210.27" y2="456.35" stroke="#999999" stroke-width="1.05" />
<line x1="214.94" y1="446.80" x2="214.94" y2="456.35" stroke="#999999" stroke-width="1.05" />
<line x1="221.00" y1="446.80" x2="221.00" y2="456.35" stroke="#999999" stroke-width="1.05" />
<line x1="226.19" y1="446.80" x2="226.19" y2="456.35" stroke="#999999" stroke-width="1.05" />
<line x1="231.38" y1="446.80" x2="231.38" y2="456.35" stroke="#999999" stroke-width="1.05" />
<line x1="232.25" y1="446.80" x2="232.25" y2="456.35" stroke="#999999" stroke-width="1.05" />
<line x1="233.98" y1="446.80" x2="233.98" y2="456.35" stroke="#999999" stroke-width="1.05" />
<line x1="246.96" y1="446.80" x2="246.96" y2="456.35" stroke="#999999" stroke-width="1.05" />
<rect x="184.58" y="456.35" width="10.63" height="2.13" fill="#d8424f" />
<rect x="195.17" y="456.35" width="5.86" height="2.13" fill="#d6607a" />
<rect x="200.98" y="456.35" width="7.16" height="2.13" fill="#da6a78" />
<rect x="208.09" y="456.35" width="11.73" height="2.13" fill="#e8b8da" />
<rect x="219.77" y="456.35" width="10.64" height="2.13" fill="#ded8f0" />
<rect x="230.36" y="456.35" width="7.50" height="2.13" fill="#cac0e4" />
<rect x="237.80" y="456.35" width="5.38" height="2.13" fill="#7068c2" />
<rect x="243.13" y="456.35" width="9.61" height="2.13" fill="#4a3e9e" />
<rect x="252.69" y="456.35" width="1.15" height="2.13" fill="#302888" />
<text x="185.50" y="460.78" font-size="2.0" fill="#d6403f" font-weight="normal" text-anchor="start" textLength="26.24" lengthAdjust="spacingAndGlyphs" >na_pos (positively correlated)</text>
<text x="219.77" y="476.40" font-size="2.2" fill="#5a50c0" font-weight="normal" text-anchor="start" textLength="22.63" lengthAdjust="spacingAndGlyphs" >na_neg (negatively correlated)</text>
<text x="211.01" y="470.39" font-size="2.3" fill="#444" font-weight="normal" text-anchor="start" textLength="18.98" lengthAdjust="spacingAndGlyphs" >Zero cross at 7919</text>
<polyline points="184.31,430.77 185.00,424.71 186.04,421.25 187.77,422.46 189.85,417.79 192.44,419.52 194.17,419.00 197.63,420.73 201.10,421.25 208.02,425.23 212.34,426.44 219.27,429.90 231.38,436.31 234.84,436.83 245.23,443.23 247.82,440.29 254.75,444.61" fill="none" stroke="#3aa64c" stroke-width="1.05" stroke-linejoin="round"/>
<text x="189.80" y="467.00" font-size="7.3" fill="#d6403f" font-weight="normal" text-anchor="start" textLength="64.40" lengthAdjust="spacingAndGlyphs" >NES= +1.69 | P=0.018</text>
<rect x="184.5" y="417.5" width="73" height="61" fill="none" stroke="#2a2a2a" stroke-width="1"/>
<line x1="184.50" y1="417.00" x2="184.50" y2="479.00" stroke="#1a1a1a" stroke-width="1.0" />
<line x1="184.00" y1="478.50" x2="258.00" y2="478.50" stroke="#1a1a1a" stroke-width="1.1" />
<line x1="184.50" y1="479.00" x2="184.50" y2="480.20" stroke="#222" stroke-width="0.9" />
<text x="183.85" y="483.00" font-size="3.1" fill="#666" font-weight="normal" text-anchor="start" textLength="1.30" lengthAdjust="spacingAndGlyphs" >0</text>
<line x1="196.67" y1="479.00" x2="196.67" y2="480.20" stroke="#222" stroke-width="0.9" />
<text x="194.37" y="483.00" font-size="3.1" fill="#666" font-weight="normal" text-anchor="start" textLength="4.60" lengthAdjust="spacingAndGlyphs" >2,500</text>
<line x1="208.83" y1="479.00" x2="208.83" y2="480.20" stroke="#222" stroke-width="0.9" />
<text x="206.53" y="483.00" font-size="3.1" fill="#666" font-weight="normal" text-anchor="start" textLength="4.60" lengthAdjust="spacingAndGlyphs" >5,000</text>
<line x1="221.00" y1="479.00" x2="221.00" y2="480.20" stroke="#222" stroke-width="0.9" />
<text x="218.70" y="483.00" font-size="3.1" fill="#666" font-weight="normal" text-anchor="start" textLength="4.60" lengthAdjust="spacingAndGlyphs" >7,500</text>
<line x1="233.17" y1="479.00" x2="233.17" y2="480.20" stroke="#222" stroke-width="0.9" />
<text x="230.37" y="483.00" font-size="3.1" fill="#666" font-weight="normal" text-anchor="start" textLength="5.60" lengthAdjust="spacingAndGlyphs" >10,000</text>
<line x1="245.33" y1="479.00" x2="245.33" y2="480.20" stroke="#222" stroke-width="0.9" />
<text x="242.53" y="483.00" font-size="3.1" fill="#666" font-weight="normal" text-anchor="start" textLength="5.60" lengthAdjust="spacingAndGlyphs" >12,500</text>
<line x1="257.50" y1="479.00" x2="257.50" y2="480.20" stroke="#222" stroke-width="0.9" />
<text x="254.70" y="483.00" font-size="3.1" fill="#666" font-weight="normal" text-anchor="start" textLength="5.60" lengthAdjust="spacingAndGlyphs" >15,000</text>
<text x="212.00" y="487.00" font-size="2.9" fill="#666" font-weight="normal" text-anchor="start" textLength="17.00" lengthAdjust="spacingAndGlyphs" >Rank in ordered dataset</text>
<rect x="173.80" y="425.70" width="1.10" height="13.05" fill="#d0d0d0" />
<rect x="173.80" y="457.98" width="1.10" height="18.54" fill="#d0d0d0" />
<line x1="189.80" y1="492.30" x2="193.30" y2="492.30" stroke="#8fd08f" stroke-width="1.5" />
<text x="196.30" y="493.90" font-size="5.3" fill="#333" font-weight="normal" text-anchor="start" textLength="35.40" lengthAdjust="spacingAndGlyphs" >Enrichment profile</text>
<line x1="237.50" y1="492.30" x2="240.80" y2="492.30" stroke="#555" stroke-width="1.2" />
<text x="243.30" y="493.90" font-size="5.3" fill="#333" font-weight="normal" text-anchor="start" textLength="8.20" lengthAdjust="spacingAndGlyphs" >Hits</text>
<line x1="194.50" y1="498.90" x2="197.30" y2="498.90" stroke="#aaa" stroke-width="0.9" />
<line x1="200.00" y1="500.90" x2="202.40" y2="500.90" stroke="#333" stroke-width="1.0" />
<text x="205.30" y="501.60" font-size="5.3" fill="#333" font-weight="normal" text-anchor="start" textLength="41.80" lengthAdjust="spacingAndGlyphs" >Ranking metric scores</text>
<line x1="313.17" y1="411.00" x2="313.17" y2="442.00" stroke="#f1f1f1" stroke-width="0.6" />
<line x1="325.33" y1="411.00" x2="325.33" y2="442.00" stroke="#f1f1f1" stroke-width="0.6" />
<line x1="337.50" y1="411.00" x2="337.50" y2="442.00" stroke="#f1f1f1" stroke-width="0.6" />
<line x1="349.67" y1="411.00" x2="349.67" y2="442.00" stroke="#f1f1f1" stroke-width="0.6" />
<line x1="361.83" y1="411.00" x2="361.83" y2="442.00" stroke="#f1f1f1" stroke-width="0.6" />
<line x1="302.00" y1="410.40" x2="373.00" y2="410.40" stroke="#f4f4f4" stroke-width="0.6" />
<line x1="299.60" y1="410.40" x2="301.00" y2="410.40" stroke="#333" stroke-width="0.9" />
<rect x="294.00" y="409.70" width="3.80" height="1.40" fill="#b4b4b4" />
<line x1="302.00" y1="415.20" x2="373.00" y2="415.20" stroke="#f4f4f4" stroke-width="0.6" />
<line x1="299.60" y1="415.20" x2="301.00" y2="415.20" stroke="#333" stroke-width="0.9" />
<rect x="294.00" y="414.50" width="3.80" height="1.40" fill="#b4b4b4" />
<line x1="302.00" y1="420.00" x2="373.00" y2="420.00" stroke="#f4f4f4" stroke-width="0.6" />
<line x1="299.60" y1="420.00" x2="301.00" y2="420.00" stroke="#333" stroke-width="0.9" />
<rect x="294.00" y="419.30" width="3.80" height="1.40" fill="#b4b4b4" />
<line x1="302.00" y1="424.80" x2="373.00" y2="424.80" stroke="#f4f4f4" stroke-width="0.6" />
<line x1="299.60" y1="424.80" x2="301.00" y2="424.80" stroke="#333" stroke-width="0.9" />
<rect x="294.00" y="424.10" width="3.80" height="1.40" fill="#b4b4b4" />
<line x1="302.00" y1="429.60" x2="373.00" y2="429.60" stroke="#f4f4f4" stroke-width="0.6" />
<line x1="299.60" y1="429.60" x2="301.00" y2="429.60" stroke="#333" stroke-width="0.9" />
<rect x="294.00" y="428.90" width="3.80" height="1.40" fill="#b4b4b4" />
<line x1="302.00" y1="434.40" x2="373.00" y2="434.40" stroke="#f4f4f4" stroke-width="0.6" />
<line x1="299.60" y1="434.40" x2="301.00" y2="434.40" stroke="#333" stroke-width="0.9" />
<rect x="294.00" y="433.70" width="3.80" height="1.40" fill="#b4b4b4" />
<line x1="302.00" y1="439.20" x2="373.00" y2="439.20" stroke="#f4f4f4" stroke-width="0.6" />
<line x1="299.60" y1="439.20" x2="301.00" y2="439.20" stroke="#333" stroke-width="0.9" />
<rect x="294.00" y="438.50" width="3.80" height="1.40" fill="#b4b4b4" />
<rect x="302.00" y="441.70" width="72.00" height="1.30" fill="#f0f0f0" />
<line x1="302.00" y1="443.30" x2="374.00" y2="443.30" stroke="#dcdcdc" stroke-width="0.5" />
<line x1="302.00" y1="439.00" x2="373.00" y2="439.00" stroke="#d9d9d9" stroke-width="0.8" />
<line x1="299.60" y1="457.04" x2="301.00" y2="457.04" stroke="#333" stroke-width="0.9" />
<rect x="295.40" y="456.34" width="2.60" height="1.40" fill="#b4b4b4" />
<line x1="299.60" y1="459.68" x2="301.00" y2="459.68" stroke="#333" stroke-width="0.9" />
<rect x="295.40" y="458.98" width="2.60" height="1.40" fill="#b4b4b4" />
<line x1="299.60" y1="462.31" x2="301.00" y2="462.31" stroke="#333" stroke-width="0.9" />
<rect x="295.40" y="461.61" width="2.60" height="1.40" fill="#b4b4b4" />
<line x1="299.60" y1="464.95" x2="301.00" y2="464.95" stroke="#333" stroke-width="0.9" />
<rect x="295.40" y="464.25" width="2.60" height="1.40" fill="#b4b4b4" />
<line x1="299.60" y1="467.59" x2="301.00" y2="467.59" stroke="#333" stroke-width="0.9" />
<rect x="295.40" y="466.89" width="2.60" height="1.40" fill="#b4b4b4" />
<line x1="299.60" y1="470.23" x2="301.00" y2="470.23" stroke="#333" stroke-width="0.9" />
<rect x="295.40" y="469.53" width="2.60" height="1.40" fill="#b4b4b4" />
<line x1="299.60" y1="472.86" x2="301.00" y2="472.86" stroke="#333" stroke-width="0.9" />
<rect x="295.40" y="472.16" width="2.60" height="1.40" fill="#b4b4b4" />
<line x1="299.60" y1="475.50" x2="301.00" y2="475.50" stroke="#333" stroke-width="0.9" />
<rect x="295.40" y="474.80" width="2.60" height="1.40" fill="#b4b4b4" />
<line x1="303.00" y1="473.50" x2="371.00" y2="473.50" stroke="#d6d6d6" stroke-width="0.7" />
<line x1="336.77" y1="468.21" x2="336.77" y2="477.50" stroke="#e0e0e0" stroke-width="0.6" stroke-dasharray="0.8,0.8"/>
<line x1="303.38" y1="443.80" x2="303.38" y2="453.86" stroke="#999999" stroke-width="1.05" />
<line x1="304.77" y1="443.80" x2="304.77" y2="453.86" stroke="#999999" stroke-width="1.05" />
<line x1="305.98" y1="443.80" x2="305.98" y2="453.86" stroke="#999999" stroke-width="1.05" />
<line x1="306.85" y1="443.80" x2="306.85" y2="453.86" stroke="#999999" stroke-width="1.05" />
<line x1="308.58" y1="443.80" x2="308.58" y2="453.86" stroke="#999999" stroke-width="1.05" />
<line x1="310.31" y1="443.80" x2="310.31" y2="453.86" stroke="#999999" stroke-width="1.05" />
<line x1="312.04" y1="443.80" x2="312.04" y2="453.86" stroke="#999999" stroke-width="1.05" />
<line x1="314.63" y1="443.80" x2="314.63" y2="453.86" stroke="#999999" stroke-width="1.05" />
<line x1="315.50" y1="443.80" x2="315.50" y2="453.86" stroke="#999999" stroke-width="1.05" />
<line x1="317.23" y1="443.80" x2="317.23" y2="453.86" stroke="#999999" stroke-width="1.05" />
<line x1="318.96" y1="443.80" x2="318.96" y2="453.86" stroke="#999999" stroke-width="1.05" />
<line x1="321.56" y1="443.80" x2="321.56" y2="453.86" stroke="#999999" stroke-width="1.05" />
<line x1="328.48" y1="443.80" x2="328.48" y2="453.86" stroke="#999999" stroke-width="1.05" />
<line x1="329.34" y1="443.80" x2="329.34" y2="453.86" stroke="#999999" stroke-width="1.05" />
<line x1="330.21" y1="443.80" x2="330.21" y2="453.86" stroke="#999999" stroke-width="1.05" />
<line x1="334.54" y1="443.80" x2="334.54" y2="453.86" stroke="#999999" stroke-width="1.05" />
<line x1="337.13" y1="443.80" x2="337.13" y2="453.86" stroke="#999999" stroke-width="1.05" />
<line x1="339.73" y1="443.80" x2="339.73" y2="453.86" stroke="#999999" stroke-width="1.05" />
<line x1="340.59" y1="443.80" x2="340.59" y2="453.86" stroke="#999999" stroke-width="1.05" />
<line x1="342.33" y1="443.80" x2="342.33" y2="453.86" stroke="#999999" stroke-width="1.05" />
<line x1="343.19" y1="443.80" x2="343.19" y2="453.86" stroke="#999999" stroke-width="1.05" />
<line x1="345.79" y1="443.80" x2="345.79" y2="453.86" stroke="#999999" stroke-width="1.05" />
<line x1="347.52" y1="443.80" x2="347.52" y2="453.86" stroke="#999999" stroke-width="1.05" />
<line x1="349.25" y1="443.80" x2="349.25" y2="453.86" stroke="#999999" stroke-width="1.05" />
<line x1="361.36" y1="443.80" x2="361.36" y2="453.86" stroke="#999999" stroke-width="1.05" />
<line x1="363.96" y1="443.80" x2="363.96" y2="453.86" stroke="#999999" stroke-width="1.05" />
<line x1="365.69" y1="443.80" x2="365.69" y2="453.86" stroke="#999999" stroke-width="1.05" />
<line x1="367.42" y1="443.80" x2="367.42" y2="453.86" stroke="#999999" stroke-width="1.05" />
<rect x="301.58" y="453.86" width="10.63" height="2.38" fill="#d8424f" />
<rect x="312.17" y="453.86" width="5.86" height="2.38" fill="#d6607a" />
<rect x="317.98" y="453.86" width="7.16" height="2.38" fill="#da6a78" />
<rect x="325.09" y="453.86" width="11.73" height="2.38" fill="#e8b8da" />
<rect x="336.77" y="453.86" width="10.64" height="2.38" fill="#ded8f0" />
<rect x="347.36" y="453.86" width="7.50" height="2.38" fill="#cac0e4" />
<rect x="354.80" y="453.86" width="5.38" height="2.38" fill="#7068c2" />
<rect x="360.13" y="453.86" width="9.61" height="2.38" fill="#4a3e9e" />
<rect x="369.69" y="453.86" width="1.15" height="2.38" fill="#302888" />
<text x="302.50" y="458.54" font-size="2.0" fill="#d6403f" font-weight="normal" text-anchor="start" textLength="26.24" lengthAdjust="spacingAndGlyphs" >na_pos (positively correlated)</text>
<text x="336.77" y="476.40" font-size="2.2" fill="#5a50c0" font-weight="normal" text-anchor="start" textLength="22.63" lengthAdjust="spacingAndGlyphs" >na_neg (negatively correlated)</text>
<text x="328.01" y="469.51" font-size="2.3" fill="#444" font-weight="normal" text-anchor="start" textLength="18.98" lengthAdjust="spacingAndGlyphs" >Zero cross at 7919</text>
<polyline points="301.31,430.69 302.00,427.23 303.04,419.44 304.25,418.58 305.46,417.71 306.85,413.38 309.44,412.00 312.90,411.31 317.23,412.52 322.42,414.25 329.34,418.58 338.00,423.77 344.92,427.23 353.57,431.56 362.23,439.34 365.69,439.69 367.42,438.48 368.29,437.27 369.15,438.48 370.88,439.00" fill="none" stroke="#3aa64c" stroke-width="1.05" stroke-linejoin="round"/>
<text x="309.40" y="464.40" font-size="7.3" fill="#d6403f" font-weight="normal" text-anchor="start" textLength="61.80" lengthAdjust="spacingAndGlyphs" >NES= +177 | P=0.011</text>
<rect x="301.5" y="410.5" width="73" height="68" fill="none" stroke="#2a2a2a" stroke-width="1"/>
<line x1="301.50" y1="410.00" x2="301.50" y2="479.00" stroke="#1a1a1a" stroke-width="1.0" />
<line x1="301.00" y1="478.50" x2="375.00" y2="478.50" stroke="#1a1a1a" stroke-width="1.1" />
<line x1="301.50" y1="479.00" x2="301.50" y2="480.20" stroke="#222" stroke-width="0.9" />
<text x="300.85" y="483.00" font-size="3.1" fill="#666" font-weight="normal" text-anchor="start" textLength="1.30" lengthAdjust="spacingAndGlyphs" >0</text>
<line x1="313.67" y1="479.00" x2="313.67" y2="480.20" stroke="#222" stroke-width="0.9" />
<text x="311.37" y="483.00" font-size="3.1" fill="#666" font-weight="normal" text-anchor="start" textLength="4.60" lengthAdjust="spacingAndGlyphs" >2,500</text>
<line x1="325.83" y1="479.00" x2="325.83" y2="480.20" stroke="#222" stroke-width="0.9" />
<text x="323.53" y="483.00" font-size="3.1" fill="#666" font-weight="normal" text-anchor="start" textLength="4.60" lengthAdjust="spacingAndGlyphs" >5,000</text>
<line x1="338.00" y1="479.00" x2="338.00" y2="480.20" stroke="#222" stroke-width="0.9" />
<text x="335.70" y="483.00" font-size="3.1" fill="#666" font-weight="normal" text-anchor="start" textLength="4.60" lengthAdjust="spacingAndGlyphs" >7,500</text>
<line x1="350.17" y1="479.00" x2="350.17" y2="480.20" stroke="#222" stroke-width="0.9" />
<text x="347.37" y="483.00" font-size="3.1" fill="#666" font-weight="normal" text-anchor="start" textLength="5.60" lengthAdjust="spacingAndGlyphs" >10,000</text>
<line x1="362.33" y1="479.00" x2="362.33" y2="480.20" stroke="#222" stroke-width="0.9" />
<text x="359.53" y="483.00" font-size="3.1" fill="#666" font-weight="normal" text-anchor="start" textLength="5.60" lengthAdjust="spacingAndGlyphs" >12,500</text>
<line x1="374.50" y1="479.00" x2="374.50" y2="480.20" stroke="#222" stroke-width="0.9" />
<text x="371.70" y="483.00" font-size="3.1" fill="#666" font-weight="normal" text-anchor="start" textLength="5.60" lengthAdjust="spacingAndGlyphs" >15,000</text>
<text x="329.00" y="487.00" font-size="2.9" fill="#666" font-weight="normal" text-anchor="start" textLength="17.00" lengthAdjust="spacingAndGlyphs" >Rank in ordered dataset</text>
<rect x="290.80" y="419.90" width="1.10" height="14.85" fill="#d0d0d0" />
<rect x="290.80" y="455.74" width="1.10" height="20.67" fill="#d0d0d0" />
<line x1="306.80" y1="492.30" x2="310.30" y2="492.30" stroke="#8fd08f" stroke-width="1.5" />
<text x="313.30" y="493.90" font-size="5.3" fill="#333" font-weight="normal" text-anchor="start" textLength="35.40" lengthAdjust="spacingAndGlyphs" >Enrichment profile</text>
<line x1="354.50" y1="492.30" x2="357.80" y2="492.30" stroke="#555" stroke-width="1.2" />
<text x="360.30" y="493.90" font-size="5.3" fill="#333" font-weight="normal" text-anchor="start" textLength="8.20" lengthAdjust="spacingAndGlyphs" >Hits</text>
<line x1="311.50" y1="498.90" x2="314.30" y2="498.90" stroke="#aaa" stroke-width="0.9" />
<line x1="317.00" y1="500.90" x2="319.40" y2="500.90" stroke="#333" stroke-width="1.0" />
<text x="322.30" y="501.60" font-size="5.3" fill="#333" font-weight="normal" text-anchor="start" textLength="41.80" lengthAdjust="spacingAndGlyphs" >Ranking metric scores</text>
<line x1="69.17" y1="536.00" x2="69.17" y2="567.00" stroke="#f1f1f1" stroke-width="0.6" />
<line x1="81.33" y1="536.00" x2="81.33" y2="567.00" stroke="#f1f1f1" stroke-width="0.6" />
<line x1="93.50" y1="536.00" x2="93.50" y2="567.00" stroke="#f1f1f1" stroke-width="0.6" />
<line x1="105.67" y1="536.00" x2="105.67" y2="567.00" stroke="#f1f1f1" stroke-width="0.6" />
<line x1="117.83" y1="536.00" x2="117.83" y2="567.00" stroke="#f1f1f1" stroke-width="0.6" />
<line x1="58.00" y1="536.50" x2="129.00" y2="536.50" stroke="#f4f4f4" stroke-width="0.6" />
<line x1="55.60" y1="536.50" x2="57.00" y2="536.50" stroke="#333" stroke-width="0.9" />
<rect x="50.00" y="535.80" width="3.80" height="1.40" fill="#b4b4b4" />
<line x1="58.00" y1="541.10" x2="129.00" y2="541.10" stroke="#f4f4f4" stroke-width="0.6" />
<line x1="55.60" y1="541.10" x2="57.00" y2="541.10" stroke="#333" stroke-width="0.9" />
<rect x="50.00" y="540.40" width="3.80" height="1.40" fill="#b4b4b4" />
<line x1="58.00" y1="545.70" x2="129.00" y2="545.70" stroke="#f4f4f4" stroke-width="0.6" />
<line x1="55.60" y1="545.70" x2="57.00" y2="545.70" stroke="#333" stroke-width="0.9" />
<rect x="50.00" y="545.00" width="3.80" height="1.40" fill="#b4b4b4" />
<line x1="58.00" y1="550.30" x2="129.00" y2="550.30" stroke="#f4f4f4" stroke-width="0.6" />
<line x1="55.60" y1="550.30" x2="57.00" y2="550.30" stroke="#333" stroke-width="0.9" />
<rect x="50.00" y="549.60" width="3.80" height="1.40" fill="#b4b4b4" />
<line x1="58.00" y1="554.90" x2="129.00" y2="554.90" stroke="#f4f4f4" stroke-width="0.6" />
<line x1="55.60" y1="554.90" x2="57.00" y2="554.90" stroke="#333" stroke-width="0.9" />
<rect x="50.00" y="554.20" width="3.80" height="1.40" fill="#b4b4b4" />
<line x1="58.00" y1="559.50" x2="129.00" y2="559.50" stroke="#f4f4f4" stroke-width="0.6" />
<line x1="55.60" y1="559.50" x2="57.00" y2="559.50" stroke="#333" stroke-width="0.9" />
<rect x="50.00" y="558.80" width="3.80" height="1.40" fill="#b4b4b4" />
<line x1="58.00" y1="564.10" x2="129.00" y2="564.10" stroke="#f4f4f4" stroke-width="0.6" />
<line x1="55.60" y1="564.10" x2="57.00" y2="564.10" stroke="#333" stroke-width="0.9" />
<rect x="50.00" y="563.40" width="3.80" height="1.40" fill="#b4b4b4" />
<rect x="58.00" y="566.70" width="72.00" height="1.30" fill="#f0f0f0" />
<line x1="58.00" y1="568.30" x2="130.00" y2="568.30" stroke="#dcdcdc" stroke-width="0.5" />
<line x1="58.00" y1="564.00" x2="129.00" y2="564.00" stroke="#d9d9d9" stroke-width="0.8" />
<line x1="55.60" y1="582.04" x2="57.00" y2="582.04" stroke="#333" stroke-width="0.9" />
<rect x="51.40" y="581.34" width="2.60" height="1.40" fill="#b4b4b4" />
<line x1="55.60" y1="584.68" x2="57.00" y2="584.68" stroke="#333" stroke-width="0.9" />
<rect x="51.40" y="583.98" width="2.60" height="1.40" fill="#b4b4b4" />
<line x1="55.60" y1="587.31" x2="57.00" y2="587.31" stroke="#333" stroke-width="0.9" />
<rect x="51.40" y="586.61" width="2.60" height="1.40" fill="#b4b4b4" />
<line x1="55.60" y1="589.95" x2="57.00" y2="589.95" stroke="#333" stroke-width="0.9" />
<rect x="51.40" y="589.25" width="2.60" height="1.40" fill="#b4b4b4" />
<line x1="55.60" y1="592.59" x2="57.00" y2="592.59" stroke="#333" stroke-width="0.9" />
<rect x="51.40" y="591.89" width="2.60" height="1.40" fill="#b4b4b4" />
<line x1="55.60" y1="595.23" x2="57.00" y2="595.23" stroke="#333" stroke-width="0.9" />
<rect x="51.40" y="594.53" width="2.60" height="1.40" fill="#b4b4b4" />
<line x1="55.60" y1="597.86" x2="57.00" y2="597.86" stroke="#333" stroke-width="0.9" />
<rect x="51.40" y="597.16" width="2.60" height="1.40" fill="#b4b4b4" />
<line x1="55.60" y1="600.50" x2="57.00" y2="600.50" stroke="#333" stroke-width="0.9" />
<rect x="51.40" y="599.80" width="2.60" height="1.40" fill="#b4b4b4" />
<line x1="59.00" y1="598.50" x2="127.00" y2="598.50" stroke="#d6d6d6" stroke-width="0.7" />
<line x1="92.77" y1="593.21" x2="92.77" y2="602.50" stroke="#e0e0e0" stroke-width="0.6" stroke-dasharray="0.8,0.8"/>
<line x1="58.65" y1="568.80" x2="58.65" y2="578.86" stroke="#999999" stroke-width="1.05" />
<line x1="59.52" y1="568.80" x2="59.52" y2="578.86" stroke="#999999" stroke-width="1.05" />
<line x1="60.38" y1="568.80" x2="60.38" y2="578.86" stroke="#999999" stroke-width="1.05" />
<line x1="61.25" y1="568.80" x2="61.25" y2="578.86" stroke="#999999" stroke-width="1.05" />
<line x1="62.11" y1="568.80" x2="62.11" y2="578.86" stroke="#999999" stroke-width="1.05" />
<line x1="62.98" y1="568.80" x2="62.98" y2="578.86" stroke="#999999" stroke-width="1.05" />
<line x1="63.85" y1="568.80" x2="63.85" y2="578.86" stroke="#999999" stroke-width="1.05" />
<line x1="64.71" y1="568.80" x2="64.71" y2="578.86" stroke="#999999" stroke-width="1.05" />
<line x1="66.44" y1="568.80" x2="66.44" y2="578.86" stroke="#999999" stroke-width="1.05" />
<line x1="68.17" y1="568.80" x2="68.17" y2="578.86" stroke="#999999" stroke-width="1.05" />
<line x1="69.04" y1="568.80" x2="69.04" y2="578.86" stroke="#999999" stroke-width="1.05" />
<line x1="71.63" y1="568.80" x2="71.63" y2="578.86" stroke="#999999" stroke-width="1.05" />
<line x1="74.23" y1="568.80" x2="74.23" y2="578.86" stroke="#999999" stroke-width="1.05" />
<line x1="76.83" y1="568.80" x2="76.83" y2="578.86" stroke="#999999" stroke-width="1.05" />
<line x1="81.15" y1="568.80" x2="81.15" y2="578.86" stroke="#999999" stroke-width="1.05" />
<line x1="87.21" y1="568.80" x2="87.21" y2="578.86" stroke="#999999" stroke-width="1.05" />
<line x1="90.67" y1="568.80" x2="90.67" y2="578.86" stroke="#999999" stroke-width="1.05" />
<line x1="94.13" y1="568.80" x2="94.13" y2="578.86" stroke="#999999" stroke-width="1.05" />
<line x1="95.86" y1="568.80" x2="95.86" y2="578.86" stroke="#999999" stroke-width="1.05" />
<line x1="96.73" y1="568.80" x2="96.73" y2="578.86" stroke="#999999" stroke-width="1.05" />
<line x1="98.46" y1="568.80" x2="98.46" y2="578.86" stroke="#999999" stroke-width="1.05" />
<line x1="99.33" y1="568.80" x2="99.33" y2="578.86" stroke="#999999" stroke-width="1.05" />
<line x1="101.92" y1="568.80" x2="101.92" y2="578.86" stroke="#999999" stroke-width="1.05" />
<line x1="105.38" y1="568.80" x2="105.38" y2="578.86" stroke="#999999" stroke-width="1.05" />
<line x1="117.50" y1="568.80" x2="117.50" y2="578.86" stroke="#999999" stroke-width="1.05" />
<line x1="119.23" y1="568.80" x2="119.23" y2="578.86" stroke="#999999" stroke-width="1.05" />
<line x1="124.42" y1="568.80" x2="124.42" y2="578.86" stroke="#999999" stroke-width="1.05" />
<rect x="57.58" y="578.86" width="10.63" height="2.38" fill="#d8424f" />
<rect x="68.17" y="578.86" width="5.86" height="2.38" fill="#d6607a" />
<rect x="73.98" y="578.86" width="7.16" height="2.38" fill="#da6a78" />
<rect x="81.09" y="578.86" width="11.73" height="2.38" fill="#e8b8da" />
<rect x="92.77" y="578.86" width="10.64" height="2.38" fill="#ded8f0" />
<rect x="103.36" y="578.86" width="7.50" height="2.38" fill="#cac0e4" />
<rect x="110.80" y="578.86" width="5.38" height="2.38" fill="#7068c2" />
<rect x="116.13" y="578.86" width="9.61" height="2.38" fill="#4a3e9e" />
<rect x="125.69" y="578.86" width="1.15" height="2.38" fill="#302888" />
<text x="58.50" y="583.54" font-size="2.0" fill="#d6403f" font-weight="normal" text-anchor="start" textLength="26.24" lengthAdjust="spacingAndGlyphs" >na_pos (positively correlated)</text>
<text x="92.77" y="601.40" font-size="2.2" fill="#5a50c0" font-weight="normal" text-anchor="start" textLength="22.63" lengthAdjust="spacingAndGlyphs" >na_neg (negatively correlated)</text>
<text x="84.01" y="594.51" font-size="2.3" fill="#444" font-weight="normal" text-anchor="start" textLength="18.98" lengthAdjust="spacingAndGlyphs" >Zero cross at 7919</text>
<polyline points="57.27,559.15 57.79,553.96 59.52,547.04 60.38,543.58 62.11,539.25 64.71,536.65 67.31,535.79 70.77,537.00 75.96,539.25 84.61,544.44 93.27,548.77 101.92,553.10 110.57,557.42 117.50,562.61 122.69,564.69 124.42,562.27 127.02,563.48" fill="none" stroke="#3aa64c" stroke-width="1.05" stroke-linejoin="round"/>
<text x="63.80" y="590.60" font-size="7.3" fill="#d6403f" font-weight="normal" text-anchor="start" textLength="63.20" lengthAdjust="spacingAndGlyphs" >NES= +1.82 | P=0.014</text>
<rect x="57.5" y="535.5" width="73" height="68" fill="none" stroke="#2a2a2a" stroke-width="1"/>
<line x1="57.50" y1="535.00" x2="57.50" y2="604.00" stroke="#1a1a1a" stroke-width="1.0" />
<line x1="57.00" y1="603.50" x2="131.00" y2="603.50" stroke="#1a1a1a" stroke-width="1.1" />
<line x1="57.50" y1="604.00" x2="57.50" y2="605.20" stroke="#222" stroke-width="0.9" />
<text x="56.85" y="608.00" font-size="3.1" fill="#666" font-weight="normal" text-anchor="start" textLength="1.30" lengthAdjust="spacingAndGlyphs" >0</text>
<line x1="69.67" y1="604.00" x2="69.67" y2="605.20" stroke="#222" stroke-width="0.9" />
<text x="67.37" y="608.00" font-size="3.1" fill="#666" font-weight="normal" text-anchor="start" textLength="4.60" lengthAdjust="spacingAndGlyphs" >2,500</text>
<line x1="81.83" y1="604.00" x2="81.83" y2="605.20" stroke="#222" stroke-width="0.9" />
<text x="79.53" y="608.00" font-size="3.1" fill="#666" font-weight="normal" text-anchor="start" textLength="4.60" lengthAdjust="spacingAndGlyphs" >5,000</text>
<line x1="94.00" y1="604.00" x2="94.00" y2="605.20" stroke="#222" stroke-width="0.9" />
<text x="91.70" y="608.00" font-size="3.1" fill="#666" font-weight="normal" text-anchor="start" textLength="4.60" lengthAdjust="spacingAndGlyphs" >7,500</text>
<line x1="106.17" y1="604.00" x2="106.17" y2="605.20" stroke="#222" stroke-width="0.9" />
<text x="103.37" y="608.00" font-size="3.1" fill="#666" font-weight="normal" text-anchor="start" textLength="5.60" lengthAdjust="spacingAndGlyphs" >10,000</text>
<line x1="118.33" y1="604.00" x2="118.33" y2="605.20" stroke="#222" stroke-width="0.9" />
<text x="115.53" y="608.00" font-size="3.1" fill="#666" font-weight="normal" text-anchor="start" textLength="5.60" lengthAdjust="spacingAndGlyphs" >12,500</text>
<line x1="130.50" y1="604.00" x2="130.50" y2="605.20" stroke="#222" stroke-width="0.9" />
<text x="127.70" y="608.00" font-size="3.1" fill="#666" font-weight="normal" text-anchor="start" textLength="5.60" lengthAdjust="spacingAndGlyphs" >15,000</text>
<text x="85.00" y="612.00" font-size="2.9" fill="#666" font-weight="normal" text-anchor="start" textLength="17.00" lengthAdjust="spacingAndGlyphs" >Rank in ordered dataset</text>
<rect x="46.80" y="544.90" width="1.10" height="14.85" fill="#d0d0d0" />
<rect x="46.80" y="580.74" width="1.10" height="20.67" fill="#d0d0d0" />
<line x1="62.80" y1="617.30" x2="66.30" y2="617.30" stroke="#8fd08f" stroke-width="1.5" />
<text x="69.30" y="618.90" font-size="5.3" fill="#333" font-weight="normal" text-anchor="start" textLength="35.40" lengthAdjust="spacingAndGlyphs" >Enrichment profile</text>
<line x1="110.50" y1="617.30" x2="113.80" y2="617.30" stroke="#555" stroke-width="1.2" />
<text x="116.30" y="618.90" font-size="5.3" fill="#333" font-weight="normal" text-anchor="start" textLength="8.20" lengthAdjust="spacingAndGlyphs" >Hits</text>
<line x1="67.50" y1="623.90" x2="70.30" y2="623.90" stroke="#aaa" stroke-width="0.9" />
<line x1="73.00" y1="625.90" x2="75.40" y2="625.90" stroke="#333" stroke-width="1.0" />
<text x="78.30" y="626.60" font-size="5.3" fill="#333" font-weight="normal" text-anchor="start" textLength="41.80" lengthAdjust="spacingAndGlyphs" >Ranking metric scores</text>
<line x1="196.17" y1="536.00" x2="196.17" y2="567.00" stroke="#f1f1f1" stroke-width="0.6" />
<line x1="208.33" y1="536.00" x2="208.33" y2="567.00" stroke="#f1f1f1" stroke-width="0.6" />
<line x1="220.50" y1="536.00" x2="220.50" y2="567.00" stroke="#f1f1f1" stroke-width="0.6" />
<line x1="232.67" y1="536.00" x2="232.67" y2="567.00" stroke="#f1f1f1" stroke-width="0.6" />
<line x1="244.83" y1="536.00" x2="244.83" y2="567.00" stroke="#f1f1f1" stroke-width="0.6" />
<line x1="185.00" y1="535.80" x2="256.00" y2="535.80" stroke="#f4f4f4" stroke-width="0.6" />
<line x1="182.60" y1="535.80" x2="184.00" y2="535.80" stroke="#333" stroke-width="0.9" />
<rect x="177.00" y="535.10" width="3.80" height="1.40" fill="#b4b4b4" />
<line x1="185.00" y1="540.10" x2="256.00" y2="540.10" stroke="#f4f4f4" stroke-width="0.6" />
<line x1="182.60" y1="540.10" x2="184.00" y2="540.10" stroke="#333" stroke-width="0.9" />
<rect x="177.00" y="539.40" width="3.80" height="1.40" fill="#b4b4b4" />
<line x1="185.00" y1="544.40" x2="256.00" y2="544.40" stroke="#f4f4f4" stroke-width="0.6" />
<line x1="182.60" y1="544.40" x2="184.00" y2="544.40" stroke="#333" stroke-width="0.9" />
<rect x="177.00" y="543.70" width="3.80" height="1.40" fill="#b4b4b4" />
<line x1="185.00" y1="548.70" x2="256.00" y2="548.70" stroke="#f4f4f4" stroke-width="0.6" />
<line x1="182.60" y1="548.70" x2="184.00" y2="548.70" stroke="#333" stroke-width="0.9" />
<rect x="177.00" y="548.00" width="3.80" height="1.40" fill="#b4b4b4" />
<line x1="185.00" y1="553.00" x2="256.00" y2="553.00" stroke="#f4f4f4" stroke-width="0.6" />
<line x1="182.60" y1="553.00" x2="184.00" y2="553.00" stroke="#333" stroke-width="0.9" />
<rect x="177.00" y="552.30" width="3.80" height="1.40" fill="#b4b4b4" />
<line x1="185.00" y1="557.30" x2="256.00" y2="557.30" stroke="#f4f4f4" stroke-width="0.6" />
<line x1="182.60" y1="557.30" x2="184.00" y2="557.30" stroke="#333" stroke-width="0.9" />
<rect x="177.00" y="556.60" width="3.80" height="1.40" fill="#b4b4b4" />
<line x1="185.00" y1="561.60" x2="256.00" y2="561.60" stroke="#f4f4f4" stroke-width="0.6" />
<line x1="182.60" y1="561.60" x2="184.00" y2="561.60" stroke="#333" stroke-width="0.9" />
<rect x="177.00" y="560.90" width="3.80" height="1.40" fill="#b4b4b4" />
<rect x="185.00" y="566.70" width="72.00" height="1.30" fill="#f0f0f0" />
<line x1="185.00" y1="568.30" x2="257.00" y2="568.30" stroke="#dcdcdc" stroke-width="0.5" />
<line x1="185.00" y1="565.73" x2="256.00" y2="565.73" stroke="#d9d9d9" stroke-width="0.8" />
<line x1="182.60" y1="582.04" x2="184.00" y2="582.04" stroke="#333" stroke-width="0.9" />
<rect x="178.40" y="581.34" width="2.60" height="1.40" fill="#b4b4b4" />
<line x1="182.60" y1="584.68" x2="184.00" y2="584.68" stroke="#333" stroke-width="0.9" />
<rect x="178.40" y="583.98" width="2.60" height="1.40" fill="#b4b4b4" />
<line x1="182.60" y1="587.31" x2="184.00" y2="587.31" stroke="#333" stroke-width="0.9" />
<rect x="178.40" y="586.61" width="2.60" height="1.40" fill="#b4b4b4" />
<line x1="182.60" y1="589.95" x2="184.00" y2="589.95" stroke="#333" stroke-width="0.9" />
<rect x="178.40" y="589.25" width="2.60" height="1.40" fill="#b4b4b4" />
<line x1="182.60" y1="592.59" x2="184.00" y2="592.59" stroke="#333" stroke-width="0.9" />
<rect x="178.40" y="591.89" width="2.60" height="1.40" fill="#b4b4b4" />
<line x1="182.60" y1="595.23" x2="184.00" y2="595.23" stroke="#333" stroke-width="0.9" />
<rect x="178.40" y="594.53" width="2.60" height="1.40" fill="#b4b4b4" />
<line x1="182.60" y1="597.86" x2="184.00" y2="597.86" stroke="#333" stroke-width="0.9" />
<rect x="178.40" y="597.16" width="2.60" height="1.40" fill="#b4b4b4" />
<line x1="182.60" y1="600.50" x2="184.00" y2="600.50" stroke="#333" stroke-width="0.9" />
<rect x="178.40" y="599.80" width="2.60" height="1.40" fill="#b4b4b4" />
<line x1="186.00" y1="598.50" x2="254.00" y2="598.50" stroke="#d6d6d6" stroke-width="0.7" />
<line x1="219.77" y1="593.21" x2="219.77" y2="602.50" stroke="#e0e0e0" stroke-width="0.6" stroke-dasharray="0.8,0.8"/>
<line x1="186.73" y1="568.80" x2="186.73" y2="578.86" stroke="#999999" stroke-width="1.05" />
<line x1="188.11" y1="568.80" x2="188.11" y2="578.86" stroke="#999999" stroke-width="1.05" />
<line x1="189.85" y1="568.80" x2="189.85" y2="578.86" stroke="#999999" stroke-width="1.05" />
<line x1="191.58" y1="568.80" x2="191.58" y2="578.86" stroke="#999999" stroke-width="1.05" />
<line x1="195.04" y1="568.80" x2="195.04" y2="578.86" stroke="#999999" stroke-width="1.05" />
<line x1="196.77" y1="568.80" x2="196.77" y2="578.86" stroke="#999999" stroke-width="1.05" />
<line x1="198.50" y1="568.80" x2="198.50" y2="578.86" stroke="#999999" stroke-width="1.05" />
<line x1="202.83" y1="568.80" x2="202.83" y2="578.86" stroke="#999999" stroke-width="1.05" />
<line x1="209.75" y1="568.80" x2="209.75" y2="578.86" stroke="#999999" stroke-width="1.05" />
<line x1="210.61" y1="568.80" x2="210.61" y2="578.86" stroke="#999999" stroke-width="1.05" />
<line x1="222.73" y1="568.80" x2="222.73" y2="578.86" stroke="#999999" stroke-width="1.05" />
<line x1="224.46" y1="568.80" x2="224.46" y2="578.86" stroke="#999999" stroke-width="1.05" />
<line x1="227.92" y1="568.80" x2="227.92" y2="578.86" stroke="#999999" stroke-width="1.05" />
<line x1="229.65" y1="568.80" x2="229.65" y2="578.86" stroke="#999999" stroke-width="1.05" />
<line x1="233.11" y1="568.80" x2="233.11" y2="578.86" stroke="#999999" stroke-width="1.05" />
<line x1="235.71" y1="568.80" x2="235.71" y2="578.86" stroke="#999999" stroke-width="1.05" />
<line x1="243.50" y1="568.80" x2="243.50" y2="578.86" stroke="#999999" stroke-width="1.05" />
<rect x="184.58" y="578.86" width="10.63" height="2.38" fill="#d8424f" />
<rect x="195.17" y="578.86" width="5.86" height="2.38" fill="#d6607a" />
<rect x="200.98" y="578.86" width="7.16" height="2.38" fill="#da6a78" />
<rect x="208.09" y="578.86" width="11.73" height="2.38" fill="#e8b8da" />
<rect x="219.77" y="578.86" width="10.64" height="2.38" fill="#ded8f0" />
<rect x="230.36" y="578.86" width="7.50" height="2.38" fill="#cac0e4" />
<rect x="237.80" y="578.86" width="5.38" height="2.38" fill="#7068c2" />
<rect x="243.13" y="578.86" width="9.61" height="2.38" fill="#4a3e9e" />
<rect x="252.69" y="578.86" width="1.15" height="2.38" fill="#302888" />
<text x="185.50" y="583.54" font-size="2.0" fill="#d6403f" font-weight="normal" text-anchor="start" textLength="26.24" lengthAdjust="spacingAndGlyphs" >na_pos (positively correlated)</text>
<text x="219.77" y="601.40" font-size="2.2" fill="#5a50c0" font-weight="normal" text-anchor="start" textLength="22.63" lengthAdjust="spacingAndGlyphs" >na_neg (negatively correlated)</text>
<text x="211.01" y="594.51" font-size="2.3" fill="#444" font-weight="normal" text-anchor="start" textLength="18.98" lengthAdjust="spacingAndGlyphs" >Zero cross at 7919</text>
<polyline points="184.65,557.42 185.52,548.77 186.73,544.44 188.11,541.85 188.98,538.04 190.71,536.31 193.31,537.52 195.90,538.38 198.50,538.04 201.96,539.25 203.69,538.38 210.61,542.19 212.34,542.71 219.27,547.04 227.92,552.23 236.57,556.04 241.77,559.15 243.50,558.81 253.88,565.73" fill="none" stroke="#3aa64c" stroke-width="1.05" stroke-linejoin="round"/>
<text x="190.70" y="590.60" font-size="7.3" fill="#d6403f" font-weight="normal" text-anchor="start" textLength="64.00" lengthAdjust="spacingAndGlyphs" >NES= +1.81 | P=0.015</text>
<rect x="184.5" y="535.5" width="73" height="68" fill="none" stroke="#2a2a2a" stroke-width="1"/>
<line x1="184.50" y1="535.00" x2="184.50" y2="604.00" stroke="#1a1a1a" stroke-width="1.0" />
<line x1="184.00" y1="603.50" x2="258.00" y2="603.50" stroke="#1a1a1a" stroke-width="1.1" />
<line x1="184.50" y1="604.00" x2="184.50" y2="605.20" stroke="#222" stroke-width="0.9" />
<text x="183.85" y="608.00" font-size="3.1" fill="#666" font-weight="normal" text-anchor="start" textLength="1.30" lengthAdjust="spacingAndGlyphs" >0</text>
<line x1="196.67" y1="604.00" x2="196.67" y2="605.20" stroke="#222" stroke-width="0.9" />
<text x="194.37" y="608.00" font-size="3.1" fill="#666" font-weight="normal" text-anchor="start" textLength="4.60" lengthAdjust="spacingAndGlyphs" >2,500</text>
<line x1="208.83" y1="604.00" x2="208.83" y2="605.20" stroke="#222" stroke-width="0.9" />
<text x="206.53" y="608.00" font-size="3.1" fill="#666" font-weight="normal" text-anchor="start" textLength="4.60" lengthAdjust="spacingAndGlyphs" >5,000</text>
<line x1="221.00" y1="604.00" x2="221.00" y2="605.20" stroke="#222" stroke-width="0.9" />
<text x="218.70" y="608.00" font-size="3.1" fill="#666" font-weight="normal" text-anchor="start" textLength="4.60" lengthAdjust="spacingAndGlyphs" >7,500</text>
<line x1="233.17" y1="604.00" x2="233.17" y2="605.20" stroke="#222" stroke-width="0.9" />
<text x="230.37" y="608.00" font-size="3.1" fill="#666" font-weight="normal" text-anchor="start" textLength="5.60" lengthAdjust="spacingAndGlyphs" >10,000</text>
<line x1="245.33" y1="604.00" x2="245.33" y2="605.20" stroke="#222" stroke-width="0.9" />
<text x="242.53" y="608.00" font-size="3.1" fill="#666" font-weight="normal" text-anchor="start" textLength="5.60" lengthAdjust="spacingAndGlyphs" >12,500</text>
<line x1="257.50" y1="604.00" x2="257.50" y2="605.20" stroke="#222" stroke-width="0.9" />
<text x="254.70" y="608.00" font-size="3.1" fill="#666" font-weight="normal" text-anchor="start" textLength="5.60" lengthAdjust="spacingAndGlyphs" >15,000</text>
<text x="212.00" y="612.00" font-size="2.9" fill="#666" font-weight="normal" text-anchor="start" textLength="17.00" lengthAdjust="spacingAndGlyphs" >Rank in ordered dataset</text>
<rect x="173.80" y="544.90" width="1.10" height="14.85" fill="#d0d0d0" />
<rect x="173.80" y="580.74" width="1.10" height="20.67" fill="#d0d0d0" />
<line x1="189.80" y1="617.30" x2="193.30" y2="617.30" stroke="#8fd08f" stroke-width="1.5" />
<text x="196.30" y="618.90" font-size="5.3" fill="#333" font-weight="normal" text-anchor="start" textLength="35.40" lengthAdjust="spacingAndGlyphs" >Enrichment profile</text>
<line x1="237.50" y1="617.30" x2="240.80" y2="617.30" stroke="#555" stroke-width="1.2" />
<text x="243.30" y="618.90" font-size="5.3" fill="#333" font-weight="normal" text-anchor="start" textLength="8.20" lengthAdjust="spacingAndGlyphs" >Hits</text>
<line x1="194.50" y1="623.90" x2="197.30" y2="623.90" stroke="#aaa" stroke-width="0.9" />
<line x1="200.00" y1="625.90" x2="202.40" y2="625.90" stroke="#333" stroke-width="1.0" />
<text x="205.30" y="626.60" font-size="5.3" fill="#333" font-weight="normal" text-anchor="start" textLength="41.80" lengthAdjust="spacingAndGlyphs" >Ranking metric scores</text>
<line x1="313.17" y1="536.00" x2="313.17" y2="567.00" stroke="#f1f1f1" stroke-width="0.6" />
<line x1="325.33" y1="536.00" x2="325.33" y2="567.00" stroke="#f1f1f1" stroke-width="0.6" />
<line x1="337.50" y1="536.00" x2="337.50" y2="567.00" stroke="#f1f1f1" stroke-width="0.6" />
<line x1="349.67" y1="536.00" x2="349.67" y2="567.00" stroke="#f1f1f1" stroke-width="0.6" />
<line x1="361.83" y1="536.00" x2="361.83" y2="567.00" stroke="#f1f1f1" stroke-width="0.6" />
<line x1="302.00" y1="535.80" x2="373.00" y2="535.80" stroke="#f4f4f4" stroke-width="0.6" />
<line x1="299.60" y1="535.80" x2="301.00" y2="535.80" stroke="#333" stroke-width="0.9" />
<rect x="294.00" y="535.10" width="3.80" height="1.40" fill="#b4b4b4" />
<line x1="302.00" y1="540.10" x2="373.00" y2="540.10" stroke="#f4f4f4" stroke-width="0.6" />
<line x1="299.60" y1="540.10" x2="301.00" y2="540.10" stroke="#333" stroke-width="0.9" />
<rect x="294.00" y="539.40" width="3.80" height="1.40" fill="#b4b4b4" />
<line x1="302.00" y1="544.40" x2="373.00" y2="544.40" stroke="#f4f4f4" stroke-width="0.6" />
<line x1="299.60" y1="544.40" x2="301.00" y2="544.40" stroke="#333" stroke-width="0.9" />
<rect x="294.00" y="543.70" width="3.80" height="1.40" fill="#b4b4b4" />
<line x1="302.00" y1="548.70" x2="373.00" y2="548.70" stroke="#f4f4f4" stroke-width="0.6" />
<line x1="299.60" y1="548.70" x2="301.00" y2="548.70" stroke="#333" stroke-width="0.9" />
<rect x="294.00" y="548.00" width="3.80" height="1.40" fill="#b4b4b4" />
<line x1="302.00" y1="553.00" x2="373.00" y2="553.00" stroke="#f4f4f4" stroke-width="0.6" />
<line x1="299.60" y1="553.00" x2="301.00" y2="553.00" stroke="#333" stroke-width="0.9" />
<rect x="294.00" y="552.30" width="3.80" height="1.40" fill="#b4b4b4" />
<line x1="302.00" y1="557.30" x2="373.00" y2="557.30" stroke="#f4f4f4" stroke-width="0.6" />
<line x1="299.60" y1="557.30" x2="301.00" y2="557.30" stroke="#333" stroke-width="0.9" />
<rect x="294.00" y="556.60" width="3.80" height="1.40" fill="#b4b4b4" />
<line x1="302.00" y1="561.60" x2="373.00" y2="561.60" stroke="#f4f4f4" stroke-width="0.6" />
<line x1="299.60" y1="561.60" x2="301.00" y2="561.60" stroke="#333" stroke-width="0.9" />
<rect x="294.00" y="560.90" width="3.80" height="1.40" fill="#b4b4b4" />
<rect x="302.00" y="566.70" width="72.00" height="1.30" fill="#f0f0f0" />
<line x1="302.00" y1="568.30" x2="374.00" y2="568.30" stroke="#dcdcdc" stroke-width="0.5" />
<line x1="302.00" y1="564.69" x2="373.00" y2="564.69" stroke="#d9d9d9" stroke-width="0.8" />
<line x1="299.60" y1="582.04" x2="301.00" y2="582.04" stroke="#333" stroke-width="0.9" />
<rect x="295.40" y="581.34" width="2.60" height="1.40" fill="#b4b4b4" />
<line x1="299.60" y1="584.68" x2="301.00" y2="584.68" stroke="#333" stroke-width="0.9" />
<rect x="295.40" y="583.98" width="2.60" height="1.40" fill="#b4b4b4" />
<line x1="299.60" y1="587.31" x2="301.00" y2="587.31" stroke="#333" stroke-width="0.9" />
<rect x="295.40" y="586.61" width="2.60" height="1.40" fill="#b4b4b4" />
<line x1="299.60" y1="589.95" x2="301.00" y2="589.95" stroke="#333" stroke-width="0.9" />
<rect x="295.40" y="589.25" width="2.60" height="1.40" fill="#b4b4b4" />
<line x1="299.60" y1="592.59" x2="301.00" y2="592.59" stroke="#333" stroke-width="0.9" />
<rect x="295.40" y="591.89" width="2.60" height="1.40" fill="#b4b4b4" />
<line x1="299.60" y1="595.23" x2="301.00" y2="595.23" stroke="#333" stroke-width="0.9" />
<rect x="295.40" y="594.53" width="2.60" height="1.40" fill="#b4b4b4" />
<line x1="299.60" y1="597.86" x2="301.00" y2="597.86" stroke="#333" stroke-width="0.9" />
<rect x="295.40" y="597.16" width="2.60" height="1.40" fill="#b4b4b4" />
<line x1="299.60" y1="600.50" x2="301.00" y2="600.50" stroke="#333" stroke-width="0.9" />
<rect x="295.40" y="599.80" width="2.60" height="1.40" fill="#b4b4b4" />
<line x1="303.00" y1="598.50" x2="371.00" y2="598.50" stroke="#d6d6d6" stroke-width="0.7" />
<line x1="336.77" y1="593.21" x2="336.77" y2="602.50" stroke="#e0e0e0" stroke-width="0.6" stroke-dasharray="0.8,0.8"/>
<line x1="303.73" y1="568.80" x2="303.73" y2="578.86" stroke="#999999" stroke-width="1.05" />
<line x1="305.11" y1="568.80" x2="305.11" y2="578.86" stroke="#999999" stroke-width="1.05" />
<line x1="308.58" y1="568.80" x2="308.58" y2="578.86" stroke="#999999" stroke-width="1.05" />
<line x1="318.10" y1="568.80" x2="318.10" y2="578.86" stroke="#999999" stroke-width="1.05" />
<line x1="324.15" y1="568.80" x2="324.15" y2="578.86" stroke="#999999" stroke-width="1.05" />
<line x1="325.02" y1="568.80" x2="325.02" y2="578.86" stroke="#999999" stroke-width="1.05" />
<line x1="339.73" y1="568.80" x2="339.73" y2="578.86" stroke="#999999" stroke-width="1.05" />
<line x1="340.59" y1="568.80" x2="340.59" y2="578.86" stroke="#999999" stroke-width="1.05" />
<line x1="347.52" y1="568.80" x2="347.52" y2="578.86" stroke="#999999" stroke-width="1.05" />
<line x1="348.38" y1="568.80" x2="348.38" y2="578.86" stroke="#999999" stroke-width="1.05" />
<line x1="350.11" y1="568.80" x2="350.11" y2="578.86" stroke="#999999" stroke-width="1.05" />
<line x1="351.84" y1="568.80" x2="351.84" y2="578.86" stroke="#999999" stroke-width="1.05" />
<line x1="362.23" y1="568.80" x2="362.23" y2="578.86" stroke="#999999" stroke-width="1.05" />
<rect x="301.58" y="578.86" width="10.63" height="2.38" fill="#d8424f" />
<rect x="312.17" y="578.86" width="5.86" height="2.38" fill="#d6607a" />
<rect x="317.98" y="578.86" width="7.16" height="2.38" fill="#da6a78" />
<rect x="325.09" y="578.86" width="11.73" height="2.38" fill="#e8b8da" />
<rect x="336.77" y="578.86" width="10.64" height="2.38" fill="#ded8f0" />
<rect x="347.36" y="578.86" width="7.50" height="2.38" fill="#cac0e4" />
<rect x="354.80" y="578.86" width="5.38" height="2.38" fill="#7068c2" />
<rect x="360.13" y="578.86" width="9.61" height="2.38" fill="#4a3e9e" />
<rect x="369.69" y="578.86" width="1.15" height="2.38" fill="#302888" />
<text x="302.50" y="583.54" font-size="2.0" fill="#d6403f" font-weight="normal" text-anchor="start" textLength="26.24" lengthAdjust="spacingAndGlyphs" >na_pos (positively correlated)</text>
<text x="336.77" y="601.40" font-size="2.2" fill="#5a50c0" font-weight="normal" text-anchor="start" textLength="22.63" lengthAdjust="spacingAndGlyphs" >na_neg (negatively correlated)</text>
<text x="328.01" y="594.51" font-size="2.3" fill="#444" font-weight="normal" text-anchor="start" textLength="18.98" lengthAdjust="spacingAndGlyphs" >Zero cross at 7919</text>
<polyline points="301.65,564.34 302.52,565.21 303.73,548.77 304.77,545.31 305.46,540.98 307.71,541.85 309.44,536.31 318.10,541.50 318.96,540.98 324.15,544.44 325.02,543.58 336.27,549.63 346.65,555.69 350.11,557.08 353.57,557.77 362.23,562.27 363.09,560.02 370.88,564.69" fill="none" stroke="#3aa64c" stroke-width="1.05" stroke-linejoin="round"/>
<text x="307.70" y="590.60" font-size="7.3" fill="#d6403f" font-weight="normal" text-anchor="start" textLength="64.05" lengthAdjust="spacingAndGlyphs" >NES= +1.65 | P=0.016</text>
<rect x="301.5" y="535.5" width="73" height="68" fill="none" stroke="#2a2a2a" stroke-width="1"/>
<line x1="301.50" y1="535.00" x2="301.50" y2="604.00" stroke="#1a1a1a" stroke-width="1.0" />
<line x1="301.00" y1="603.50" x2="375.00" y2="603.50" stroke="#1a1a1a" stroke-width="1.1" />
<line x1="301.50" y1="604.00" x2="301.50" y2="605.20" stroke="#222" stroke-width="0.9" />
<text x="300.85" y="608.00" font-size="3.1" fill="#666" font-weight="normal" text-anchor="start" textLength="1.30" lengthAdjust="spacingAndGlyphs" >0</text>
<line x1="313.67" y1="604.00" x2="313.67" y2="605.20" stroke="#222" stroke-width="0.9" />
<text x="311.37" y="608.00" font-size="3.1" fill="#666" font-weight="normal" text-anchor="start" textLength="4.60" lengthAdjust="spacingAndGlyphs" >2,500</text>
<line x1="325.83" y1="604.00" x2="325.83" y2="605.20" stroke="#222" stroke-width="0.9" />
<text x="323.53" y="608.00" font-size="3.1" fill="#666" font-weight="normal" text-anchor="start" textLength="4.60" lengthAdjust="spacingAndGlyphs" >5,000</text>
<line x1="338.00" y1="604.00" x2="338.00" y2="605.20" stroke="#222" stroke-width="0.9" />
<text x="335.70" y="608.00" font-size="3.1" fill="#666" font-weight="normal" text-anchor="start" textLength="4.60" lengthAdjust="spacingAndGlyphs" >7,500</text>
<line x1="350.17" y1="604.00" x2="350.17" y2="605.20" stroke="#222" stroke-width="0.9" />
<text x="347.37" y="608.00" font-size="3.1" fill="#666" font-weight="normal" text-anchor="start" textLength="5.60" lengthAdjust="spacingAndGlyphs" >10,000</text>
<line x1="362.33" y1="604.00" x2="362.33" y2="605.20" stroke="#222" stroke-width="0.9" />
<text x="359.53" y="608.00" font-size="3.1" fill="#666" font-weight="normal" text-anchor="start" textLength="5.60" lengthAdjust="spacingAndGlyphs" >12,500</text>
<line x1="374.50" y1="604.00" x2="374.50" y2="605.20" stroke="#222" stroke-width="0.9" />
<text x="371.70" y="608.00" font-size="3.1" fill="#666" font-weight="normal" text-anchor="start" textLength="5.60" lengthAdjust="spacingAndGlyphs" >15,000</text>
<text x="329.00" y="612.00" font-size="2.9" fill="#666" font-weight="normal" text-anchor="start" textLength="17.00" lengthAdjust="spacingAndGlyphs" >Rank in ordered dataset</text>
<rect x="290.80" y="544.90" width="1.10" height="14.85" fill="#d0d0d0" />
<rect x="290.80" y="580.74" width="1.10" height="20.67" fill="#d0d0d0" />
<line x1="306.80" y1="617.30" x2="310.30" y2="617.30" stroke="#8fd08f" stroke-width="1.5" />
<text x="313.30" y="618.90" font-size="5.3" fill="#333" font-weight="normal" text-anchor="start" textLength="35.40" lengthAdjust="spacingAndGlyphs" >Enrichment profile</text>
<line x1="354.50" y1="617.30" x2="357.80" y2="617.30" stroke="#555" stroke-width="1.2" />
<text x="360.30" y="618.90" font-size="5.3" fill="#333" font-weight="normal" text-anchor="start" textLength="8.20" lengthAdjust="spacingAndGlyphs" >Hits</text>
<line x1="311.50" y1="623.90" x2="314.30" y2="623.90" stroke="#aaa" stroke-width="0.9" />
<line x1="317.00" y1="625.90" x2="319.40" y2="625.90" stroke="#333" stroke-width="1.0" />
<text x="322.30" y="626.60" font-size="5.3" fill="#333" font-weight="normal" text-anchor="start" textLength="41.80" lengthAdjust="spacingAndGlyphs" >Ranking metric scores</text>
<text x="320.80" y="21.60" font-size="6.4" fill="#1a1a1a" font-weight="normal" text-anchor="start" textLength="48.40" lengthAdjust="spacingAndGlyphs" stroke="#1a1a1a" stroke-width="0.1">Enrichment plot:</text>
<text x="316.50" y="29.00" font-size="6.4" fill="#1a1a1a" font-weight="normal" text-anchor="start" textLength="55.80" lengthAdjust="spacingAndGlyphs" stroke="#1a1a1a" stroke-width="0.1">KEGG_APOPTOSIS</text>
<text x="441.90" y="21.60" font-size="6.4" fill="#1a1a1a" font-weight="normal" text-anchor="start" textLength="46.90" lengthAdjust="spacingAndGlyphs" stroke="#1a1a1a" stroke-width="0.1">Enrichment plot:</text>
<text x="437.30" y="29.00" font-size="6.4" fill="#1a1a1a" font-weight="normal" text-anchor="start" textLength="56.20" lengthAdjust="spacingAndGlyphs" stroke="#1a1a1a" stroke-width="0.1">KEGG_APOPTOSIS</text>
<text x="324.20" y="11.70" font-size="7.1" fill="#d6403f" font-weight="normal" text-anchor="start" textLength="40.40" lengthAdjust="spacingAndGlyphs" >cKO P2 vs WT</text>
<line x1="324.20" y1="12.25" x2="364.60" y2="12.25" stroke="#d6403f" stroke-width="0.55" />
<text x="441.20" y="11.70" font-size="7.1" fill="#3b86c9" font-weight="normal" text-anchor="start" textLength="48.40" lengthAdjust="spacingAndGlyphs" >cKO P2H2 vs WT</text>
<line x1="441.20" y1="12.25" x2="489.60" y2="12.25" stroke="#3b86c9" stroke-width="0.55" />
<text x="64.90" y="145.70" font-size="7.1" fill="#d6403f" font-weight="normal" text-anchor="start" textLength="40.90" lengthAdjust="spacingAndGlyphs" >cKO P2 vs WT</text>
<line x1="64.90" y1="146.25" x2="105.80" y2="146.25" stroke="#d6403f" stroke-width="0.55" />
<text x="182.60" y="145.70" font-size="7.1" fill="#3b86c9" font-weight="normal" text-anchor="start" textLength="48.70" lengthAdjust="spacingAndGlyphs" >cKO P2H2 vs WT</text>
<line x1="182.60" y1="146.25" x2="231.30" y2="146.25" stroke="#3b86c9" stroke-width="0.55" />
<text x="62.10" y="156.00" font-size="6.4" fill="#1a1a1a" font-weight="normal" text-anchor="start" textLength="46.50" lengthAdjust="spacingAndGlyphs" stroke="#1a1a1a" stroke-width="0.1">Enrichment plot:</text>
<text x="34.80" y="163.50" font-size="6.4" fill="#1a1a1a" font-weight="normal" text-anchor="start" textLength="100.95" lengthAdjust="spacingAndGlyphs" stroke="#1a1a1a" stroke-width="0.1">GO_INNATE_IMMUNE_RESPONSE</text>
<text x="183.70" y="156.00" font-size="6.4" fill="#1a1a1a" font-weight="normal" text-anchor="start" textLength="46.90" lengthAdjust="spacingAndGlyphs" stroke="#1a1a1a" stroke-width="0.1">Enrichment plot:</text>
<text x="156.00" y="163.50" font-size="6.4" fill="#1a1a1a" font-weight="normal" text-anchor="start" textLength="101.50" lengthAdjust="spacingAndGlyphs" stroke="#1a1a1a" stroke-width="0.1">GO_INNATE_IMMUNE_RESPONSE</text>
<text x="61.20" y="265.00" font-size="6.4" fill="#1a1a1a" font-weight="normal" text-anchor="start" textLength="47.20" lengthAdjust="spacingAndGlyphs" stroke="#1a1a1a" stroke-width="0.1">Enrichment plot:</text>
<text x="53.90" y="272.70" font-size="6.4" fill="#1a1a1a" font-weight="normal" text-anchor="start" textLength="61.90" lengthAdjust="spacingAndGlyphs" stroke="#1a1a1a" stroke-width="0.1">KEGG_CHEMOKINE_</text>
<text x="51.90" y="280.40" font-size="6.4" fill="#1a1a1a" font-weight="normal" text-anchor="start" textLength="65.40" lengthAdjust="spacingAndGlyphs" stroke="#1a1a1a" stroke-width="0.1">SIGNALING_PATHWAY</text>
<text x="182.70" y="265.20" font-size="6.4" fill="#1a1a1a" font-weight="normal" text-anchor="start" textLength="47.70" lengthAdjust="spacingAndGlyphs" stroke="#1a1a1a" stroke-width="0.1">Enrichment plot:</text>
<text x="175.00" y="272.70" font-size="6.4" fill="#1a1a1a" font-weight="normal" text-anchor="start" textLength="62.30" lengthAdjust="spacingAndGlyphs" stroke="#1a1a1a" stroke-width="0.1">KEGG_CHEMOKINE_</text>
<text x="173.50" y="280.60" font-size="6.4" fill="#1a1a1a" font-weight="normal" text-anchor="start" textLength="66.10" lengthAdjust="spacingAndGlyphs" stroke="#1a1a1a" stroke-width="0.1">SIGNALING_PATHWAY</text>
<text x="317.20" y="146.60" font-size="6.4" fill="#1a1a1a" font-weight="normal" text-anchor="start" textLength="46.60" lengthAdjust="spacingAndGlyphs" stroke="#1a1a1a" stroke-width="0.1">Enrichment plot:</text>
<text x="303.40" y="153.50" font-size="6.4" fill="#1a1a1a" font-weight="normal" text-anchor="start" textLength="73.50" lengthAdjust="spacingAndGlyphs" stroke="#1a1a1a" stroke-width="0.1">REACTOME_GLYCOLYSIS</text>
<text x="439.20" y="146.60" font-size="6.4" fill="#1a1a1a" font-weight="normal" text-anchor="start" textLength="47.00" lengthAdjust="spacingAndGlyphs" stroke="#1a1a1a" stroke-width="0.1">Enrichment plot:</text>
<text x="425.80" y="153.50" font-size="6.4" fill="#1a1a1a" font-weight="normal" text-anchor="start" textLength="73.40" lengthAdjust="spacingAndGlyphs" stroke="#1a1a1a" stroke-width="0.1">REACTOME_GLYCOLYSIS</text>
<text x="317.10" y="263.40" font-size="6.4" fill="#1a1a1a" font-weight="normal" text-anchor="start" textLength="47.10" lengthAdjust="spacingAndGlyphs" stroke="#1a1a1a" stroke-width="0.1">Enrichment plot:</text>
<text x="290.40" y="271.30" font-size="6.4" fill="#1a1a1a" font-weight="normal" text-anchor="start" textLength="100.00" lengthAdjust="spacingAndGlyphs" stroke="#1a1a1a" stroke-width="0.1">REACTOME_GLUCONEOGENESIS</text>
<text x="438.20" y="263.40" font-size="6.4" fill="#1a1a1a" font-weight="normal" text-anchor="start" textLength="47.10" lengthAdjust="spacingAndGlyphs" stroke="#1a1a1a" stroke-width="0.1">Enrichment plot:</text>
<text x="412.50" y="271.30" font-size="6.4" fill="#1a1a1a" font-weight="normal" text-anchor="start" textLength="100.50" lengthAdjust="spacingAndGlyphs" stroke="#1a1a1a" stroke-width="0.1">REACTOME_GLUCONEOGENESIS</text>
<text x="176.60" y="382.60" font-size="7.1" fill="#d6403f" font-weight="normal" text-anchor="start" textLength="40.20" lengthAdjust="spacingAndGlyphs" >cKO P2 vs WT</text>
<line x1="176.60" y1="383.15" x2="216.80" y2="383.15" stroke="#d6403f" stroke-width="0.55" />
<text x="69.90" y="389.50" font-size="6.4" fill="#1a1a1a" font-weight="normal" text-anchor="start" textLength="46.60" lengthAdjust="spacingAndGlyphs" stroke="#1a1a1a" stroke-width="0.1">Enrichment plot:</text>
<text x="35.50" y="397.30" font-size="6.4" fill="#1a1a1a" font-weight="normal" text-anchor="start" textLength="115.75" lengthAdjust="spacingAndGlyphs" stroke="#1a1a1a" stroke-width="0.1">GO_POSITIVE_REGULATION_OF_RHO_</text>
<text x="75.80" y="403.70" font-size="6.4" fill="#1a1a1a" font-weight="normal" text-anchor="start" textLength="36.40" lengthAdjust="spacingAndGlyphs" stroke="#1a1a1a" stroke-width="0.1">PROTEIN_SI</text>
<text x="58.80" y="411.50" font-size="6.4" fill="#1a1a1a" font-weight="normal" text-anchor="start" textLength="70.00" lengthAdjust="spacingAndGlyphs" stroke="#1a1a1a" stroke-width="0.1">GNAL_TRANSDUCTION</text>
<text x="197.10" y="396.90" font-size="6.4" fill="#1a1a1a" font-weight="normal" text-anchor="start" textLength="47.20" lengthAdjust="spacingAndGlyphs" stroke="#1a1a1a" stroke-width="0.1">Enrichment plot:</text>
<text x="175.60" y="404.30" font-size="6.4" fill="#1a1a1a" font-weight="normal" text-anchor="start" textLength="90.50" lengthAdjust="spacingAndGlyphs" stroke="#1a1a1a" stroke-width="0.1">GO_REGULATION_OF_ACTIN_</text>
<text x="173.90" y="411.50" font-size="6.4" fill="#1a1a1a" font-weight="normal" text-anchor="start" textLength="94.70" lengthAdjust="spacingAndGlyphs" stroke="#1a1a1a" stroke-width="0.1">FILAMENT_BASED_MOVEMENT</text>
<text x="313.80" y="397.60" font-size="6.4" fill="#1a1a1a" font-weight="normal" text-anchor="start" textLength="48.20" lengthAdjust="spacingAndGlyphs" stroke="#1a1a1a" stroke-width="0.1">Enrichment plot:</text>
<text x="309.70" y="404.90" font-size="6.4" fill="#1a1a1a" font-weight="normal" text-anchor="start" textLength="55.90" lengthAdjust="spacingAndGlyphs" stroke="#1a1a1a" stroke-width="0.1">GO_ACTOMYOSIN</text>
<text x="70.00" y="514.90" font-size="6.4" fill="#1a1a1a" font-weight="normal" text-anchor="start" textLength="47.40" lengthAdjust="spacingAndGlyphs" stroke="#1a1a1a" stroke-width="0.1">Enrichment plot:</text>
<text x="59.80" y="522.70" font-size="6.4" fill="#1a1a1a" font-weight="normal" text-anchor="start" textLength="67.70" lengthAdjust="spacingAndGlyphs" stroke="#1a1a1a" stroke-width="0.1">GO_ACTIN_FILAMEMT</text>
<text x="79.00" y="530.40" font-size="6.4" fill="#1a1a1a" font-weight="normal" text-anchor="start" textLength="28.60" lengthAdjust="spacingAndGlyphs" stroke="#1a1a1a" stroke-width="0.1">_BUNDLE</text>
<text x="197.20" y="523.20" font-size="6.4" fill="#1a1a1a" font-weight="normal" text-anchor="start" textLength="48.20" lengthAdjust="spacingAndGlyphs" stroke="#1a1a1a" stroke-width="0.1">Enrichment plot:</text>
<text x="186.20" y="530.40" font-size="6.4" fill="#1a1a1a" font-weight="normal" text-anchor="start" textLength="69.30" lengthAdjust="spacingAndGlyphs" stroke="#1a1a1a" stroke-width="0.1">GO_ACTININ_BINDING</text>
<text x="313.80" y="523.20" font-size="6.4" fill="#1a1a1a" font-weight="normal" text-anchor="start" textLength="48.20" lengthAdjust="spacingAndGlyphs" stroke="#1a1a1a" stroke-width="0.1">Enrichment plot:</text>
<text x="298.60" y="530.40" font-size="6.4" fill="#1a1a1a" font-weight="normal" text-anchor="start" textLength="78.10" lengthAdjust="spacingAndGlyphs" stroke="#1a1a1a" stroke-width="0.1">GO_MYOSIN_II_COMPLEX</text>
<text x="7.00" y="15.70" font-size="12" fill="#000" font-weight="bold" text-anchor="start" >A</text>
<text x="264.40" y="15.70" font-size="12" fill="#000" font-weight="bold" text-anchor="start" >B</text>
<text x="7.00" y="149.30" font-size="12" fill="#000" font-weight="bold" text-anchor="start" >D</text>
<text x="264.00" y="149.50" font-size="12" fill="#000" font-weight="bold" text-anchor="start" >C</text>
<text x="7.10" y="385.70" font-size="12" fill="#000" font-weight="bold" text-anchor="start" >E</text>
<text transform="translate(273.60,68.70) rotate(-90)" x="0" y="0" font-size="6.6" fill="#222" font-weight="normal" text-anchor="middle" textLength="30.20" lengthAdjust="spacingAndGlyphs">Apoptosis</text>
<text transform="translate(17.20,254.60) rotate(-90)" x="0" y="0" font-size="6.5" fill="#222" font-weight="normal" text-anchor="middle" textLength="52.50" lengthAdjust="spacingAndGlyphs">Immune response</text>
<text transform="translate(273.60,193.80) rotate(-90)" x="0" y="0" font-size="6.5" fill="#222" font-weight="normal" text-anchor="middle" textLength="28.60" lengthAdjust="spacingAndGlyphs">Glycolysis</text>
<text transform="translate(274.10,310.70) rotate(-90)" x="0" y="0" font-size="6.5" fill="#222" font-weight="normal" text-anchor="middle" textLength="50.00" lengthAdjust="spacingAndGlyphs">Gluconeogenesis</text>
<text transform="translate(28.00,447.00) rotate(-90)" x="0" y="0" font-size="6.5" fill="#222" font-weight="normal" text-anchor="middle" textLength="24.50" lengthAdjust="spacingAndGlyphs">Function</text>
<line x1="28.70" y1="434.80" x2="28.70" y2="459.30" stroke="#333" stroke-width="0.5" />
<text transform="translate(16.80,501.50) rotate(-90)" x="0" y="0" font-size="6.5" fill="#222" font-weight="normal" text-anchor="middle" textLength="38.50" lengthAdjust="spacingAndGlyphs">Cytoskeleton</text>
<text transform="translate(28.00,568.80) rotate(-90)" x="0" y="0" font-size="6.5" fill="#222" font-weight="normal" text-anchor="middle" textLength="25.60" lengthAdjust="spacingAndGlyphs">Structure</text>
<line x1="28.70" y1="556.00" x2="28.70" y2="581.60" stroke="#333" stroke-width="0.5" />
<path d="M41.8,24.4 C50,12.5 90,10 100.3,24" fill="none" stroke="#555" stroke-width="1"/>
<path d="M97.9,22.4 L100.5,27.0 L103.4,21.8 L100.6,23.2 Z" fill="#3a3a3a"/>
<path d="M33.0,27.8 L35.5,27.6 L37.5,27.4 L39.3,26.8 L41.0,28.8 L41.0,32.5 L39.6,37 L37.3,50 L32.3,65 L31.3,76.5 L33.6,81.5 L33.3,88.2 L27,87.0 L22.2,88.2 L21.8,82.5 L26,76.5 L28,65 L31.3,50 L32.1,43 L33.2,35 L33.4,31 L32.2,29.5 Z" fill="#f4df9c" stroke="#e6cd80" stroke-width="0.3"/>
<path d="M31.5,26.5 L34.5,25.6 L37.8,27.6 L36.5,31.5 L33.6,32.5 L31.8,29.5 Z" fill="#f4df9c"/>
<circle cx="31.3" cy="25.6" r="3.5" fill="#8db6dc" stroke="#7aa6d2" stroke-width="0.3"/>
<path d="M22.3,85 Q27,82.3 33.3,84.4 L33.2,88.4 Q30,86.7 27,87.4 Q24,87 22.3,88.5 Z" fill="#8db6dc"/>
<ellipse cx="70.85" cy="63.7" rx="22.35" ry="23.3" fill="#f2dddd" stroke="#b45a60" stroke-width="1.1"/>
<ellipse cx="139.2" cy="63.7" rx="24.2" ry="23.3" fill="#dde9ef" stroke="#4a8294" stroke-width="1.1"/>
<text x="81.40" y="38.90" font-size="8.0" fill="#4a4a4a" font-weight="bold" text-anchor="start" textLength="17.00" lengthAdjust="spacingAndGlyphs" >GR1</text>
<text x="98.90" y="35.20" font-size="5.2" fill="#4a4a4a" font-weight="bold" text-anchor="start" >+</text>
<text x="104.30" y="38.90" font-size="8.0" fill="#4a4a4a" font-weight="bold" text-anchor="start" textLength="24.90" lengthAdjust="spacingAndGlyphs" >BMDN</text>
<text x="70.90" y="56.50" font-size="8" fill="#b3262b" font-weight="bold" text-anchor="middle" stroke="#b3262b" stroke-width="0.25">cKO P2</text>
<text x="70.90" y="65.90" font-size="8" fill="#b3262b" font-weight="bold" text-anchor="middle" stroke="#b3262b" stroke-width="0.25">vs</text>
<text x="70.90" y="75.10" font-size="8" fill="#b3262b" font-weight="bold" text-anchor="middle" stroke="#b3262b" stroke-width="0.25">WT</text>
<text x="139.30" y="56.50" font-size="8" fill="#2f86a3" font-weight="bold" text-anchor="middle" stroke="#2f86a3" stroke-width="0.25">cKO P2H2</text>
<text x="139.30" y="65.90" font-size="8" fill="#2f86a3" font-weight="bold" text-anchor="middle" stroke="#2f86a3" stroke-width="0.25">vs</text>
<text x="139.40" y="75.10" font-size="8" fill="#2f86a3" font-weight="bold" text-anchor="middle" stroke="#2f86a3" stroke-width="0.25">WT</text>
<line x1="77.5" y1="88.8" x2="86.8" y2="105" stroke="#444" stroke-width="0.9"/>
<path d="M83.9,103.6 L88.3,107.5 L88.0,101.6 Z" fill="#3a3a3a"/>
<line x1="131.3" y1="88.8" x2="122.0" y2="105" stroke="#444" stroke-width="0.9"/>
<path d="M124.9,103.6 L120.5,107.5 L120.8,101.6 Z" fill="#3a3a3a"/>
<text x="43.75" y="114.60" font-size="8.5" fill="#505050" font-weight="normal" text-anchor="start" textLength="118.75" lengthAdjust="spacingAndGlyphs" >Whole transcriptome sequencing</text>
<text x="49.50" y="124.30" font-size="8.5" fill="#505050" font-weight="normal" text-anchor="start" textLength="106.75" lengthAdjust="spacingAndGlyphs" >Gene Set Enrichment Analysis</text>
</svg>
<div class="frame"></div>
</body></html>
